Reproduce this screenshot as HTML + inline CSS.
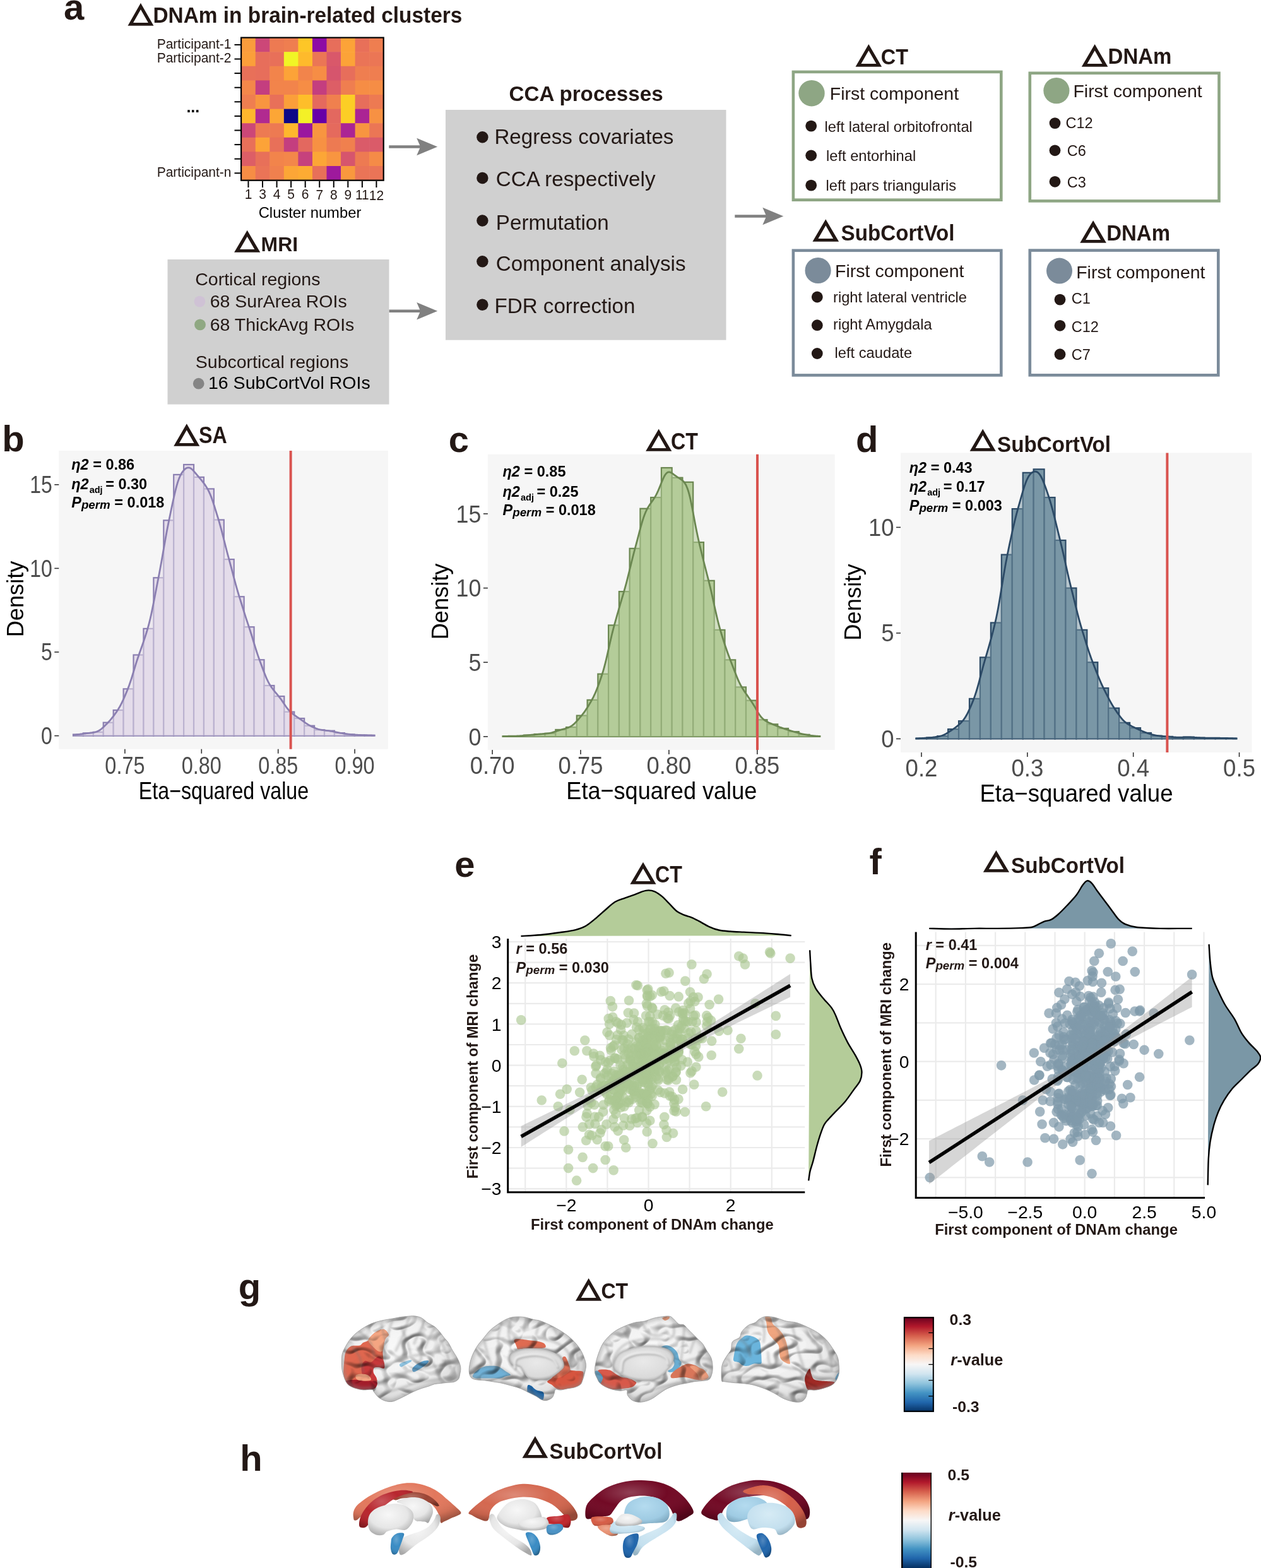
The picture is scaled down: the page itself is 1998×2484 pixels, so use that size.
<!DOCTYPE html>
<html><head><meta charset="utf-8"><title>Figure</title>
<style>html,body{margin:0;padding:0;background:#fff;}svg{display:block;}</style>
</head><body>
<svg width="1998" height="2484" viewBox="0 0 1998 2484" font-family="'Liberation Sans', Arial, Helvetica, sans-serif">
<rect width="1998" height="2484" fill="#fff"/>
<text x="101.1" y="30.9" font-size="58" font-weight="bold" fill="#231815">a</text>
<text transform="translate(199.53 39.63) scale(1.0993 1)" font-family="&apos;IPAGothic&apos;, &apos;DejaVu Sans&apos;, sans-serif" font-size="42.71" fill="#231815" stroke="#231815" stroke-width="1.84" stroke-linejoin="miter">&#9651;</text>
<text transform="translate(242.5 36.4) scale(1 1.050)" font-size="33.4" font-weight="bold" fill="#231815">DNAm in brain-related clusters</text>
<rect x="382.2" y="59.6" width="23.15" height="23.2" fill="#fa9c3c"/>
<rect x="404.75" y="59.6" width="23.15" height="23.2" fill="#cc4778"/>
<rect x="427.3" y="59.6" width="23.15" height="23.2" fill="#ed7a52"/>
<rect x="449.85" y="59.6" width="23.15" height="23.2" fill="#ef7e50"/>
<rect x="472.4" y="59.6" width="23.15" height="23.2" fill="#fdc627"/>
<rect x="494.95" y="59.6" width="23.15" height="23.2" fill="#8d0ba5"/>
<rect x="517.5" y="59.6" width="23.15" height="23.2" fill="#e76e5b"/>
<rect x="540.05" y="59.6" width="23.15" height="23.2" fill="#fca338"/>
<rect x="562.6" y="59.6" width="23.15" height="23.2" fill="#e87059"/>
<rect x="585.15" y="59.6" width="23.15" height="23.2" fill="#ef7e50"/>
<rect x="382.2" y="82.2" width="23.15" height="23.2" fill="#fb9f3a"/>
<rect x="404.75" y="82.2" width="23.15" height="23.2" fill="#e76e5b"/>
<rect x="427.3" y="82.2" width="23.15" height="23.2" fill="#e87059"/>
<rect x="449.85" y="82.2" width="23.15" height="23.2" fill="#f1f525"/>
<rect x="472.4" y="82.2" width="23.15" height="23.2" fill="#feba2c"/>
<rect x="494.95" y="82.2" width="23.15" height="23.2" fill="#eb7655"/>
<rect x="517.5" y="82.2" width="23.15" height="23.2" fill="#d9586a"/>
<rect x="540.05" y="82.2" width="23.15" height="23.2" fill="#fca338"/>
<rect x="562.6" y="82.2" width="23.15" height="23.2" fill="#ea7457"/>
<rect x="585.15" y="82.2" width="23.15" height="23.2" fill="#eb7655"/>
<rect x="382.2" y="104.8" width="23.15" height="23.2" fill="#e87059"/>
<rect x="404.75" y="104.8" width="23.15" height="23.2" fill="#e76e5b"/>
<rect x="427.3" y="104.8" width="23.15" height="23.2" fill="#f2844b"/>
<rect x="449.85" y="104.8" width="23.15" height="23.2" fill="#fca338"/>
<rect x="472.4" y="104.8" width="23.15" height="23.2" fill="#f2844b"/>
<rect x="494.95" y="104.8" width="23.15" height="23.2" fill="#f68d45"/>
<rect x="517.5" y="104.8" width="23.15" height="23.2" fill="#d6556d"/>
<rect x="540.05" y="104.8" width="23.15" height="23.2" fill="#e76e5b"/>
<rect x="562.6" y="104.8" width="23.15" height="23.2" fill="#ef7e50"/>
<rect x="585.15" y="104.8" width="23.15" height="23.2" fill="#ef7e50"/>
<rect x="382.2" y="127.4" width="23.15" height="23.2" fill="#f3874a"/>
<rect x="404.75" y="127.4" width="23.15" height="23.2" fill="#c43e7f"/>
<rect x="427.3" y="127.4" width="23.15" height="23.2" fill="#f2844b"/>
<rect x="449.85" y="127.4" width="23.15" height="23.2" fill="#f2844b"/>
<rect x="472.4" y="127.4" width="23.15" height="23.2" fill="#f68d45"/>
<rect x="494.95" y="127.4" width="23.15" height="23.2" fill="#c43e7f"/>
<rect x="517.5" y="127.4" width="23.15" height="23.2" fill="#dd5e66"/>
<rect x="540.05" y="127.4" width="23.15" height="23.2" fill="#ef7e50"/>
<rect x="562.6" y="127.4" width="23.15" height="23.2" fill="#f68d45"/>
<rect x="585.15" y="127.4" width="23.15" height="23.2" fill="#f68d45"/>
<rect x="382.2" y="150" width="23.15" height="23.2" fill="#ef7e50"/>
<rect x="404.75" y="150" width="23.15" height="23.2" fill="#f89540"/>
<rect x="427.3" y="150" width="23.15" height="23.2" fill="#e87059"/>
<rect x="449.85" y="150" width="23.15" height="23.2" fill="#fb9f3a"/>
<rect x="472.4" y="150" width="23.15" height="23.2" fill="#febe2a"/>
<rect x="494.95" y="150" width="23.15" height="23.2" fill="#e56a5d"/>
<rect x="517.5" y="150" width="23.15" height="23.2" fill="#f0804e"/>
<rect x="540.05" y="150" width="23.15" height="23.2" fill="#fcce25"/>
<rect x="562.6" y="150" width="23.15" height="23.2" fill="#e76e5b"/>
<rect x="585.15" y="150" width="23.15" height="23.2" fill="#ed7a52"/>
<rect x="382.2" y="172.6" width="23.15" height="23.2" fill="#feb72d"/>
<rect x="404.75" y="172.6" width="23.15" height="23.2" fill="#b12a90"/>
<rect x="427.3" y="172.6" width="23.15" height="23.2" fill="#fca636"/>
<rect x="449.85" y="172.6" width="23.15" height="23.2" fill="#0d0887"/>
<rect x="472.4" y="172.6" width="23.15" height="23.2" fill="#f3f027"/>
<rect x="494.95" y="172.6" width="23.15" height="23.2" fill="#6600a7"/>
<rect x="517.5" y="172.6" width="23.15" height="23.2" fill="#e3685f"/>
<rect x="540.05" y="172.6" width="23.15" height="23.2" fill="#fcce25"/>
<rect x="562.6" y="172.6" width="23.15" height="23.2" fill="#ab2494"/>
<rect x="585.15" y="172.6" width="23.15" height="23.2" fill="#f79143"/>
<rect x="382.2" y="195.2" width="23.15" height="23.2" fill="#cc4778"/>
<rect x="404.75" y="195.2" width="23.15" height="23.2" fill="#ed7a52"/>
<rect x="427.3" y="195.2" width="23.15" height="23.2" fill="#ed7a52"/>
<rect x="449.85" y="195.2" width="23.15" height="23.2" fill="#feb72d"/>
<rect x="472.4" y="195.2" width="23.15" height="23.2" fill="#9a169f"/>
<rect x="494.95" y="195.2" width="23.15" height="23.2" fill="#f89540"/>
<rect x="517.5" y="195.2" width="23.15" height="23.2" fill="#e56a5d"/>
<rect x="540.05" y="195.2" width="23.15" height="23.2" fill="#ab2494"/>
<rect x="562.6" y="195.2" width="23.15" height="23.2" fill="#f89540"/>
<rect x="585.15" y="195.2" width="23.15" height="23.2" fill="#eb7655"/>
<rect x="382.2" y="217.8" width="23.15" height="23.2" fill="#e87059"/>
<rect x="404.75" y="217.8" width="23.15" height="23.2" fill="#fca338"/>
<rect x="427.3" y="217.8" width="23.15" height="23.2" fill="#e87059"/>
<rect x="449.85" y="217.8" width="23.15" height="23.2" fill="#c43e7f"/>
<rect x="472.4" y="217.8" width="23.15" height="23.2" fill="#e3685f"/>
<rect x="494.95" y="217.8" width="23.15" height="23.2" fill="#f79143"/>
<rect x="517.5" y="217.8" width="23.15" height="23.2" fill="#ed7a52"/>
<rect x="540.05" y="217.8" width="23.15" height="23.2" fill="#f0804e"/>
<rect x="562.6" y="217.8" width="23.15" height="23.2" fill="#da5b69"/>
<rect x="585.15" y="217.8" width="23.15" height="23.2" fill="#da5b69"/>
<rect x="382.2" y="240.4" width="23.15" height="23.2" fill="#dd5e66"/>
<rect x="404.75" y="240.4" width="23.15" height="23.2" fill="#e87059"/>
<rect x="427.3" y="240.4" width="23.15" height="23.2" fill="#f2844b"/>
<rect x="449.85" y="240.4" width="23.15" height="23.2" fill="#f3874a"/>
<rect x="472.4" y="240.4" width="23.15" height="23.2" fill="#c6417d"/>
<rect x="494.95" y="240.4" width="23.15" height="23.2" fill="#fca636"/>
<rect x="517.5" y="240.4" width="23.15" height="23.2" fill="#f89540"/>
<rect x="540.05" y="240.4" width="23.15" height="23.2" fill="#d6556d"/>
<rect x="562.6" y="240.4" width="23.15" height="23.2" fill="#ed7a52"/>
<rect x="585.15" y="240.4" width="23.15" height="23.2" fill="#f58b47"/>
<rect x="382.2" y="263" width="23.15" height="23.2" fill="#f68d45"/>
<rect x="404.75" y="263" width="23.15" height="23.2" fill="#ea7457"/>
<rect x="427.3" y="263" width="23.15" height="23.2" fill="#f0804e"/>
<rect x="449.85" y="263" width="23.15" height="23.2" fill="#fca636"/>
<rect x="472.4" y="263" width="23.15" height="23.2" fill="#fdab33"/>
<rect x="494.95" y="263" width="23.15" height="23.2" fill="#e87059"/>
<rect x="517.5" y="263" width="23.15" height="23.2" fill="#9e199d"/>
<rect x="540.05" y="263" width="23.15" height="23.2" fill="#f9983e"/>
<rect x="562.6" y="263" width="23.15" height="23.2" fill="#ea7457"/>
<rect x="585.15" y="263" width="23.15" height="23.2" fill="#ea7457"/>
<rect x="382.1" y="59.6" width="225.6" height="226.1" fill="none" stroke="#000" stroke-width="2.2"/>
<line x1="371.5" y1="70.9" x2="381" y2="70.9" stroke="#000" stroke-width="2"/>
<line x1="371.5" y1="93.5" x2="381" y2="93.5" stroke="#000" stroke-width="2"/>
<line x1="371.5" y1="116.1" x2="381" y2="116.1" stroke="#000" stroke-width="2"/>
<line x1="371.5" y1="138.7" x2="381" y2="138.7" stroke="#000" stroke-width="2"/>
<line x1="371.5" y1="161.3" x2="381" y2="161.3" stroke="#000" stroke-width="2"/>
<line x1="371.5" y1="183.9" x2="381" y2="183.9" stroke="#000" stroke-width="2"/>
<line x1="371.5" y1="206.5" x2="381" y2="206.5" stroke="#000" stroke-width="2"/>
<line x1="371.5" y1="229.1" x2="381" y2="229.1" stroke="#000" stroke-width="2"/>
<line x1="371.5" y1="251.7" x2="381" y2="251.7" stroke="#000" stroke-width="2"/>
<line x1="371.5" y1="274.3" x2="381" y2="274.3" stroke="#000" stroke-width="2"/>
<text transform="translate(366.5 76.8) scale(1 1.050)" font-size="21" text-anchor="end" fill="#231815">Participant-1</text>
<text transform="translate(366.5 99.4) scale(1 1.050)" font-size="21" text-anchor="end" fill="#231815">Participant-2</text>
<text transform="translate(366.5 280.2) scale(1 1.050)" font-size="21" text-anchor="end" fill="#231815">Participant-n</text>
<text x="305.8" y="177.5" font-size="25" font-weight="bold" text-anchor="middle" fill="#000">...</text>
<line x1="393.47" y1="287" x2="393.47" y2="297" stroke="#000" stroke-width="2"/>
<text transform="translate(393.47 314.6) scale(1 1.050)" font-size="21" text-anchor="middle" fill="#231815">1</text>
<line x1="416.02" y1="287" x2="416.02" y2="297" stroke="#000" stroke-width="2"/>
<text transform="translate(416.02 314.82) scale(1 1.050)" font-size="21" text-anchor="middle" fill="#231815">3</text>
<line x1="438.57" y1="287" x2="438.57" y2="297" stroke="#000" stroke-width="2"/>
<text transform="translate(438.57 315.04) scale(1 1.050)" font-size="21" text-anchor="middle" fill="#231815">4</text>
<line x1="461.12" y1="287" x2="461.12" y2="297" stroke="#000" stroke-width="2"/>
<text transform="translate(461.12 315.26) scale(1 1.050)" font-size="21" text-anchor="middle" fill="#231815">5</text>
<line x1="483.68" y1="287" x2="483.68" y2="297" stroke="#000" stroke-width="2"/>
<text transform="translate(483.68 315.48) scale(1 1.050)" font-size="21" text-anchor="middle" fill="#231815">6</text>
<line x1="506.23" y1="287" x2="506.23" y2="297" stroke="#000" stroke-width="2"/>
<text transform="translate(506.23 315.7) scale(1 1.050)" font-size="21" text-anchor="middle" fill="#231815">7</text>
<line x1="528.77" y1="287" x2="528.77" y2="297" stroke="#000" stroke-width="2"/>
<text transform="translate(528.77 315.92) scale(1 1.050)" font-size="21" text-anchor="middle" fill="#231815">8</text>
<line x1="551.33" y1="287" x2="551.33" y2="297" stroke="#000" stroke-width="2"/>
<text transform="translate(551.33 316.14) scale(1 1.050)" font-size="21" text-anchor="middle" fill="#231815">9</text>
<line x1="573.88" y1="287" x2="573.88" y2="297" stroke="#000" stroke-width="2"/>
<text transform="translate(573.88 316.36) scale(1 1.050)" font-size="21" text-anchor="middle" fill="#231815">11</text>
<line x1="596.42" y1="287" x2="596.42" y2="297" stroke="#000" stroke-width="2"/>
<text transform="translate(596.42 316.58) scale(1 1.050)" font-size="21" text-anchor="middle" fill="#231815">12</text>
<text x="491" y="344.5" font-size="23.8" text-anchor="middle" fill="#000">Cluster number</text>
<line x1="616.3" y1="232.5" x2="672.7" y2="232.5" stroke="#808080" stroke-width="4.4"/>
<polygon points="693.2,232.5 660.2,218.8 666.2,232.5 660.2,246.2" fill="#808080"/>
<line x1="616.3" y1="492.7" x2="672.7" y2="492.7" stroke="#808080" stroke-width="4.4"/>
<polygon points="693.2,492.7 660.2,479 666.2,492.7 660.2,506.4" fill="#808080"/>
<line x1="1164.3" y1="342.5" x2="1220.8" y2="342.5" stroke="#808080" stroke-width="4.4"/>
<polygon points="1241.3,342.5 1208.3,328.8 1214.3,342.5 1208.3,356.2" fill="#808080"/>
<rect x="706" y="174" width="444.5" height="364.7" fill="#d0d0d0"/>
<text x="928.6" y="160" font-size="33.2" font-weight="bold" text-anchor="middle" fill="#231815">CCA processes</text>
<circle cx="764.4" cy="217.3" r="9.2" fill="#231815"/>
<text x="783.4" y="228.4" font-size="33.2" fill="#231815">Regress covariates</text>
<circle cx="764.4" cy="282" r="9.2" fill="#231815"/>
<text x="785.8" y="294.8" font-size="33.2" fill="#231815">CCA respectively</text>
<circle cx="764.4" cy="349.5" r="9.2" fill="#231815"/>
<text x="785.8" y="364" font-size="33.2" fill="#231815">Permutation</text>
<circle cx="764.4" cy="414.2" r="9.2" fill="#231815"/>
<text x="785.8" y="428.7" font-size="33.2" fill="#231815">Component analysis</text>
<circle cx="764.4" cy="482.7" r="9.2" fill="#231815"/>
<text x="783.4" y="495.5" font-size="33.2" fill="#231815">FDR correction</text>
<text transform="translate(368.28 399.35) scale(1.1415 1)" font-family="&apos;IPAGothic&apos;, &apos;DejaVu Sans&apos;, sans-serif" font-size="41.13" fill="#231815" stroke="#231815" stroke-width="1.94" stroke-linejoin="miter">&#9651;</text>
<text x="413.6" y="398.1" font-size="31.9" font-weight="bold" fill="#231815">MRI</text>
<rect x="265.5" y="411" width="351" height="229.6" fill="#d0d0d0"/>
<text x="309.2" y="452.1" font-size="28.55" fill="#231815">Cortical regions</text>
<circle cx="316.4" cy="477.6" r="8.9" fill="#cfc2d5"/>
<text x="332.7" y="486.7" font-size="28.5" fill="#231815">68 SurArea ROIs</text>
<circle cx="317" cy="514.4" r="8.9" fill="#8fa882"/>
<text x="332.7" y="524" font-size="28.5" fill="#231815">68 ThickAvg ROIs</text>
<text x="309.8" y="582.8" font-size="28.5" fill="#231815">Subcortical regions</text>
<circle cx="314.7" cy="607.7" r="8.9" fill="#858585"/>
<text x="330" y="616.3" font-size="28.5" fill="#000">16 SubCortVol ROIs</text>
<rect x="1256.9" y="113.9" width="329.4" height="202.8" fill="none" stroke="#8ea684" stroke-width="4.6"/>
<rect x="1631.8" y="115.8" width="299.7" height="202.6" fill="none" stroke="#8ea684" stroke-width="4.6"/>
<rect x="1256.9" y="396.8" width="329.4" height="197.6" fill="none" stroke="#7b8b9a" stroke-width="4.6"/>
<rect x="1631.8" y="396.6" width="298.5" height="197.7" fill="none" stroke="#7b8b9a" stroke-width="4.6"/>
<text transform="translate(1352.46 104.53) scale(1.1203 1)" font-family="&apos;IPAGothic&apos;, &apos;DejaVu Sans&apos;, sans-serif" font-size="42.57" fill="#231815" stroke="#231815" stroke-width="1.85" stroke-linejoin="miter">&#9651;</text>
<text transform="translate(1395.8 101.5) scale(1 1.090)" font-size="32.4" font-weight="bold" fill="#231815">CT</text>
<text transform="translate(1710.76 104.62) scale(1.1238 1)" font-family="&apos;IPAGothic&apos;, &apos;DejaVu Sans&apos;, sans-serif" font-size="42.42" fill="#231815" stroke="#231815" stroke-width="1.86" stroke-linejoin="miter">&#9651;</text>
<text transform="translate(1755.6 101.3) scale(1 1.090)" font-size="33" font-weight="bold" fill="#231815">DNAm</text>
<text transform="translate(1284.48 382.2) scale(1.1346 1)" font-family="&apos;IPAGothic&apos;, &apos;DejaVu Sans&apos;, sans-serif" font-size="41.99" fill="#231815" stroke="#231815" stroke-width="1.89" stroke-linejoin="miter">&#9651;</text>
<text transform="translate(1332.5 381.3) scale(1 1.070)" font-size="33.2" font-weight="bold" fill="#231815">SubCortVol</text>
<text transform="translate(1708.17 383.6) scale(1.1310 1)" font-family="&apos;IPAGothic&apos;, &apos;DejaVu Sans&apos;, sans-serif" font-size="42.13" fill="#231815" stroke="#231815" stroke-width="1.88" stroke-linejoin="miter">&#9651;</text>
<text transform="translate(1753.2 380.6) scale(1 1.090)" font-size="33" font-weight="bold" fill="#231815">DNAm</text>
<circle cx="1286" cy="147.7" r="20.7" fill="#8ea684"/>
<text x="1314.8" y="158" font-size="28.5" fill="#231815">First component</text>
<circle cx="1285.2" cy="199.6" r="8.9" fill="#231815"/>
<text x="1306.5" y="208.5" font-size="23.7" fill="#231815">left lateral orbitofrontal</text>
<circle cx="1285.2" cy="246.3" r="8.9" fill="#231815"/>
<text x="1309" y="254.8" font-size="23.7" fill="#231815">left entorhinal</text>
<circle cx="1285.2" cy="293.6" r="8.9" fill="#231815"/>
<text x="1308.5" y="302.2" font-size="23.7" fill="#231815">left pars triangularis</text>
<circle cx="1673.9" cy="143.6" r="20.6" fill="#8ea684"/>
<text x="1700.4" y="153.5" font-size="28.5" fill="#231815">First component</text>
<circle cx="1671.5" cy="195.1" r="8.9" fill="#231815"/>
<text x="1688.5" y="203.2" font-size="23.5" fill="#231815">C12</text>
<circle cx="1671.5" cy="238.3" r="8.9" fill="#231815"/>
<text x="1690.8" y="246.9" font-size="23.5" fill="#231815">C6</text>
<circle cx="1671.5" cy="287.8" r="8.9" fill="#231815"/>
<text x="1690.8" y="296.7" font-size="23.5" fill="#231815">C3</text>
<circle cx="1296.1" cy="428.5" r="20.6" fill="#7b8b9a"/>
<text x="1323.1" y="438.9" font-size="28.5" fill="#231815">First component</text>
<circle cx="1294.8" cy="470.5" r="8.9" fill="#231815"/>
<text x="1320" y="478.8" font-size="23.7" fill="#231815">right lateral ventricle</text>
<circle cx="1294.8" cy="515.2" r="8.9" fill="#231815"/>
<text x="1320" y="522.4" font-size="23.7" fill="#231815">right Amygdala</text>
<circle cx="1294.8" cy="560" r="8.9" fill="#231815"/>
<text x="1322.6" y="567" font-size="23.7" fill="#231815">left caudate</text>
<circle cx="1678.5" cy="429.1" r="20.5" fill="#7b8b9a"/>
<text x="1705.2" y="441.2" font-size="28.5" fill="#231815">First component</text>
<circle cx="1679.5" cy="474.6" r="8.9" fill="#231815"/>
<text x="1697.7" y="481.2" font-size="23.5" fill="#231815">C1</text>
<circle cx="1679.5" cy="515.8" r="8.9" fill="#231815"/>
<text x="1697.7" y="525.9" font-size="23.5" fill="#231815">C12</text>
<circle cx="1679.5" cy="561.2" r="8.9" fill="#231815"/>
<text x="1697.7" y="570" font-size="23.5" fill="#231815">C7</text>
<rect x="93.3" y="714" width="521.5" height="472.7" fill="#f6f6f6"/>
<g>
<rect x="116" y="1163.48" width="15.92" height="2.12" fill="#e4dcea" stroke="#8b7fb1" stroke-width="2.2"/>
<rect x="131.92" y="1161.36" width="15.92" height="4.24" fill="#e4dcea" stroke="#8b7fb1" stroke-width="2.2"/>
<rect x="147.84" y="1159.77" width="15.92" height="5.83" fill="#e4dcea" stroke="#8b7fb1" stroke-width="2.2"/>
<rect x="163.76" y="1144.65" width="15.92" height="20.95" fill="#e4dcea" stroke="#8b7fb1" stroke-width="2.2"/>
<rect x="179.68" y="1125.02" width="15.92" height="40.58" fill="#e4dcea" stroke="#8b7fb1" stroke-width="2.2"/>
<rect x="195.6" y="1091.34" width="15.92" height="74.26" fill="#e4dcea" stroke="#8b7fb1" stroke-width="2.2"/>
<rect x="211.52" y="1037.51" width="15.92" height="128.09" fill="#e4dcea" stroke="#8b7fb1" stroke-width="2.2"/>
<rect x="227.44" y="995.87" width="15.92" height="169.73" fill="#e4dcea" stroke="#8b7fb1" stroke-width="2.2"/>
<rect x="243.36" y="915.25" width="15.92" height="250.35" fill="#e4dcea" stroke="#8b7fb1" stroke-width="2.2"/>
<rect x="259.28" y="824.29" width="15.92" height="341.31" fill="#e4dcea" stroke="#8b7fb1" stroke-width="2.2"/>
<rect x="275.2" y="751.89" width="15.92" height="413.71" fill="#e4dcea" stroke="#8b7fb1" stroke-width="2.2"/>
<rect x="291.12" y="735.98" width="15.92" height="429.62" fill="#e4dcea" stroke="#8b7fb1" stroke-width="2.2"/>
<rect x="307.04" y="755.87" width="15.92" height="409.73" fill="#e4dcea" stroke="#8b7fb1" stroke-width="2.2"/>
<rect x="322.96" y="774.43" width="15.92" height="391.17" fill="#e4dcea" stroke="#8b7fb1" stroke-width="2.2"/>
<rect x="338.88" y="823.49" width="15.92" height="342.11" fill="#e4dcea" stroke="#8b7fb1" stroke-width="2.2"/>
<rect x="354.8" y="886.08" width="15.92" height="279.52" fill="#e4dcea" stroke="#8b7fb1" stroke-width="2.2"/>
<rect x="370.72" y="945.22" width="15.92" height="220.38" fill="#e4dcea" stroke="#8b7fb1" stroke-width="2.2"/>
<rect x="386.64" y="993.22" width="15.92" height="172.38" fill="#e4dcea" stroke="#8b7fb1" stroke-width="2.2"/>
<rect x="402.56" y="1045.2" width="15.92" height="120.4" fill="#e4dcea" stroke="#8b7fb1" stroke-width="2.2"/>
<rect x="418.48" y="1086.04" width="15.92" height="79.56" fill="#e4dcea" stroke="#8b7fb1" stroke-width="2.2"/>
<rect x="434.4" y="1103.01" width="15.92" height="62.59" fill="#e4dcea" stroke="#8b7fb1" stroke-width="2.2"/>
<rect x="450.32" y="1127.68" width="15.92" height="37.92" fill="#e4dcea" stroke="#8b7fb1" stroke-width="2.2"/>
<rect x="466.24" y="1138.02" width="15.92" height="27.58" fill="#e4dcea" stroke="#8b7fb1" stroke-width="2.2"/>
<rect x="482.16" y="1149.69" width="15.92" height="15.91" fill="#e4dcea" stroke="#8b7fb1" stroke-width="2.2"/>
<rect x="498.08" y="1156.32" width="15.92" height="9.28" fill="#e4dcea" stroke="#8b7fb1" stroke-width="2.2"/>
<rect x="514" y="1157.64" width="15.92" height="7.96" fill="#e4dcea" stroke="#8b7fb1" stroke-width="2.2"/>
<rect x="529.92" y="1161.09" width="15.92" height="4.51" fill="#e4dcea" stroke="#8b7fb1" stroke-width="2.2"/>
<rect x="545.84" y="1163.48" width="15.92" height="2.12" fill="#e4dcea" stroke="#8b7fb1" stroke-width="2.2"/>
<rect x="561.76" y="1164.54" width="15.92" height="1.06" fill="#e4dcea" stroke="#8b7fb1" stroke-width="2.2"/>
<rect x="577.68" y="1164.8" width="15.92" height="0.8" fill="#e4dcea" stroke="#8b7fb1" stroke-width="2.2"/>
</g>
<polygon points="116,1165.6 116,1164.51 117.2,1164.36 118.39,1164.2 119.59,1164.04 120.79,1163.89 121.98,1163.73 123.18,1163.58 124.38,1163.42 125.58,1163.27 126.77,1163.12 127.97,1162.96 129.17,1162.8 130.36,1162.64 131.56,1162.47 132.76,1162.31 133.95,1162.15 135.15,1161.99 136.35,1161.84 137.55,1161.7 138.74,1161.55 139.94,1161.42 141.14,1161.28 142.33,1161.14 143.53,1161 144.73,1160.85 145.92,1160.69 147.12,1160.51 148.32,1160.31 149.52,1160.08 150.71,1159.8 151.91,1159.48 153.11,1159.1 154.3,1158.64 155.5,1158.1 156.7,1157.47 157.89,1156.75 159.09,1155.93 160.29,1155.02 161.49,1154.03 162.68,1152.97 163.88,1151.86 165.08,1150.71 166.27,1149.54 167.47,1148.35 168.67,1147.16 169.86,1145.95 171.06,1144.72 172.26,1143.46 173.46,1142.17 174.65,1140.82 175.85,1139.42 177.05,1137.97 178.24,1136.46 179.44,1134.91 180.64,1133.31 181.83,1131.68 183.03,1130.02 184.23,1128.32 185.43,1126.56 186.62,1124.74 187.82,1122.84 189.02,1120.84 190.21,1118.72 191.41,1116.48 192.61,1114.11 193.8,1111.63 195,1109.06 196.2,1106.4 197.4,1103.67 198.59,1100.9 199.79,1098.07 200.99,1095.17 202.18,1092.2 203.38,1089.12 204.58,1085.91 205.77,1082.54 206.97,1079.01 208.17,1075.31 209.37,1071.47 210.56,1067.52 211.76,1063.52 212.96,1059.51 214.15,1055.54 215.35,1051.66 216.55,1047.88 217.74,1044.23 218.94,1040.68 220.14,1037.22 221.34,1033.82 222.53,1030.44 223.73,1027.06 224.93,1023.65 226.12,1020.19 227.32,1016.69 228.52,1013.13 229.71,1009.51 230.91,1005.81 232.11,1002 233.31,998.05 234.5,993.91 235.7,989.54 236.9,984.9 238.09,979.96 239.29,974.7 240.49,969.15 241.68,963.35 242.88,957.35 244.08,951.22 245.28,945.03 246.47,938.82 247.67,932.64 248.87,926.48 250.06,920.34 251.26,914.17 252.46,907.93 253.65,901.58 254.85,895.07 256.05,888.42 257.25,881.62 258.44,874.73 259.64,867.8 260.84,860.91 262.03,854.14 263.23,847.52 264.43,841.11 265.62,834.89 266.82,828.86 268.02,822.98 269.22,817.2 270.41,811.49 271.61,805.81 272.81,800.16 274,794.57 275.2,789.07 276.4,783.74 277.59,778.62 278.79,773.81 279.99,769.35 281.18,765.28 282.38,761.62 283.58,758.37 284.78,755.5 285.97,752.97 287.17,750.75 288.37,748.8 289.56,747.08 290.76,745.56 291.96,744.24 293.15,743.12 294.35,742.2 295.55,741.49 296.75,741.01 297.94,740.78 299.14,740.79 300.34,741.06 301.53,741.57 302.73,742.31 303.93,743.24 305.12,744.35 306.32,745.58 307.52,746.92 308.72,748.31 309.91,749.73 311.11,751.15 312.31,752.57 313.5,753.98 314.7,755.37 315.9,756.76 317.09,758.16 318.29,759.59 319.49,761.04 320.69,762.54 321.88,764.09 323.08,765.69 324.28,767.36 325.47,769.1 326.67,770.93 327.87,772.87 329.06,774.95 330.26,777.19 331.46,779.64 332.66,782.3 333.85,785.19 335.05,788.31 336.25,791.63 337.44,795.14 338.64,798.8 339.84,802.55 341.03,806.36 342.23,810.21 343.43,814.08 344.63,817.98 345.82,821.91 347.02,825.92 348.22,830.02 349.41,834.26 350.61,838.63 351.81,843.15 353,847.8 354.2,852.53 355.4,857.31 356.6,862.09 357.79,866.82 358.99,871.48 360.19,876.05 361.38,880.53 362.58,884.96 363.78,889.36 364.97,893.76 366.17,898.2 367.37,902.69 368.57,907.23 369.76,911.8 370.96,916.37 372.16,920.9 373.35,925.36 374.55,929.7 375.75,933.92 376.94,938.01 378.14,941.97 379.34,945.85 380.54,949.68 381.73,953.47 382.93,957.27 384.13,961.08 385.32,964.91 386.52,968.74 387.72,972.56 388.91,976.35 390.11,980.09 391.31,983.77 392.51,987.42 393.7,991.03 394.9,994.65 396.1,998.3 397.29,1002 398.49,1005.78 399.69,1009.64 400.88,1013.57 402.08,1017.53 403.28,1021.49 404.48,1025.41 405.67,1029.26 406.87,1033 408.07,1036.63 409.26,1040.13 410.46,1043.53 411.66,1046.86 412.85,1050.13 414.05,1053.36 415.25,1056.58 416.45,1059.79 417.64,1062.97 418.84,1066.09 420.04,1069.13 421.23,1072.05 422.43,1074.83 423.63,1077.43 424.82,1079.86 426.02,1082.1 427.22,1084.18 428.42,1086.1 429.61,1087.9 430.81,1089.61 432.01,1091.23 433.2,1092.79 434.4,1094.31 435.6,1095.8 436.79,1097.26 437.99,1098.7 439.19,1100.14 440.38,1101.59 441.58,1103.05 442.78,1104.56 443.98,1106.11 445.17,1107.73 446.37,1109.4 447.57,1111.14 448.76,1112.92 449.96,1114.72 451.16,1116.51 452.35,1118.27 453.55,1119.97 454.75,1121.59 455.95,1123.1 457.14,1124.52 458.34,1125.83 459.54,1127.04 460.73,1128.18 461.93,1129.24 463.13,1130.25 464.32,1131.21 465.52,1132.14 466.72,1133.03 467.92,1133.9 469.11,1134.75 470.31,1135.58 471.51,1136.39 472.7,1137.19 473.9,1137.99 475.1,1138.79 476.29,1139.6 477.49,1140.43 478.69,1141.28 479.89,1142.14 481.08,1143.02 482.28,1143.89 483.48,1144.76 484.67,1145.61 485.87,1146.42 487.07,1147.2 488.26,1147.94 489.46,1148.64 490.66,1149.31 491.86,1149.94 493.05,1150.54 494.25,1151.12 495.45,1151.69 496.64,1152.23 497.84,1152.76 499.04,1153.27 500.23,1153.76 501.43,1154.21 502.63,1154.63 503.83,1155.01 505.02,1155.35 506.22,1155.65 507.42,1155.92 508.61,1156.15 509.81,1156.36 511.01,1156.54 512.2,1156.71 513.4,1156.87 514.6,1157.01 515.8,1157.15 516.99,1157.29 518.19,1157.43 519.39,1157.58 520.58,1157.73 521.78,1157.9 522.98,1158.08 524.17,1158.27 525.37,1158.48 526.57,1158.7 527.77,1158.94 528.96,1159.18 530.16,1159.43 531.36,1159.68 532.55,1159.93 533.75,1160.17 534.95,1160.41 536.14,1160.64 537.34,1160.85 538.54,1161.06 539.74,1161.27 540.93,1161.47 542.13,1161.66 543.33,1161.86 544.52,1162.05 545.72,1162.24 546.92,1162.42 548.11,1162.59 549.31,1162.76 550.51,1162.92 551.71,1163.07 552.9,1163.2 554.1,1163.33 555.3,1163.45 556.49,1163.56 557.69,1163.66 558.89,1163.76 560.08,1163.86 561.28,1163.95 562.48,1164.03 563.68,1164.11 564.87,1164.19 566.07,1164.26 567.27,1164.32 568.46,1164.38 569.66,1164.43 570.86,1164.48 572.05,1164.52 573.25,1164.55 574.45,1164.59 575.65,1164.62 576.84,1164.65 578.04,1164.68 579.24,1164.7 580.43,1164.73 581.63,1164.76 582.83,1164.79 584.02,1164.83 585.22,1164.86 586.42,1164.9 587.62,1164.94 588.81,1164.99 590.01,1165.04 591.21,1165.09 592.4,1165.14 593.6,1165.2 593.6,1165.6" fill="#e4dcea" fill-opacity="0.55"/>
<polyline points="116,1164.51 117.2,1164.36 118.39,1164.2 119.59,1164.04 120.79,1163.89 121.98,1163.73 123.18,1163.58 124.38,1163.42 125.58,1163.27 126.77,1163.12 127.97,1162.96 129.17,1162.8 130.36,1162.64 131.56,1162.47 132.76,1162.31 133.95,1162.15 135.15,1161.99 136.35,1161.84 137.55,1161.7 138.74,1161.55 139.94,1161.42 141.14,1161.28 142.33,1161.14 143.53,1161 144.73,1160.85 145.92,1160.69 147.12,1160.51 148.32,1160.31 149.52,1160.08 150.71,1159.8 151.91,1159.48 153.11,1159.1 154.3,1158.64 155.5,1158.1 156.7,1157.47 157.89,1156.75 159.09,1155.93 160.29,1155.02 161.49,1154.03 162.68,1152.97 163.88,1151.86 165.08,1150.71 166.27,1149.54 167.47,1148.35 168.67,1147.16 169.86,1145.95 171.06,1144.72 172.26,1143.46 173.46,1142.17 174.65,1140.82 175.85,1139.42 177.05,1137.97 178.24,1136.46 179.44,1134.91 180.64,1133.31 181.83,1131.68 183.03,1130.02 184.23,1128.32 185.43,1126.56 186.62,1124.74 187.82,1122.84 189.02,1120.84 190.21,1118.72 191.41,1116.48 192.61,1114.11 193.8,1111.63 195,1109.06 196.2,1106.4 197.4,1103.67 198.59,1100.9 199.79,1098.07 200.99,1095.17 202.18,1092.2 203.38,1089.12 204.58,1085.91 205.77,1082.54 206.97,1079.01 208.17,1075.31 209.37,1071.47 210.56,1067.52 211.76,1063.52 212.96,1059.51 214.15,1055.54 215.35,1051.66 216.55,1047.88 217.74,1044.23 218.94,1040.68 220.14,1037.22 221.34,1033.82 222.53,1030.44 223.73,1027.06 224.93,1023.65 226.12,1020.19 227.32,1016.69 228.52,1013.13 229.71,1009.51 230.91,1005.81 232.11,1002 233.31,998.05 234.5,993.91 235.7,989.54 236.9,984.9 238.09,979.96 239.29,974.7 240.49,969.15 241.68,963.35 242.88,957.35 244.08,951.22 245.28,945.03 246.47,938.82 247.67,932.64 248.87,926.48 250.06,920.34 251.26,914.17 252.46,907.93 253.65,901.58 254.85,895.07 256.05,888.42 257.25,881.62 258.44,874.73 259.64,867.8 260.84,860.91 262.03,854.14 263.23,847.52 264.43,841.11 265.62,834.89 266.82,828.86 268.02,822.98 269.22,817.2 270.41,811.49 271.61,805.81 272.81,800.16 274,794.57 275.2,789.07 276.4,783.74 277.59,778.62 278.79,773.81 279.99,769.35 281.18,765.28 282.38,761.62 283.58,758.37 284.78,755.5 285.97,752.97 287.17,750.75 288.37,748.8 289.56,747.08 290.76,745.56 291.96,744.24 293.15,743.12 294.35,742.2 295.55,741.49 296.75,741.01 297.94,740.78 299.14,740.79 300.34,741.06 301.53,741.57 302.73,742.31 303.93,743.24 305.12,744.35 306.32,745.58 307.52,746.92 308.72,748.31 309.91,749.73 311.11,751.15 312.31,752.57 313.5,753.98 314.7,755.37 315.9,756.76 317.09,758.16 318.29,759.59 319.49,761.04 320.69,762.54 321.88,764.09 323.08,765.69 324.28,767.36 325.47,769.1 326.67,770.93 327.87,772.87 329.06,774.95 330.26,777.19 331.46,779.64 332.66,782.3 333.85,785.19 335.05,788.31 336.25,791.63 337.44,795.14 338.64,798.8 339.84,802.55 341.03,806.36 342.23,810.21 343.43,814.08 344.63,817.98 345.82,821.91 347.02,825.92 348.22,830.02 349.41,834.26 350.61,838.63 351.81,843.15 353,847.8 354.2,852.53 355.4,857.31 356.6,862.09 357.79,866.82 358.99,871.48 360.19,876.05 361.38,880.53 362.58,884.96 363.78,889.36 364.97,893.76 366.17,898.2 367.37,902.69 368.57,907.23 369.76,911.8 370.96,916.37 372.16,920.9 373.35,925.36 374.55,929.7 375.75,933.92 376.94,938.01 378.14,941.97 379.34,945.85 380.54,949.68 381.73,953.47 382.93,957.27 384.13,961.08 385.32,964.91 386.52,968.74 387.72,972.56 388.91,976.35 390.11,980.09 391.31,983.77 392.51,987.42 393.7,991.03 394.9,994.65 396.1,998.3 397.29,1002 398.49,1005.78 399.69,1009.64 400.88,1013.57 402.08,1017.53 403.28,1021.49 404.48,1025.41 405.67,1029.26 406.87,1033 408.07,1036.63 409.26,1040.13 410.46,1043.53 411.66,1046.86 412.85,1050.13 414.05,1053.36 415.25,1056.58 416.45,1059.79 417.64,1062.97 418.84,1066.09 420.04,1069.13 421.23,1072.05 422.43,1074.83 423.63,1077.43 424.82,1079.86 426.02,1082.1 427.22,1084.18 428.42,1086.1 429.61,1087.9 430.81,1089.61 432.01,1091.23 433.2,1092.79 434.4,1094.31 435.6,1095.8 436.79,1097.26 437.99,1098.7 439.19,1100.14 440.38,1101.59 441.58,1103.05 442.78,1104.56 443.98,1106.11 445.17,1107.73 446.37,1109.4 447.57,1111.14 448.76,1112.92 449.96,1114.72 451.16,1116.51 452.35,1118.27 453.55,1119.97 454.75,1121.59 455.95,1123.1 457.14,1124.52 458.34,1125.83 459.54,1127.04 460.73,1128.18 461.93,1129.24 463.13,1130.25 464.32,1131.21 465.52,1132.14 466.72,1133.03 467.92,1133.9 469.11,1134.75 470.31,1135.58 471.51,1136.39 472.7,1137.19 473.9,1137.99 475.1,1138.79 476.29,1139.6 477.49,1140.43 478.69,1141.28 479.89,1142.14 481.08,1143.02 482.28,1143.89 483.48,1144.76 484.67,1145.61 485.87,1146.42 487.07,1147.2 488.26,1147.94 489.46,1148.64 490.66,1149.31 491.86,1149.94 493.05,1150.54 494.25,1151.12 495.45,1151.69 496.64,1152.23 497.84,1152.76 499.04,1153.27 500.23,1153.76 501.43,1154.21 502.63,1154.63 503.83,1155.01 505.02,1155.35 506.22,1155.65 507.42,1155.92 508.61,1156.15 509.81,1156.36 511.01,1156.54 512.2,1156.71 513.4,1156.87 514.6,1157.01 515.8,1157.15 516.99,1157.29 518.19,1157.43 519.39,1157.58 520.58,1157.73 521.78,1157.9 522.98,1158.08 524.17,1158.27 525.37,1158.48 526.57,1158.7 527.77,1158.94 528.96,1159.18 530.16,1159.43 531.36,1159.68 532.55,1159.93 533.75,1160.17 534.95,1160.41 536.14,1160.64 537.34,1160.85 538.54,1161.06 539.74,1161.27 540.93,1161.47 542.13,1161.66 543.33,1161.86 544.52,1162.05 545.72,1162.24 546.92,1162.42 548.11,1162.59 549.31,1162.76 550.51,1162.92 551.71,1163.07 552.9,1163.2 554.1,1163.33 555.3,1163.45 556.49,1163.56 557.69,1163.66 558.89,1163.76 560.08,1163.86 561.28,1163.95 562.48,1164.03 563.68,1164.11 564.87,1164.19 566.07,1164.26 567.27,1164.32 568.46,1164.38 569.66,1164.43 570.86,1164.48 572.05,1164.52 573.25,1164.55 574.45,1164.59 575.65,1164.62 576.84,1164.65 578.04,1164.68 579.24,1164.7 580.43,1164.73 581.63,1164.76 582.83,1164.79 584.02,1164.83 585.22,1164.86 586.42,1164.9 587.62,1164.94 588.81,1164.99 590.01,1165.04 591.21,1165.09 592.4,1165.14 593.6,1165.2" fill="none" stroke="#8b7fb1" stroke-width="2.8" stroke-linejoin="round"/>
<line x1="460.6" y1="714" x2="460.6" y2="1186.7" stroke="#d9534f" stroke-width="4"/>
<line x1="86.3" y1="1165.6" x2="93.3" y2="1165.6" stroke="#333" stroke-width="1.6"/>
<text transform="translate(82.8 1179) scale(1 1.190)" font-size="32" text-anchor="end" fill="#4d4d4d">0</text>
<line x1="86.3" y1="1033" x2="93.3" y2="1033" stroke="#333" stroke-width="1.6"/>
<text transform="translate(82.8 1046.4) scale(1 1.190)" font-size="32" text-anchor="end" fill="#4d4d4d">5</text>
<line x1="86.3" y1="900.4" x2="93.3" y2="900.4" stroke="#333" stroke-width="1.6"/>
<text transform="translate(82.8 913.8) scale(1 1.190)" font-size="32" text-anchor="end" fill="#4d4d4d">10</text>
<line x1="86.3" y1="767.8" x2="93.3" y2="767.8" stroke="#333" stroke-width="1.6"/>
<text transform="translate(82.8 781.2) scale(1 1.190)" font-size="32" text-anchor="end" fill="#4d4d4d">15</text>
<line x1="197.9" y1="1186.7" x2="197.9" y2="1193.7" stroke="#333" stroke-width="1.6"/>
<text transform="translate(197.9 1226) scale(1 1.190)" font-size="32.4" text-anchor="middle" fill="#4d4d4d">0.75</text>
<line x1="319.3" y1="1186.7" x2="319.3" y2="1193.7" stroke="#333" stroke-width="1.6"/>
<text transform="translate(319.3 1226) scale(1 1.190)" font-size="32.4" text-anchor="middle" fill="#4d4d4d">0.80</text>
<line x1="440.7" y1="1186.7" x2="440.7" y2="1193.7" stroke="#333" stroke-width="1.6"/>
<text transform="translate(440.7 1226) scale(1 1.190)" font-size="32.4" text-anchor="middle" fill="#4d4d4d">0.85</text>
<line x1="562.1" y1="1186.7" x2="562.1" y2="1193.7" stroke="#333" stroke-width="1.6"/>
<text transform="translate(562.1 1226) scale(1 1.190)" font-size="32.4" text-anchor="middle" fill="#4d4d4d">0.90</text>
<text transform="translate(354.5 1265.8) scale(1 1.190)" font-size="32.2" text-anchor="middle" fill="#000">Eta−squared value</text>
<text transform="translate(36.5 949) rotate(-90)" font-size="36.2" text-anchor="middle" fill="#000">Density</text>
<text x="3.3" y="715" font-size="58" font-weight="bold" fill="#231815">b</text>
<text transform="translate(272.23 705.91) scale(1.1126 1)" font-family="&apos;IPAGothic&apos;, &apos;DejaVu Sans&apos;, sans-serif" font-size="42.28" fill="#231815" stroke="#231815" stroke-width="1.87" stroke-linejoin="miter">&#9651;</text>
<text transform="translate(315 702) scale(1 1.130)" font-size="32.2" font-weight="bold" fill="#231815">SA</text>
<text x="113.2" y="744.3" font-size="23.5" font-weight="bold" fill="#000"><tspan font-style="italic">η2</tspan> = 0.86</text>
<text x="113.2" y="775.4" font-size="23.5" font-weight="bold" fill="#000"><tspan font-style="italic">η2</tspan><tspan font-size="14.57" dx="1" dy="6">adj</tspan><tspan dx="-2" dy="-6"> = 0.30</tspan></text>
<text x="113.2" y="804.2" font-size="23.5" font-weight="bold" fill="#000"><tspan font-style="italic">P</tspan><tspan font-style="italic" font-size="18.8" dy="2">perm</tspan><tspan dy="-2"> = 0.018</tspan></text>
<rect x="772.9" y="719.8" width="549.8" height="468.2" fill="#f6f6f6"/>
<g>
<rect x="796.5" y="1166.19" width="16.76" height="0.71" fill="#b4cc99" stroke="#6b8751" stroke-width="2.2"/>
<rect x="813.26" y="1166.12" width="16.76" height="0.78" fill="#b4cc99" stroke="#6b8751" stroke-width="2.2"/>
<rect x="830.02" y="1164.55" width="16.76" height="2.35" fill="#b4cc99" stroke="#6b8751" stroke-width="2.2"/>
<rect x="846.78" y="1162.98" width="16.76" height="3.92" fill="#b4cc99" stroke="#6b8751" stroke-width="2.2"/>
<rect x="863.54" y="1161.8" width="16.76" height="5.1" fill="#b4cc99" stroke="#6b8751" stroke-width="2.2"/>
<rect x="880.3" y="1155.92" width="16.76" height="10.98" fill="#b4cc99" stroke="#6b8751" stroke-width="2.2"/>
<rect x="897.06" y="1152" width="16.76" height="14.9" fill="#b4cc99" stroke="#6b8751" stroke-width="2.2"/>
<rect x="913.82" y="1133.57" width="16.76" height="33.33" fill="#b4cc99" stroke="#6b8751" stroke-width="2.2"/>
<rect x="930.58" y="1108.86" width="16.76" height="58.04" fill="#b4cc99" stroke="#6b8751" stroke-width="2.2"/>
<rect x="947.34" y="1067.68" width="16.76" height="99.22" fill="#b4cc99" stroke="#6b8751" stroke-width="2.2"/>
<rect x="964.1" y="990.43" width="16.76" height="176.47" fill="#b4cc99" stroke="#6b8751" stroke-width="2.2"/>
<rect x="980.86" y="937.1" width="16.76" height="229.8" fill="#b4cc99" stroke="#6b8751" stroke-width="2.2"/>
<rect x="997.62" y="868.86" width="16.76" height="298.04" fill="#b4cc99" stroke="#6b8751" stroke-width="2.2"/>
<rect x="1014.38" y="805.72" width="16.76" height="361.18" fill="#b4cc99" stroke="#6b8751" stroke-width="2.2"/>
<rect x="1031.14" y="788.08" width="16.76" height="378.82" fill="#b4cc99" stroke="#6b8751" stroke-width="2.2"/>
<rect x="1047.9" y="741.02" width="16.76" height="425.88" fill="#b4cc99" stroke="#6b8751" stroke-width="2.2"/>
<rect x="1064.66" y="756.7" width="16.76" height="410.2" fill="#b4cc99" stroke="#6b8751" stroke-width="2.2"/>
<rect x="1081.42" y="763.76" width="16.76" height="403.14" fill="#b4cc99" stroke="#6b8751" stroke-width="2.2"/>
<rect x="1098.18" y="859.06" width="16.76" height="307.84" fill="#b4cc99" stroke="#6b8751" stroke-width="2.2"/>
<rect x="1114.94" y="919.84" width="16.76" height="247.06" fill="#b4cc99" stroke="#6b8751" stroke-width="2.2"/>
<rect x="1131.7" y="997.88" width="16.76" height="169.02" fill="#b4cc99" stroke="#6b8751" stroke-width="2.2"/>
<rect x="1148.46" y="1045.33" width="16.76" height="121.57" fill="#b4cc99" stroke="#6b8751" stroke-width="2.2"/>
<rect x="1165.22" y="1088.47" width="16.76" height="78.43" fill="#b4cc99" stroke="#6b8751" stroke-width="2.2"/>
<rect x="1181.98" y="1109.65" width="16.76" height="57.25" fill="#b4cc99" stroke="#6b8751" stroke-width="2.2"/>
<rect x="1198.74" y="1140.23" width="16.76" height="26.67" fill="#b4cc99" stroke="#6b8751" stroke-width="2.2"/>
<rect x="1215.5" y="1147.29" width="16.76" height="19.61" fill="#b4cc99" stroke="#6b8751" stroke-width="2.2"/>
<rect x="1232.26" y="1153.96" width="16.76" height="12.94" fill="#b4cc99" stroke="#6b8751" stroke-width="2.2"/>
<rect x="1249.02" y="1159.06" width="16.76" height="7.84" fill="#b4cc99" stroke="#6b8751" stroke-width="2.2"/>
<rect x="1265.78" y="1163.76" width="16.76" height="3.14" fill="#b4cc99" stroke="#6b8751" stroke-width="2.2"/>
<rect x="1282.54" y="1166.12" width="16.76" height="0.78" fill="#b4cc99" stroke="#6b8751" stroke-width="2.2"/>
</g>
<polygon points="796.5,1166.9 796.5,1166.55 797.76,1166.5 799.02,1166.45 800.28,1166.41 801.54,1166.37 802.8,1166.33 804.06,1166.3 805.32,1166.27 806.58,1166.24 807.84,1166.22 809.1,1166.2 810.36,1166.18 811.62,1166.17 812.88,1166.15 814.14,1166.13 815.4,1166.11 816.66,1166.08 817.92,1166.05 819.18,1166.02 820.44,1165.97 821.7,1165.91 822.96,1165.85 824.22,1165.77 825.48,1165.69 826.74,1165.59 828,1165.49 829.26,1165.38 830.52,1165.27 831.78,1165.15 833.04,1165.03 834.3,1164.92 835.56,1164.8 836.82,1164.69 838.08,1164.57 839.35,1164.46 840.61,1164.35 841.87,1164.23 843.13,1164.12 844.39,1164 845.65,1163.88 846.91,1163.76 848.17,1163.64 849.43,1163.52 850.69,1163.41 851.95,1163.29 853.21,1163.19 854.47,1163.08 855.73,1162.98 856.99,1162.88 858.25,1162.79 859.51,1162.68 860.77,1162.58 862.03,1162.47 863.29,1162.36 864.55,1162.23 865.81,1162.1 867.07,1161.95 868.33,1161.78 869.59,1161.59 870.85,1161.38 872.11,1161.14 873.37,1160.86 874.63,1160.55 875.89,1160.21 877.15,1159.84 878.41,1159.45 879.67,1159.03 880.93,1158.61 882.19,1158.19 883.45,1157.77 884.71,1157.37 885.97,1156.97 887.23,1156.59 888.49,1156.23 889.75,1155.87 891.01,1155.53 892.27,1155.18 893.53,1154.83 894.79,1154.48 896.05,1154.11 897.31,1153.71 898.57,1153.29 899.83,1152.84 901.09,1152.33 902.35,1151.77 903.61,1151.13 904.87,1150.41 906.13,1149.59 907.39,1148.68 908.65,1147.65 909.91,1146.52 911.17,1145.31 912.43,1144.01 913.69,1142.65 914.95,1141.24 916.21,1139.81 917.47,1138.35 918.73,1136.88 919.99,1135.39 921.25,1133.87 922.52,1132.32 923.78,1130.72 925.04,1129.06 926.3,1127.32 927.56,1125.52 928.82,1123.64 930.08,1121.7 931.34,1119.72 932.6,1117.68 933.86,1115.61 935.12,1113.5 936.38,1111.33 937.64,1109.09 938.9,1106.76 940.16,1104.31 941.42,1101.72 942.68,1098.99 943.94,1096.1 945.2,1093.06 946.46,1089.88 947.72,1086.58 948.98,1083.18 950.24,1079.67 951.5,1076.06 952.76,1072.32 954.02,1068.43 955.28,1064.35 956.54,1060.03 957.8,1055.45 959.06,1050.59 960.32,1045.47 961.58,1040.1 962.84,1034.55 964.1,1028.9 965.36,1023.21 966.62,1017.59 967.88,1012.09 969.14,1006.76 970.4,1001.64 971.66,996.71 972.92,991.96 974.18,987.35 975.44,982.85 976.7,978.4 977.96,973.98 979.22,969.58 980.48,965.19 981.74,960.82 983,956.48 984.26,952.16 985.52,947.86 986.78,943.57 988.04,939.26 989.3,934.9 990.56,930.43 991.82,925.83 993.08,921.07 994.34,916.16 995.6,911.12 996.86,905.97 998.12,900.77 999.38,895.57 1000.64,890.42 1001.9,885.35 1003.16,880.39 1004.42,875.52 1005.68,870.74 1006.95,866.01 1008.21,861.29 1009.47,856.55 1010.73,851.78 1011.99,847 1013.25,842.22 1014.51,837.49 1015.77,832.87 1017.03,828.43 1018.29,824.23 1019.55,820.32 1020.81,816.72 1022.07,813.46 1023.33,810.5 1024.59,807.85 1025.85,805.44 1027.11,803.25 1028.37,801.22 1029.63,799.3 1030.89,797.47 1032.15,795.68 1033.41,793.9 1034.67,792.08 1035.93,790.2 1037.19,788.23 1038.45,786.11 1039.71,783.84 1040.97,781.38 1042.23,778.72 1043.49,775.87 1044.75,772.86 1046.01,769.74 1047.27,766.57 1048.53,763.42 1049.79,760.39 1051.05,757.56 1052.31,755 1053.57,752.79 1054.83,750.97 1056.09,749.56 1057.35,748.58 1058.61,748 1059.87,747.8 1061.13,747.93 1062.39,748.33 1063.65,748.96 1064.91,749.74 1066.17,750.62 1067.43,751.56 1068.69,752.52 1069.95,753.46 1071.21,754.37 1072.47,755.24 1073.73,756.07 1074.99,756.86 1076.25,757.65 1077.51,758.44 1078.77,759.27 1080.03,760.16 1081.29,761.17 1082.55,762.34 1083.81,763.73 1085.07,765.42 1086.33,767.46 1087.59,769.94 1088.85,772.93 1090.12,776.48 1091.38,780.64 1092.64,785.4 1093.9,790.73 1095.16,796.59 1096.42,802.86 1097.68,809.43 1098.94,816.17 1100.2,822.95 1101.46,829.64 1102.72,836.15 1103.98,842.43 1105.24,848.44 1106.5,854.21 1107.76,859.75 1109.02,865.11 1110.28,870.36 1111.54,875.52 1112.8,880.62 1114.06,885.69 1115.32,890.73 1116.58,895.73 1117.84,900.69 1119.1,905.61 1120.36,910.51 1121.62,915.41 1122.88,920.37 1124.14,925.41 1125.4,930.59 1126.66,935.93 1127.92,941.44 1129.18,947.1 1130.44,952.87 1131.7,958.69 1132.96,964.47 1134.22,970.15 1135.48,975.66 1136.74,980.96 1138,986 1139.26,990.8 1140.52,995.37 1141.78,999.75 1143.04,1003.98 1144.3,1008.09 1145.56,1012.12 1146.82,1016.09 1148.08,1019.99 1149.34,1023.82 1150.6,1027.57 1151.86,1031.22 1153.12,1034.77 1154.38,1038.23 1155.64,1041.59 1156.9,1044.9 1158.16,1048.16 1159.42,1051.42 1160.68,1054.69 1161.94,1057.98 1163.2,1061.29 1164.46,1064.59 1165.72,1067.86 1166.98,1071.05 1168.24,1074.14 1169.5,1077.09 1170.76,1079.88 1172.02,1082.5 1173.28,1084.95 1174.55,1087.24 1175.81,1089.41 1177.07,1091.47 1178.33,1093.45 1179.59,1095.36 1180.85,1097.24 1182.11,1099.07 1183.37,1100.89 1184.63,1102.68 1185.89,1104.46 1187.15,1106.24 1188.41,1108.04 1189.67,1109.86 1190.93,1111.73 1192.19,1113.67 1193.45,1115.68 1194.71,1117.76 1195.97,1119.91 1197.23,1122.11 1198.49,1124.31 1199.75,1126.5 1201.01,1128.62 1202.27,1130.65 1203.53,1132.55 1204.79,1134.29 1206.05,1135.88 1207.31,1137.29 1208.57,1138.55 1209.83,1139.67 1211.09,1140.67 1212.35,1141.56 1213.61,1142.36 1214.87,1143.1 1216.13,1143.78 1217.39,1144.42 1218.65,1145.02 1219.91,1145.58 1221.17,1146.12 1222.43,1146.65 1223.69,1147.15 1224.95,1147.65 1226.21,1148.15 1227.47,1148.66 1228.73,1149.16 1229.99,1149.67 1231.25,1150.19 1232.51,1150.7 1233.77,1151.21 1235.03,1151.71 1236.29,1152.2 1237.55,1152.66 1238.81,1153.12 1240.07,1153.56 1241.33,1153.98 1242.59,1154.4 1243.85,1154.81 1245.11,1155.22 1246.37,1155.63 1247.63,1156.04 1248.89,1156.44 1250.15,1156.84 1251.41,1157.24 1252.67,1157.63 1253.93,1158.01 1255.19,1158.37 1256.45,1158.74 1257.72,1159.09 1258.98,1159.44 1260.24,1159.8 1261.5,1160.15 1262.76,1160.51 1264.02,1160.87 1265.28,1161.23 1266.54,1161.59 1267.8,1161.93 1269.06,1162.27 1270.32,1162.59 1271.58,1162.89 1272.84,1163.17 1274.1,1163.43 1275.36,1163.68 1276.62,1163.92 1277.88,1164.14 1279.14,1164.35 1280.4,1164.56 1281.66,1164.75 1282.92,1164.94 1284.18,1165.12 1285.44,1165.3 1286.7,1165.46 1287.96,1165.6 1289.22,1165.74 1290.48,1165.86 1291.74,1165.98 1293,1166.08 1294.26,1166.17 1295.52,1166.26 1296.78,1166.34 1298.04,1166.41 1299.3,1166.48 1299.3,1166.9" fill="#b4cc99" fill-opacity="0.55"/>
<polyline points="796.5,1166.55 797.76,1166.5 799.02,1166.45 800.28,1166.41 801.54,1166.37 802.8,1166.33 804.06,1166.3 805.32,1166.27 806.58,1166.24 807.84,1166.22 809.1,1166.2 810.36,1166.18 811.62,1166.17 812.88,1166.15 814.14,1166.13 815.4,1166.11 816.66,1166.08 817.92,1166.05 819.18,1166.02 820.44,1165.97 821.7,1165.91 822.96,1165.85 824.22,1165.77 825.48,1165.69 826.74,1165.59 828,1165.49 829.26,1165.38 830.52,1165.27 831.78,1165.15 833.04,1165.03 834.3,1164.92 835.56,1164.8 836.82,1164.69 838.08,1164.57 839.35,1164.46 840.61,1164.35 841.87,1164.23 843.13,1164.12 844.39,1164 845.65,1163.88 846.91,1163.76 848.17,1163.64 849.43,1163.52 850.69,1163.41 851.95,1163.29 853.21,1163.19 854.47,1163.08 855.73,1162.98 856.99,1162.88 858.25,1162.79 859.51,1162.68 860.77,1162.58 862.03,1162.47 863.29,1162.36 864.55,1162.23 865.81,1162.1 867.07,1161.95 868.33,1161.78 869.59,1161.59 870.85,1161.38 872.11,1161.14 873.37,1160.86 874.63,1160.55 875.89,1160.21 877.15,1159.84 878.41,1159.45 879.67,1159.03 880.93,1158.61 882.19,1158.19 883.45,1157.77 884.71,1157.37 885.97,1156.97 887.23,1156.59 888.49,1156.23 889.75,1155.87 891.01,1155.53 892.27,1155.18 893.53,1154.83 894.79,1154.48 896.05,1154.11 897.31,1153.71 898.57,1153.29 899.83,1152.84 901.09,1152.33 902.35,1151.77 903.61,1151.13 904.87,1150.41 906.13,1149.59 907.39,1148.68 908.65,1147.65 909.91,1146.52 911.17,1145.31 912.43,1144.01 913.69,1142.65 914.95,1141.24 916.21,1139.81 917.47,1138.35 918.73,1136.88 919.99,1135.39 921.25,1133.87 922.52,1132.32 923.78,1130.72 925.04,1129.06 926.3,1127.32 927.56,1125.52 928.82,1123.64 930.08,1121.7 931.34,1119.72 932.6,1117.68 933.86,1115.61 935.12,1113.5 936.38,1111.33 937.64,1109.09 938.9,1106.76 940.16,1104.31 941.42,1101.72 942.68,1098.99 943.94,1096.1 945.2,1093.06 946.46,1089.88 947.72,1086.58 948.98,1083.18 950.24,1079.67 951.5,1076.06 952.76,1072.32 954.02,1068.43 955.28,1064.35 956.54,1060.03 957.8,1055.45 959.06,1050.59 960.32,1045.47 961.58,1040.1 962.84,1034.55 964.1,1028.9 965.36,1023.21 966.62,1017.59 967.88,1012.09 969.14,1006.76 970.4,1001.64 971.66,996.71 972.92,991.96 974.18,987.35 975.44,982.85 976.7,978.4 977.96,973.98 979.22,969.58 980.48,965.19 981.74,960.82 983,956.48 984.26,952.16 985.52,947.86 986.78,943.57 988.04,939.26 989.3,934.9 990.56,930.43 991.82,925.83 993.08,921.07 994.34,916.16 995.6,911.12 996.86,905.97 998.12,900.77 999.38,895.57 1000.64,890.42 1001.9,885.35 1003.16,880.39 1004.42,875.52 1005.68,870.74 1006.95,866.01 1008.21,861.29 1009.47,856.55 1010.73,851.78 1011.99,847 1013.25,842.22 1014.51,837.49 1015.77,832.87 1017.03,828.43 1018.29,824.23 1019.55,820.32 1020.81,816.72 1022.07,813.46 1023.33,810.5 1024.59,807.85 1025.85,805.44 1027.11,803.25 1028.37,801.22 1029.63,799.3 1030.89,797.47 1032.15,795.68 1033.41,793.9 1034.67,792.08 1035.93,790.2 1037.19,788.23 1038.45,786.11 1039.71,783.84 1040.97,781.38 1042.23,778.72 1043.49,775.87 1044.75,772.86 1046.01,769.74 1047.27,766.57 1048.53,763.42 1049.79,760.39 1051.05,757.56 1052.31,755 1053.57,752.79 1054.83,750.97 1056.09,749.56 1057.35,748.58 1058.61,748 1059.87,747.8 1061.13,747.93 1062.39,748.33 1063.65,748.96 1064.91,749.74 1066.17,750.62 1067.43,751.56 1068.69,752.52 1069.95,753.46 1071.21,754.37 1072.47,755.24 1073.73,756.07 1074.99,756.86 1076.25,757.65 1077.51,758.44 1078.77,759.27 1080.03,760.16 1081.29,761.17 1082.55,762.34 1083.81,763.73 1085.07,765.42 1086.33,767.46 1087.59,769.94 1088.85,772.93 1090.12,776.48 1091.38,780.64 1092.64,785.4 1093.9,790.73 1095.16,796.59 1096.42,802.86 1097.68,809.43 1098.94,816.17 1100.2,822.95 1101.46,829.64 1102.72,836.15 1103.98,842.43 1105.24,848.44 1106.5,854.21 1107.76,859.75 1109.02,865.11 1110.28,870.36 1111.54,875.52 1112.8,880.62 1114.06,885.69 1115.32,890.73 1116.58,895.73 1117.84,900.69 1119.1,905.61 1120.36,910.51 1121.62,915.41 1122.88,920.37 1124.14,925.41 1125.4,930.59 1126.66,935.93 1127.92,941.44 1129.18,947.1 1130.44,952.87 1131.7,958.69 1132.96,964.47 1134.22,970.15 1135.48,975.66 1136.74,980.96 1138,986 1139.26,990.8 1140.52,995.37 1141.78,999.75 1143.04,1003.98 1144.3,1008.09 1145.56,1012.12 1146.82,1016.09 1148.08,1019.99 1149.34,1023.82 1150.6,1027.57 1151.86,1031.22 1153.12,1034.77 1154.38,1038.23 1155.64,1041.59 1156.9,1044.9 1158.16,1048.16 1159.42,1051.42 1160.68,1054.69 1161.94,1057.98 1163.2,1061.29 1164.46,1064.59 1165.72,1067.86 1166.98,1071.05 1168.24,1074.14 1169.5,1077.09 1170.76,1079.88 1172.02,1082.5 1173.28,1084.95 1174.55,1087.24 1175.81,1089.41 1177.07,1091.47 1178.33,1093.45 1179.59,1095.36 1180.85,1097.24 1182.11,1099.07 1183.37,1100.89 1184.63,1102.68 1185.89,1104.46 1187.15,1106.24 1188.41,1108.04 1189.67,1109.86 1190.93,1111.73 1192.19,1113.67 1193.45,1115.68 1194.71,1117.76 1195.97,1119.91 1197.23,1122.11 1198.49,1124.31 1199.75,1126.5 1201.01,1128.62 1202.27,1130.65 1203.53,1132.55 1204.79,1134.29 1206.05,1135.88 1207.31,1137.29 1208.57,1138.55 1209.83,1139.67 1211.09,1140.67 1212.35,1141.56 1213.61,1142.36 1214.87,1143.1 1216.13,1143.78 1217.39,1144.42 1218.65,1145.02 1219.91,1145.58 1221.17,1146.12 1222.43,1146.65 1223.69,1147.15 1224.95,1147.65 1226.21,1148.15 1227.47,1148.66 1228.73,1149.16 1229.99,1149.67 1231.25,1150.19 1232.51,1150.7 1233.77,1151.21 1235.03,1151.71 1236.29,1152.2 1237.55,1152.66 1238.81,1153.12 1240.07,1153.56 1241.33,1153.98 1242.59,1154.4 1243.85,1154.81 1245.11,1155.22 1246.37,1155.63 1247.63,1156.04 1248.89,1156.44 1250.15,1156.84 1251.41,1157.24 1252.67,1157.63 1253.93,1158.01 1255.19,1158.37 1256.45,1158.74 1257.72,1159.09 1258.98,1159.44 1260.24,1159.8 1261.5,1160.15 1262.76,1160.51 1264.02,1160.87 1265.28,1161.23 1266.54,1161.59 1267.8,1161.93 1269.06,1162.27 1270.32,1162.59 1271.58,1162.89 1272.84,1163.17 1274.1,1163.43 1275.36,1163.68 1276.62,1163.92 1277.88,1164.14 1279.14,1164.35 1280.4,1164.56 1281.66,1164.75 1282.92,1164.94 1284.18,1165.12 1285.44,1165.3 1286.7,1165.46 1287.96,1165.6 1289.22,1165.74 1290.48,1165.86 1291.74,1165.98 1293,1166.08 1294.26,1166.17 1295.52,1166.26 1296.78,1166.34 1298.04,1166.41 1299.3,1166.48" fill="none" stroke="#6b8751" stroke-width="2.8" stroke-linejoin="round"/>
<line x1="1200" y1="719.8" x2="1200" y2="1188" stroke="#d9534f" stroke-width="4"/>
<line x1="765.9" y1="1166.9" x2="772.9" y2="1166.9" stroke="#333" stroke-width="1.6"/>
<text transform="translate(762.4 1180.64) scale(1 1.090)" font-size="35.8" text-anchor="end" fill="#4d4d4d">0</text>
<line x1="765.9" y1="1049.25" x2="772.9" y2="1049.25" stroke="#333" stroke-width="1.6"/>
<text transform="translate(762.4 1062.99) scale(1 1.090)" font-size="35.8" text-anchor="end" fill="#4d4d4d">5</text>
<line x1="765.9" y1="931.6" x2="772.9" y2="931.6" stroke="#333" stroke-width="1.6"/>
<text transform="translate(762.4 945.34) scale(1 1.090)" font-size="35.8" text-anchor="end" fill="#4d4d4d">10</text>
<line x1="765.9" y1="813.95" x2="772.9" y2="813.95" stroke="#333" stroke-width="1.6"/>
<text transform="translate(762.4 827.69) scale(1 1.090)" font-size="35.8" text-anchor="end" fill="#4d4d4d">15</text>
<line x1="780.1" y1="1188" x2="780.1" y2="1195" stroke="#333" stroke-width="1.6"/>
<text transform="translate(780.1 1226.3) scale(1 1.090)" font-size="36.4" text-anchor="middle" fill="#4d4d4d">0.70</text>
<line x1="920" y1="1188" x2="920" y2="1195" stroke="#333" stroke-width="1.6"/>
<text transform="translate(920 1226.3) scale(1 1.090)" font-size="36.4" text-anchor="middle" fill="#4d4d4d">0.75</text>
<line x1="1059.9" y1="1188" x2="1059.9" y2="1195" stroke="#333" stroke-width="1.6"/>
<text transform="translate(1059.9 1226.3) scale(1 1.090)" font-size="36.4" text-anchor="middle" fill="#4d4d4d">0.80</text>
<line x1="1199.8" y1="1188" x2="1199.8" y2="1195" stroke="#333" stroke-width="1.6"/>
<text transform="translate(1199.8 1226.3) scale(1 1.090)" font-size="36.4" text-anchor="middle" fill="#4d4d4d">0.85</text>
<text transform="translate(1048.3 1265.7) scale(1 1.090)" font-size="36.1" text-anchor="middle" fill="#000">Eta−squared value</text>
<text transform="translate(710 953) rotate(-90)" font-size="36.2" text-anchor="middle" fill="#000">Density</text>
<text x="710.7" y="715.5" font-size="58" font-weight="bold" fill="#231815">c</text>
<text transform="translate(1020.16 713.87) scale(1.1305 1)" font-family="&apos;IPAGothic&apos;, &apos;DejaVu Sans&apos;, sans-serif" font-size="41.56" fill="#231815" stroke="#231815" stroke-width="1.91" stroke-linejoin="miter">&#9651;</text>
<text transform="translate(1063 711.8) scale(1 1.150)" font-size="32.2" font-weight="bold" fill="#231815">CT</text>
<text x="796.5" y="755.1" font-size="23.5" font-weight="bold" fill="#000"><tspan font-style="italic">η2</tspan> = 0.85</text>
<text x="796.5" y="786.5" font-size="23.5" font-weight="bold" fill="#000"><tspan font-style="italic">η2</tspan><tspan font-size="14.57" dx="1" dy="6">adj</tspan><tspan dx="-2" dy="-6"> = 0.25</tspan></text>
<text x="796.5" y="815.5" font-size="23.5" font-weight="bold" fill="#000"><tspan font-style="italic">P</tspan><tspan font-style="italic" font-size="18.8" dy="2">perm</tspan><tspan dy="-2"> = 0.018</tspan></text>
<rect x="1427" y="717.5" width="556.5" height="474.5" fill="#f6f6f6"/>
<g>
<rect x="1451.3" y="1169.62" width="16.94" height="0.78" fill="#7a97a6" stroke="#2c4a66" stroke-width="2.2"/>
<rect x="1468.24" y="1168.44" width="16.94" height="1.96" fill="#7a97a6" stroke="#2c4a66" stroke-width="2.2"/>
<rect x="1485.18" y="1166.09" width="16.94" height="4.31" fill="#7a97a6" stroke="#2c4a66" stroke-width="2.2"/>
<rect x="1502.12" y="1155.11" width="16.94" height="15.29" fill="#7a97a6" stroke="#2c4a66" stroke-width="2.2"/>
<rect x="1519.06" y="1142.16" width="16.94" height="28.24" fill="#7a97a6" stroke="#2c4a66" stroke-width="2.2"/>
<rect x="1536" y="1106.87" width="16.94" height="63.53" fill="#7a97a6" stroke="#2c4a66" stroke-width="2.2"/>
<rect x="1552.94" y="1041.38" width="16.94" height="129.02" fill="#7a97a6" stroke="#2c4a66" stroke-width="2.2"/>
<rect x="1569.88" y="986.48" width="16.94" height="183.92" fill="#7a97a6" stroke="#2c4a66" stroke-width="2.2"/>
<rect x="1586.82" y="878.64" width="16.94" height="291.76" fill="#7a97a6" stroke="#2c4a66" stroke-width="2.2"/>
<rect x="1603.76" y="806.09" width="16.94" height="364.31" fill="#7a97a6" stroke="#2c4a66" stroke-width="2.2"/>
<rect x="1620.7" y="748.83" width="16.94" height="421.57" fill="#7a97a6" stroke="#2c4a66" stroke-width="2.2"/>
<rect x="1637.64" y="743.34" width="16.94" height="427.06" fill="#7a97a6" stroke="#2c4a66" stroke-width="2.2"/>
<rect x="1654.58" y="788.05" width="16.94" height="382.35" fill="#7a97a6" stroke="#2c4a66" stroke-width="2.2"/>
<rect x="1671.52" y="855.89" width="16.94" height="314.51" fill="#7a97a6" stroke="#2c4a66" stroke-width="2.2"/>
<rect x="1688.46" y="931.58" width="16.94" height="238.82" fill="#7a97a6" stroke="#2c4a66" stroke-width="2.2"/>
<rect x="1705.4" y="997.85" width="16.94" height="172.55" fill="#7a97a6" stroke="#2c4a66" stroke-width="2.2"/>
<rect x="1722.34" y="1049.22" width="16.94" height="121.18" fill="#7a97a6" stroke="#2c4a66" stroke-width="2.2"/>
<rect x="1739.28" y="1090.01" width="16.94" height="80.39" fill="#7a97a6" stroke="#2c4a66" stroke-width="2.2"/>
<rect x="1756.22" y="1121.77" width="16.94" height="48.63" fill="#7a97a6" stroke="#2c4a66" stroke-width="2.2"/>
<rect x="1773.16" y="1144.91" width="16.94" height="25.49" fill="#7a97a6" stroke="#2c4a66" stroke-width="2.2"/>
<rect x="1790.1" y="1153.15" width="16.94" height="17.25" fill="#7a97a6" stroke="#2c4a66" stroke-width="2.2"/>
<rect x="1807.04" y="1160.99" width="16.94" height="9.41" fill="#7a97a6" stroke="#2c4a66" stroke-width="2.2"/>
<rect x="1823.98" y="1165.69" width="16.94" height="4.71" fill="#7a97a6" stroke="#2c4a66" stroke-width="2.2"/>
<rect x="1840.92" y="1166.87" width="16.94" height="3.53" fill="#7a97a6" stroke="#2c4a66" stroke-width="2.2"/>
<rect x="1857.86" y="1168.44" width="16.94" height="1.96" fill="#7a97a6" stroke="#2c4a66" stroke-width="2.2"/>
<rect x="1874.8" y="1167.65" width="16.94" height="2.75" fill="#7a97a6" stroke="#2c4a66" stroke-width="2.2"/>
<rect x="1891.74" y="1168.83" width="16.94" height="1.57" fill="#7a97a6" stroke="#2c4a66" stroke-width="2.2"/>
<rect x="1908.68" y="1169.22" width="16.94" height="1.18" fill="#7a97a6" stroke="#2c4a66" stroke-width="2.2"/>
<rect x="1925.62" y="1169.22" width="16.94" height="1.18" fill="#7a97a6" stroke="#2c4a66" stroke-width="2.2"/>
<rect x="1942.56" y="1169.62" width="16.94" height="0.78" fill="#7a97a6" stroke="#2c4a66" stroke-width="2.2"/>
</g>
<polygon points="1451.3,1170.4 1451.3,1169.99 1452.57,1169.93 1453.85,1169.87 1455.12,1169.81 1456.39,1169.74 1457.67,1169.68 1458.94,1169.61 1460.22,1169.54 1461.49,1169.46 1462.76,1169.39 1464.04,1169.3 1465.31,1169.22 1466.58,1169.13 1467.86,1169.04 1469.13,1168.94 1470.41,1168.84 1471.68,1168.74 1472.95,1168.63 1474.23,1168.52 1475.5,1168.4 1476.77,1168.27 1478.05,1168.14 1479.32,1167.99 1480.59,1167.83 1481.87,1167.66 1483.14,1167.47 1484.42,1167.27 1485.69,1167.04 1486.96,1166.8 1488.24,1166.52 1489.51,1166.22 1490.78,1165.88 1492.06,1165.49 1493.33,1165.05 1494.61,1164.55 1495.88,1163.99 1497.15,1163.37 1498.43,1162.69 1499.7,1161.96 1500.97,1161.18 1502.25,1160.37 1503.52,1159.55 1504.79,1158.7 1506.07,1157.86 1507.34,1157.01 1508.62,1156.16 1509.89,1155.31 1511.16,1154.44 1512.44,1153.55 1513.71,1152.63 1514.98,1151.67 1516.26,1150.67 1517.53,1149.63 1518.81,1148.54 1520.08,1147.4 1521.35,1146.2 1522.63,1144.94 1523.9,1143.6 1525.17,1142.16 1526.45,1140.6 1527.72,1138.9 1528.99,1137.04 1530.27,1135.01 1531.54,1132.8 1532.82,1130.42 1534.09,1127.89 1535.36,1125.21 1536.64,1122.42 1537.91,1119.52 1539.18,1116.53 1540.46,1113.43 1541.73,1110.23 1543.01,1106.89 1544.28,1103.37 1545.55,1099.66 1546.83,1095.71 1548.1,1091.53 1549.37,1087.12 1550.65,1082.51 1551.92,1077.75 1553.19,1072.89 1554.47,1068.01 1555.74,1063.15 1557.02,1058.38 1558.29,1053.72 1559.56,1049.17 1560.84,1044.73 1562.11,1040.37 1563.38,1036.04 1564.66,1031.71 1565.93,1027.35 1567.21,1022.92 1568.48,1018.42 1569.75,1013.84 1571.03,1009.16 1572.3,1004.39 1573.57,999.5 1574.85,994.46 1576.12,989.23 1577.39,983.74 1578.67,977.94 1579.94,971.77 1581.22,965.21 1582.49,958.25 1583.76,950.93 1585.04,943.31 1586.31,935.48 1587.58,927.58 1588.86,919.71 1590.13,911.98 1591.41,904.47 1592.68,897.25 1593.95,890.32 1595.23,883.66 1596.5,877.25 1597.77,871.01 1599.05,864.91 1600.32,858.9 1601.59,852.96 1602.87,847.09 1604.14,841.3 1605.42,835.63 1606.69,830.11 1607.96,824.76 1609.24,819.6 1610.51,814.63 1611.78,809.82 1613.06,805.14 1614.33,800.55 1615.61,796.02 1616.88,791.53 1618.15,787.07 1619.43,782.66 1620.7,778.34 1621.97,774.16 1623.25,770.19 1624.52,766.47 1625.79,763.07 1627.07,760.02 1628.34,757.33 1629.62,755.01 1630.89,753.05 1632.16,751.41 1633.44,750.08 1634.71,749.01 1635.98,748.18 1637.26,747.57 1638.53,747.17 1639.81,747 1641.08,747.06 1642.35,747.38 1643.63,747.98 1644.9,748.9 1646.17,750.16 1647.45,751.76 1648.72,753.73 1649.99,756.03 1651.27,758.66 1652.54,761.56 1653.82,764.69 1655.09,768 1656.36,771.45 1657.64,775.01 1658.91,778.65 1660.18,782.38 1661.46,786.2 1662.73,790.15 1664.01,794.26 1665.28,798.56 1666.55,803.06 1667.83,807.77 1669.1,812.67 1670.37,817.73 1671.65,822.9 1672.92,828.13 1674.19,833.37 1675.47,838.59 1676.74,843.78 1678.02,848.94 1679.29,854.1 1680.56,859.29 1681.84,864.55 1683.11,869.92 1684.38,875.41 1685.66,881.04 1686.93,886.76 1688.21,892.55 1689.48,898.35 1690.75,904.1 1692.03,909.75 1693.3,915.28 1694.57,920.66 1695.85,925.92 1697.12,931.08 1698.39,936.19 1699.67,941.27 1700.94,946.37 1702.22,951.5 1703.49,956.66 1704.76,961.82 1706.04,966.95 1707.31,972.01 1708.58,976.96 1709.86,981.76 1711.13,986.4 1712.41,990.87 1713.68,995.21 1714.95,999.44 1716.23,1003.59 1717.5,1007.7 1718.77,1011.8 1720.05,1015.89 1721.32,1019.96 1722.59,1024.01 1723.87,1027.99 1725.14,1031.88 1726.42,1035.67 1727.69,1039.33 1728.96,1042.86 1730.24,1046.29 1731.51,1049.62 1732.78,1052.9 1734.06,1056.14 1735.33,1059.38 1736.61,1062.61 1737.88,1065.83 1739.15,1069.04 1740.43,1072.21 1741.7,1075.31 1742.97,1078.33 1744.25,1081.26 1745.52,1084.08 1746.79,1086.8 1748.07,1089.45 1749.34,1092.04 1750.62,1094.59 1751.89,1097.12 1753.16,1099.64 1754.44,1102.16 1755.71,1104.66 1756.98,1107.14 1758.26,1109.56 1759.53,1111.92 1760.81,1114.2 1762.08,1116.38 1763.35,1118.49 1764.63,1120.51 1765.9,1122.47 1767.17,1124.39 1768.45,1126.27 1769.72,1128.13 1770.99,1129.97 1772.27,1131.78 1773.54,1133.56 1774.82,1135.28 1776.09,1136.93 1777.36,1138.49 1778.64,1139.94 1779.91,1141.28 1781.18,1142.51 1782.46,1143.63 1783.73,1144.66 1785.01,1145.61 1786.28,1146.48 1787.55,1147.31 1788.83,1148.09 1790.1,1148.83 1791.37,1149.53 1792.65,1150.21 1793.92,1150.87 1795.19,1151.5 1796.47,1152.11 1797.74,1152.7 1799.02,1153.29 1800.29,1153.87 1801.56,1154.46 1802.84,1155.05 1804.11,1155.64 1805.38,1156.24 1806.66,1156.84 1807.93,1157.44 1809.21,1158.02 1810.48,1158.58 1811.75,1159.12 1813.03,1159.64 1814.3,1160.13 1815.57,1160.59 1816.85,1161.03 1818.12,1161.46 1819.39,1161.87 1820.67,1162.27 1821.94,1162.65 1823.22,1163.03 1824.49,1163.4 1825.76,1163.75 1827.04,1164.08 1828.31,1164.39 1829.58,1164.68 1830.86,1164.93 1832.13,1165.17 1833.41,1165.37 1834.68,1165.56 1835.95,1165.73 1837.23,1165.87 1838.5,1166.01 1839.77,1166.14 1841.05,1166.25 1842.32,1166.36 1843.59,1166.47 1844.87,1166.57 1846.14,1166.67 1847.42,1166.77 1848.69,1166.87 1849.96,1166.97 1851.24,1167.07 1852.51,1167.17 1853.78,1167.28 1855.06,1167.39 1856.33,1167.5 1857.61,1167.61 1858.88,1167.71 1860.15,1167.81 1861.43,1167.9 1862.7,1167.98 1863.97,1168.05 1865.25,1168.1 1866.52,1168.13 1867.79,1168.15 1869.07,1168.15 1870.34,1168.14 1871.62,1168.12 1872.89,1168.09 1874.16,1168.06 1875.44,1168.02 1876.71,1167.99 1877.98,1167.96 1879.26,1167.93 1880.53,1167.91 1881.81,1167.91 1883.08,1167.91 1884.35,1167.93 1885.63,1167.96 1886.9,1168.01 1888.17,1168.06 1889.45,1168.13 1890.72,1168.2 1891.99,1168.27 1893.27,1168.35 1894.54,1168.43 1895.82,1168.5 1897.09,1168.57 1898.36,1168.64 1899.64,1168.7 1900.91,1168.76 1902.18,1168.81 1903.46,1168.86 1904.73,1168.9 1906.01,1168.94 1907.28,1168.97 1908.55,1169.01 1909.83,1169.04 1911.1,1169.07 1912.37,1169.1 1913.65,1169.12 1914.92,1169.14 1916.19,1169.16 1917.47,1169.17 1918.74,1169.19 1920.02,1169.2 1921.29,1169.21 1922.56,1169.21 1923.84,1169.22 1925.11,1169.22 1926.38,1169.23 1927.66,1169.23 1928.93,1169.24 1930.21,1169.24 1931.48,1169.25 1932.75,1169.26 1934.03,1169.28 1935.3,1169.29 1936.57,1169.31 1937.85,1169.33 1939.12,1169.35 1940.39,1169.38 1941.67,1169.41 1942.94,1169.44 1944.22,1169.47 1945.49,1169.5 1946.76,1169.54 1948.04,1169.58 1949.31,1169.61 1950.58,1169.65 1951.86,1169.7 1953.13,1169.74 1954.41,1169.79 1955.68,1169.84 1956.95,1169.89 1958.23,1169.95 1959.5,1170 1959.5,1170.4" fill="#7a97a6" fill-opacity="0.5"/>
<polyline points="1451.3,1169.99 1452.57,1169.93 1453.85,1169.87 1455.12,1169.81 1456.39,1169.74 1457.67,1169.68 1458.94,1169.61 1460.22,1169.54 1461.49,1169.46 1462.76,1169.39 1464.04,1169.3 1465.31,1169.22 1466.58,1169.13 1467.86,1169.04 1469.13,1168.94 1470.41,1168.84 1471.68,1168.74 1472.95,1168.63 1474.23,1168.52 1475.5,1168.4 1476.77,1168.27 1478.05,1168.14 1479.32,1167.99 1480.59,1167.83 1481.87,1167.66 1483.14,1167.47 1484.42,1167.27 1485.69,1167.04 1486.96,1166.8 1488.24,1166.52 1489.51,1166.22 1490.78,1165.88 1492.06,1165.49 1493.33,1165.05 1494.61,1164.55 1495.88,1163.99 1497.15,1163.37 1498.43,1162.69 1499.7,1161.96 1500.97,1161.18 1502.25,1160.37 1503.52,1159.55 1504.79,1158.7 1506.07,1157.86 1507.34,1157.01 1508.62,1156.16 1509.89,1155.31 1511.16,1154.44 1512.44,1153.55 1513.71,1152.63 1514.98,1151.67 1516.26,1150.67 1517.53,1149.63 1518.81,1148.54 1520.08,1147.4 1521.35,1146.2 1522.63,1144.94 1523.9,1143.6 1525.17,1142.16 1526.45,1140.6 1527.72,1138.9 1528.99,1137.04 1530.27,1135.01 1531.54,1132.8 1532.82,1130.42 1534.09,1127.89 1535.36,1125.21 1536.64,1122.42 1537.91,1119.52 1539.18,1116.53 1540.46,1113.43 1541.73,1110.23 1543.01,1106.89 1544.28,1103.37 1545.55,1099.66 1546.83,1095.71 1548.1,1091.53 1549.37,1087.12 1550.65,1082.51 1551.92,1077.75 1553.19,1072.89 1554.47,1068.01 1555.74,1063.15 1557.02,1058.38 1558.29,1053.72 1559.56,1049.17 1560.84,1044.73 1562.11,1040.37 1563.38,1036.04 1564.66,1031.71 1565.93,1027.35 1567.21,1022.92 1568.48,1018.42 1569.75,1013.84 1571.03,1009.16 1572.3,1004.39 1573.57,999.5 1574.85,994.46 1576.12,989.23 1577.39,983.74 1578.67,977.94 1579.94,971.77 1581.22,965.21 1582.49,958.25 1583.76,950.93 1585.04,943.31 1586.31,935.48 1587.58,927.58 1588.86,919.71 1590.13,911.98 1591.41,904.47 1592.68,897.25 1593.95,890.32 1595.23,883.66 1596.5,877.25 1597.77,871.01 1599.05,864.91 1600.32,858.9 1601.59,852.96 1602.87,847.09 1604.14,841.3 1605.42,835.63 1606.69,830.11 1607.96,824.76 1609.24,819.6 1610.51,814.63 1611.78,809.82 1613.06,805.14 1614.33,800.55 1615.61,796.02 1616.88,791.53 1618.15,787.07 1619.43,782.66 1620.7,778.34 1621.97,774.16 1623.25,770.19 1624.52,766.47 1625.79,763.07 1627.07,760.02 1628.34,757.33 1629.62,755.01 1630.89,753.05 1632.16,751.41 1633.44,750.08 1634.71,749.01 1635.98,748.18 1637.26,747.57 1638.53,747.17 1639.81,747 1641.08,747.06 1642.35,747.38 1643.63,747.98 1644.9,748.9 1646.17,750.16 1647.45,751.76 1648.72,753.73 1649.99,756.03 1651.27,758.66 1652.54,761.56 1653.82,764.69 1655.09,768 1656.36,771.45 1657.64,775.01 1658.91,778.65 1660.18,782.38 1661.46,786.2 1662.73,790.15 1664.01,794.26 1665.28,798.56 1666.55,803.06 1667.83,807.77 1669.1,812.67 1670.37,817.73 1671.65,822.9 1672.92,828.13 1674.19,833.37 1675.47,838.59 1676.74,843.78 1678.02,848.94 1679.29,854.1 1680.56,859.29 1681.84,864.55 1683.11,869.92 1684.38,875.41 1685.66,881.04 1686.93,886.76 1688.21,892.55 1689.48,898.35 1690.75,904.1 1692.03,909.75 1693.3,915.28 1694.57,920.66 1695.85,925.92 1697.12,931.08 1698.39,936.19 1699.67,941.27 1700.94,946.37 1702.22,951.5 1703.49,956.66 1704.76,961.82 1706.04,966.95 1707.31,972.01 1708.58,976.96 1709.86,981.76 1711.13,986.4 1712.41,990.87 1713.68,995.21 1714.95,999.44 1716.23,1003.59 1717.5,1007.7 1718.77,1011.8 1720.05,1015.89 1721.32,1019.96 1722.59,1024.01 1723.87,1027.99 1725.14,1031.88 1726.42,1035.67 1727.69,1039.33 1728.96,1042.86 1730.24,1046.29 1731.51,1049.62 1732.78,1052.9 1734.06,1056.14 1735.33,1059.38 1736.61,1062.61 1737.88,1065.83 1739.15,1069.04 1740.43,1072.21 1741.7,1075.31 1742.97,1078.33 1744.25,1081.26 1745.52,1084.08 1746.79,1086.8 1748.07,1089.45 1749.34,1092.04 1750.62,1094.59 1751.89,1097.12 1753.16,1099.64 1754.44,1102.16 1755.71,1104.66 1756.98,1107.14 1758.26,1109.56 1759.53,1111.92 1760.81,1114.2 1762.08,1116.38 1763.35,1118.49 1764.63,1120.51 1765.9,1122.47 1767.17,1124.39 1768.45,1126.27 1769.72,1128.13 1770.99,1129.97 1772.27,1131.78 1773.54,1133.56 1774.82,1135.28 1776.09,1136.93 1777.36,1138.49 1778.64,1139.94 1779.91,1141.28 1781.18,1142.51 1782.46,1143.63 1783.73,1144.66 1785.01,1145.61 1786.28,1146.48 1787.55,1147.31 1788.83,1148.09 1790.1,1148.83 1791.37,1149.53 1792.65,1150.21 1793.92,1150.87 1795.19,1151.5 1796.47,1152.11 1797.74,1152.7 1799.02,1153.29 1800.29,1153.87 1801.56,1154.46 1802.84,1155.05 1804.11,1155.64 1805.38,1156.24 1806.66,1156.84 1807.93,1157.44 1809.21,1158.02 1810.48,1158.58 1811.75,1159.12 1813.03,1159.64 1814.3,1160.13 1815.57,1160.59 1816.85,1161.03 1818.12,1161.46 1819.39,1161.87 1820.67,1162.27 1821.94,1162.65 1823.22,1163.03 1824.49,1163.4 1825.76,1163.75 1827.04,1164.08 1828.31,1164.39 1829.58,1164.68 1830.86,1164.93 1832.13,1165.17 1833.41,1165.37 1834.68,1165.56 1835.95,1165.73 1837.23,1165.87 1838.5,1166.01 1839.77,1166.14 1841.05,1166.25 1842.32,1166.36 1843.59,1166.47 1844.87,1166.57 1846.14,1166.67 1847.42,1166.77 1848.69,1166.87 1849.96,1166.97 1851.24,1167.07 1852.51,1167.17 1853.78,1167.28 1855.06,1167.39 1856.33,1167.5 1857.61,1167.61 1858.88,1167.71 1860.15,1167.81 1861.43,1167.9 1862.7,1167.98 1863.97,1168.05 1865.25,1168.1 1866.52,1168.13 1867.79,1168.15 1869.07,1168.15 1870.34,1168.14 1871.62,1168.12 1872.89,1168.09 1874.16,1168.06 1875.44,1168.02 1876.71,1167.99 1877.98,1167.96 1879.26,1167.93 1880.53,1167.91 1881.81,1167.91 1883.08,1167.91 1884.35,1167.93 1885.63,1167.96 1886.9,1168.01 1888.17,1168.06 1889.45,1168.13 1890.72,1168.2 1891.99,1168.27 1893.27,1168.35 1894.54,1168.43 1895.82,1168.5 1897.09,1168.57 1898.36,1168.64 1899.64,1168.7 1900.91,1168.76 1902.18,1168.81 1903.46,1168.86 1904.73,1168.9 1906.01,1168.94 1907.28,1168.97 1908.55,1169.01 1909.83,1169.04 1911.1,1169.07 1912.37,1169.1 1913.65,1169.12 1914.92,1169.14 1916.19,1169.16 1917.47,1169.17 1918.74,1169.19 1920.02,1169.2 1921.29,1169.21 1922.56,1169.21 1923.84,1169.22 1925.11,1169.22 1926.38,1169.23 1927.66,1169.23 1928.93,1169.24 1930.21,1169.24 1931.48,1169.25 1932.75,1169.26 1934.03,1169.28 1935.3,1169.29 1936.57,1169.31 1937.85,1169.33 1939.12,1169.35 1940.39,1169.38 1941.67,1169.41 1942.94,1169.44 1944.22,1169.47 1945.49,1169.5 1946.76,1169.54 1948.04,1169.58 1949.31,1169.61 1950.58,1169.65 1951.86,1169.7 1953.13,1169.74 1954.41,1169.79 1955.68,1169.84 1956.95,1169.89 1958.23,1169.95 1959.5,1170" fill="none" stroke="#2c4a66" stroke-width="2.8" stroke-linejoin="round"/>
<line x1="1849.4" y1="717.5" x2="1849.4" y2="1192" stroke="#d9534f" stroke-width="4"/>
<line x1="1420" y1="1170.4" x2="1427" y2="1170.4" stroke="#333" stroke-width="1.6"/>
<text transform="translate(1416.5 1183.89) scale(1 1.050)" font-size="36.5" text-anchor="end" fill="#4d4d4d">0</text>
<line x1="1420" y1="1002.9" x2="1427" y2="1002.9" stroke="#333" stroke-width="1.6"/>
<text transform="translate(1416.5 1016.39) scale(1 1.050)" font-size="36.5" text-anchor="end" fill="#4d4d4d">5</text>
<line x1="1420" y1="835.4" x2="1427" y2="835.4" stroke="#333" stroke-width="1.6"/>
<text transform="translate(1416.5 848.89) scale(1 1.050)" font-size="36.5" text-anchor="end" fill="#4d4d4d">10</text>
<line x1="1460" y1="1192" x2="1460" y2="1199" stroke="#333" stroke-width="1.6"/>
<text transform="translate(1460 1230.2) scale(1 1.050)" font-size="36.6" text-anchor="middle" fill="#4d4d4d">0.2</text>
<line x1="1627.85" y1="1192" x2="1627.85" y2="1199" stroke="#333" stroke-width="1.6"/>
<text transform="translate(1627.85 1230.2) scale(1 1.050)" font-size="36.6" text-anchor="middle" fill="#4d4d4d">0.3</text>
<line x1="1795.7" y1="1192" x2="1795.7" y2="1199" stroke="#333" stroke-width="1.6"/>
<text transform="translate(1795.7 1230.2) scale(1 1.050)" font-size="36.6" text-anchor="middle" fill="#4d4d4d">0.4</text>
<line x1="1963.55" y1="1192" x2="1963.55" y2="1199" stroke="#333" stroke-width="1.6"/>
<text transform="translate(1963.55 1230.2) scale(1 1.050)" font-size="36.6" text-anchor="middle" fill="#4d4d4d">0.5</text>
<text transform="translate(1705.5 1269.6) scale(1 1.050)" font-size="36.6" text-anchor="middle" fill="#000">Eta−squared value</text>
<text transform="translate(1364 954) rotate(-90)" font-size="36.4" text-anchor="middle" fill="#000">Density</text>
<text x="1355.9" y="715.6" font-size="58" font-weight="bold" fill="#231815">d</text>
<text transform="translate(1533.86 713.87) scale(1.1305 1)" font-family="&apos;IPAGothic&apos;, &apos;DejaVu Sans&apos;, sans-serif" font-size="41.56" fill="#231815" stroke="#231815" stroke-width="1.91" stroke-linejoin="miter">&#9651;</text>
<text transform="translate(1580 715.8) scale(1 1.070)" font-size="33.2" font-weight="bold" fill="#231815">SubCortVol</text>
<text x="1440.7" y="748.8" font-size="23.5" font-weight="bold" fill="#000"><tspan font-style="italic">η2</tspan> = 0.43</text>
<text x="1440.7" y="779.4" font-size="23.5" font-weight="bold" fill="#000"><tspan font-style="italic">η2</tspan><tspan font-size="14.57" dx="1" dy="6">adj</tspan><tspan dx="-2" dy="-6"> = 0.17</tspan></text>
<text x="1440.7" y="808.8" font-size="23.5" font-weight="bold" fill="#000"><tspan font-style="italic">P</tspan><tspan font-style="italic" font-size="18.8" dy="2">perm</tspan><tspan dy="-2"> = 0.003</tspan></text>
<line x1="832.2" y1="1486.9" x2="832.2" y2="1888.8" stroke="#ebebeb" stroke-width="2.2"/>
<line x1="897.3" y1="1486.9" x2="897.3" y2="1888.8" stroke="#ebebeb" stroke-width="2.2"/>
<line x1="962.4" y1="1486.9" x2="962.4" y2="1888.8" stroke="#ebebeb" stroke-width="2.2"/>
<line x1="1027.5" y1="1486.9" x2="1027.5" y2="1888.8" stroke="#ebebeb" stroke-width="2.2"/>
<line x1="1092.6" y1="1486.9" x2="1092.6" y2="1888.8" stroke="#ebebeb" stroke-width="2.2"/>
<line x1="1157.7" y1="1486.9" x2="1157.7" y2="1888.8" stroke="#ebebeb" stroke-width="2.2"/>
<line x1="1222.8" y1="1486.9" x2="1222.8" y2="1888.8" stroke="#ebebeb" stroke-width="2.2"/>
<line x1="804.7" y1="1883.2" x2="1275.3" y2="1883.2" stroke="#ebebeb" stroke-width="2.2"/>
<line x1="804.7" y1="1850.6" x2="1275.3" y2="1850.6" stroke="#ebebeb" stroke-width="2.2"/>
<line x1="804.7" y1="1818" x2="1275.3" y2="1818" stroke="#ebebeb" stroke-width="2.2"/>
<line x1="804.7" y1="1785.4" x2="1275.3" y2="1785.4" stroke="#ebebeb" stroke-width="2.2"/>
<line x1="804.7" y1="1752.8" x2="1275.3" y2="1752.8" stroke="#ebebeb" stroke-width="2.2"/>
<line x1="804.7" y1="1720.2" x2="1275.3" y2="1720.2" stroke="#ebebeb" stroke-width="2.2"/>
<line x1="804.7" y1="1687.6" x2="1275.3" y2="1687.6" stroke="#ebebeb" stroke-width="2.2"/>
<line x1="804.7" y1="1655" x2="1275.3" y2="1655" stroke="#ebebeb" stroke-width="2.2"/>
<line x1="804.7" y1="1622.4" x2="1275.3" y2="1622.4" stroke="#ebebeb" stroke-width="2.2"/>
<line x1="804.7" y1="1589.8" x2="1275.3" y2="1589.8" stroke="#ebebeb" stroke-width="2.2"/>
<line x1="804.7" y1="1557.2" x2="1275.3" y2="1557.2" stroke="#ebebeb" stroke-width="2.2"/>
<line x1="804.7" y1="1524.6" x2="1275.3" y2="1524.6" stroke="#ebebeb" stroke-width="2.2"/>
<line x1="804.7" y1="1492" x2="1275.3" y2="1492" stroke="#ebebeb" stroke-width="2.2"/>
<g fill="#aac792" fill-opacity="0.64">
<circle cx="1027.56" cy="1709.85" r="7.8"/>
<circle cx="1042.28" cy="1708.87" r="7.8"/>
<circle cx="1013.94" cy="1689.75" r="7.8"/>
<circle cx="983.44" cy="1754.42" r="7.8"/>
<circle cx="1005" cy="1661.46" r="7.8"/>
<circle cx="978.44" cy="1710.48" r="7.8"/>
<circle cx="1030.48" cy="1665.84" r="7.8"/>
<circle cx="1093.81" cy="1654.31" r="7.8"/>
<circle cx="1003.15" cy="1728.5" r="7.8"/>
<circle cx="996.8" cy="1742.74" r="7.8"/>
<circle cx="1051.74" cy="1678.91" r="7.8"/>
<circle cx="1045.16" cy="1697.77" r="7.8"/>
<circle cx="1032.72" cy="1665.47" r="7.8"/>
<circle cx="981.46" cy="1703.97" r="7.8"/>
<circle cx="1026.05" cy="1748.03" r="7.8"/>
<circle cx="1061.9" cy="1658.53" r="7.8"/>
<circle cx="960.99" cy="1780.95" r="7.8"/>
<circle cx="1004.86" cy="1722.12" r="7.8"/>
<circle cx="933.44" cy="1743.35" r="7.8"/>
<circle cx="963.7" cy="1815.84" r="7.8"/>
<circle cx="936.38" cy="1722.7" r="7.8"/>
<circle cx="1015.87" cy="1678.35" r="7.8"/>
<circle cx="964.79" cy="1720.26" r="7.8"/>
<circle cx="1040.92" cy="1693.81" r="7.8"/>
<circle cx="1035.26" cy="1694.25" r="7.8"/>
<circle cx="1018.25" cy="1732.98" r="7.8"/>
<circle cx="902.98" cy="1757.99" r="7.8"/>
<circle cx="1000.85" cy="1721.04" r="7.8"/>
<circle cx="1025.1" cy="1676.48" r="7.8"/>
<circle cx="1033.11" cy="1736.52" r="7.8"/>
<circle cx="951.8" cy="1707.53" r="7.8"/>
<circle cx="1003.86" cy="1684.99" r="7.8"/>
<circle cx="979.09" cy="1712" r="7.8"/>
<circle cx="987.48" cy="1722.38" r="7.8"/>
<circle cx="1079.99" cy="1625.07" r="7.8"/>
<circle cx="987.55" cy="1783.07" r="7.8"/>
<circle cx="1025.89" cy="1657.8" r="7.8"/>
<circle cx="1071.26" cy="1644.94" r="7.8"/>
<circle cx="998.63" cy="1680.77" r="7.8"/>
<circle cx="1021.97" cy="1663.66" r="7.8"/>
<circle cx="1032.97" cy="1709.32" r="7.8"/>
<circle cx="1030.66" cy="1690.99" r="7.8"/>
<circle cx="966.89" cy="1679.77" r="7.8"/>
<circle cx="1031.27" cy="1656.48" r="7.8"/>
<circle cx="1094.73" cy="1634.52" r="7.8"/>
<circle cx="950.95" cy="1794.68" r="7.8"/>
<circle cx="1070.02" cy="1630.98" r="7.8"/>
<circle cx="1033.41" cy="1618.75" r="7.8"/>
<circle cx="995.76" cy="1646.27" r="7.8"/>
<circle cx="1126.47" cy="1616.64" r="7.8"/>
<circle cx="1065.21" cy="1737.32" r="7.8"/>
<circle cx="968.16" cy="1663.97" r="7.8"/>
<circle cx="1031.19" cy="1685.15" r="7.8"/>
<circle cx="1056.03" cy="1790.41" r="7.8"/>
<circle cx="1018.16" cy="1665.95" r="7.8"/>
<circle cx="1061.29" cy="1736.12" r="7.8"/>
<circle cx="1024.21" cy="1745.73" r="7.8"/>
<circle cx="1060.51" cy="1694.05" r="7.8"/>
<circle cx="1098.67" cy="1579.65" r="7.8"/>
<circle cx="994.07" cy="1715.56" r="7.8"/>
<circle cx="1037.55" cy="1661.11" r="7.8"/>
<circle cx="1004.58" cy="1605.1" r="7.8"/>
<circle cx="1033.8" cy="1597.51" r="7.8"/>
<circle cx="968.76" cy="1715.49" r="7.8"/>
<circle cx="998.84" cy="1706.67" r="7.8"/>
<circle cx="1017.79" cy="1747.31" r="7.8"/>
<circle cx="1071.97" cy="1691.03" r="7.8"/>
<circle cx="1084.16" cy="1629.19" r="7.8"/>
<circle cx="962.02" cy="1694.27" r="7.8"/>
<circle cx="988.18" cy="1694.79" r="7.8"/>
<circle cx="1059.51" cy="1613.81" r="7.8"/>
<circle cx="928.92" cy="1769.39" r="7.8"/>
<circle cx="1004.58" cy="1694.49" r="7.8"/>
<circle cx="1022.69" cy="1646.05" r="7.8"/>
<circle cx="1089.69" cy="1618.44" r="7.8"/>
<circle cx="1061.61" cy="1608.94" r="7.8"/>
<circle cx="1011.31" cy="1668.53" r="7.8"/>
<circle cx="1009.26" cy="1704.6" r="7.8"/>
<circle cx="1015.12" cy="1668.28" r="7.8"/>
<circle cx="1102.88" cy="1690.2" r="7.8"/>
<circle cx="1006.32" cy="1772.04" r="7.8"/>
<circle cx="1012.48" cy="1658.83" r="7.8"/>
<circle cx="1044.94" cy="1673.42" r="7.8"/>
<circle cx="1021.52" cy="1667.61" r="7.8"/>
<circle cx="1017.74" cy="1768.98" r="7.8"/>
<circle cx="972.38" cy="1726.57" r="7.8"/>
<circle cx="1026.93" cy="1709.8" r="7.8"/>
<circle cx="1005.55" cy="1734.03" r="7.8"/>
<circle cx="1085.2" cy="1761.47" r="7.8"/>
<circle cx="1059.81" cy="1679.54" r="7.8"/>
<circle cx="1026.31" cy="1635.93" r="7.8"/>
<circle cx="1060.57" cy="1643.67" r="7.8"/>
<circle cx="1010.68" cy="1718.31" r="7.8"/>
<circle cx="1079.56" cy="1653.4" r="7.8"/>
<circle cx="1027.23" cy="1642.41" r="7.8"/>
<circle cx="1056.36" cy="1801.53" r="7.8"/>
<circle cx="963.63" cy="1719.21" r="7.8"/>
<circle cx="1044.65" cy="1643.93" r="7.8"/>
<circle cx="943.97" cy="1689.48" r="7.8"/>
<circle cx="926.8" cy="1647.95" r="7.8"/>
<circle cx="1012.44" cy="1631.38" r="7.8"/>
<circle cx="982.98" cy="1687.48" r="7.8"/>
<circle cx="1035.62" cy="1660.59" r="7.8"/>
<circle cx="1138.56" cy="1582.94" r="7.8"/>
<circle cx="986.35" cy="1727.93" r="7.8"/>
<circle cx="996.63" cy="1697.84" r="7.8"/>
<circle cx="1037.66" cy="1629.58" r="7.8"/>
<circle cx="1051.89" cy="1570.08" r="7.8"/>
<circle cx="1018.77" cy="1692.21" r="7.8"/>
<circle cx="1017.31" cy="1687.48" r="7.8"/>
<circle cx="1062.26" cy="1651.84" r="7.8"/>
<circle cx="1053.22" cy="1599.82" r="7.8"/>
<circle cx="976.36" cy="1707.91" r="7.8"/>
<circle cx="1023.58" cy="1609.01" r="7.8"/>
<circle cx="1029.25" cy="1726.77" r="7.8"/>
<circle cx="975.33" cy="1716.17" r="7.8"/>
<circle cx="1040.36" cy="1682.9" r="7.8"/>
<circle cx="985.05" cy="1662.91" r="7.8"/>
<circle cx="1075.59" cy="1602.93" r="7.8"/>
<circle cx="1037.04" cy="1749.61" r="7.8"/>
<circle cx="1031.92" cy="1722.82" r="7.8"/>
<circle cx="998.26" cy="1678.31" r="7.8"/>
<circle cx="1021.63" cy="1715.47" r="7.8"/>
<circle cx="928.66" cy="1806.69" r="7.8"/>
<circle cx="971.52" cy="1657.47" r="7.8"/>
<circle cx="1045.45" cy="1645.95" r="7.8"/>
<circle cx="922.19" cy="1710.18" r="7.8"/>
<circle cx="1069.39" cy="1681.52" r="7.8"/>
<circle cx="941.11" cy="1673.78" r="7.8"/>
<circle cx="1064.94" cy="1672.17" r="7.8"/>
<circle cx="985.67" cy="1647.23" r="7.8"/>
<circle cx="1066.04" cy="1704.88" r="7.8"/>
<circle cx="1033.98" cy="1718.73" r="7.8"/>
<circle cx="951.46" cy="1709.23" r="7.8"/>
<circle cx="1089.3" cy="1682.39" r="7.8"/>
<circle cx="1098.83" cy="1609.16" r="7.8"/>
<circle cx="1024.24" cy="1668.58" r="7.8"/>
<circle cx="1013.95" cy="1732.57" r="7.8"/>
<circle cx="1019.59" cy="1680.28" r="7.8"/>
<circle cx="979.25" cy="1722.31" r="7.8"/>
<circle cx="1081.85" cy="1606.09" r="7.8"/>
<circle cx="1000.64" cy="1725.11" r="7.8"/>
<circle cx="1024.97" cy="1702.86" r="7.8"/>
<circle cx="988.25" cy="1640.2" r="7.8"/>
<circle cx="996.52" cy="1584.98" r="7.8"/>
<circle cx="964.28" cy="1613.64" r="7.8"/>
<circle cx="1089.69" cy="1644.25" r="7.8"/>
<circle cx="1019.88" cy="1672.9" r="7.8"/>
<circle cx="1075.29" cy="1578.9" r="7.8"/>
<circle cx="1028.16" cy="1685.6" r="7.8"/>
<circle cx="993.14" cy="1746.05" r="7.8"/>
<circle cx="1011.34" cy="1682.4" r="7.8"/>
<circle cx="999.78" cy="1671.84" r="7.8"/>
<circle cx="1027.89" cy="1720.66" r="7.8"/>
<circle cx="1008.93" cy="1771.02" r="7.8"/>
<circle cx="1012.66" cy="1758.7" r="7.8"/>
<circle cx="959.29" cy="1682.32" r="7.8"/>
<circle cx="987.58" cy="1738.15" r="7.8"/>
<circle cx="1109.34" cy="1644.16" r="7.8"/>
<circle cx="994.29" cy="1686.54" r="7.8"/>
<circle cx="975.35" cy="1676.26" r="7.8"/>
<circle cx="1044.19" cy="1687.68" r="7.8"/>
<circle cx="1097.13" cy="1618.8" r="7.8"/>
<circle cx="955.56" cy="1761.35" r="7.8"/>
<circle cx="1017.18" cy="1703.07" r="7.8"/>
<circle cx="996.23" cy="1746.82" r="7.8"/>
<circle cx="940.37" cy="1669.07" r="7.8"/>
<circle cx="1063.86" cy="1662.18" r="7.8"/>
<circle cx="1026.34" cy="1717.01" r="7.8"/>
<circle cx="1031.03" cy="1695.4" r="7.8"/>
<circle cx="990.28" cy="1710.15" r="7.8"/>
<circle cx="1050" cy="1633.35" r="7.8"/>
<circle cx="1000.82" cy="1772.74" r="7.8"/>
<circle cx="1020.43" cy="1734.85" r="7.8"/>
<circle cx="972.67" cy="1727.07" r="7.8"/>
<circle cx="967.33" cy="1585.63" r="7.8"/>
<circle cx="1093.58" cy="1598.01" r="7.8"/>
<circle cx="1002.41" cy="1698.37" r="7.8"/>
<circle cx="1041.93" cy="1636.98" r="7.8"/>
<circle cx="1025.83" cy="1578.7" r="7.8"/>
<circle cx="1005.67" cy="1702.73" r="7.8"/>
<circle cx="1002.37" cy="1711.02" r="7.8"/>
<circle cx="1058.67" cy="1603.49" r="7.8"/>
<circle cx="1012.56" cy="1663.07" r="7.8"/>
<circle cx="1020.01" cy="1650.41" r="7.8"/>
<circle cx="1028.6" cy="1704.39" r="7.8"/>
<circle cx="1085.71" cy="1554.11" r="7.8"/>
<circle cx="1061.17" cy="1577.53" r="7.8"/>
<circle cx="1046.43" cy="1641.87" r="7.8"/>
<circle cx="999.62" cy="1660.39" r="7.8"/>
<circle cx="959.13" cy="1815.84" r="7.8"/>
<circle cx="1074.48" cy="1623.71" r="7.8"/>
<circle cx="1075.32" cy="1664.49" r="7.8"/>
<circle cx="1020.54" cy="1661.9" r="7.8"/>
<circle cx="1054.31" cy="1632" r="7.8"/>
<circle cx="1066.16" cy="1676.55" r="7.8"/>
<circle cx="1068.62" cy="1742.13" r="7.8"/>
<circle cx="1073.09" cy="1637.81" r="7.8"/>
<circle cx="1004.96" cy="1728.25" r="7.8"/>
<circle cx="1102.45" cy="1657.1" r="7.8"/>
<circle cx="965.82" cy="1741.85" r="7.8"/>
<circle cx="1070.13" cy="1674.5" r="7.8"/>
<circle cx="1051.94" cy="1781.49" r="7.8"/>
<circle cx="1070.72" cy="1596.96" r="7.8"/>
<circle cx="1120.47" cy="1618.81" r="7.8"/>
<circle cx="1100.94" cy="1586.45" r="7.8"/>
<circle cx="970.84" cy="1611.18" r="7.8"/>
<circle cx="943.95" cy="1722.17" r="7.8"/>
<circle cx="1067.92" cy="1748.04" r="7.8"/>
<circle cx="977.28" cy="1750.22" r="7.8"/>
<circle cx="1026.89" cy="1739.9" r="7.8"/>
<circle cx="1069.05" cy="1683.01" r="7.8"/>
<circle cx="946.17" cy="1718.19" r="7.8"/>
<circle cx="923.11" cy="1833.36" r="7.8"/>
<circle cx="1040.33" cy="1656.12" r="7.8"/>
<circle cx="1029.7" cy="1753.47" r="7.8"/>
<circle cx="1015.34" cy="1671.37" r="7.8"/>
<circle cx="1029.41" cy="1684.21" r="7.8"/>
<circle cx="984.93" cy="1717.49" r="7.8"/>
<circle cx="952.62" cy="1722.39" r="7.8"/>
<circle cx="1019.25" cy="1710.82" r="7.8"/>
<circle cx="979.42" cy="1735.16" r="7.8"/>
<circle cx="946.19" cy="1805.51" r="7.8"/>
<circle cx="1052.52" cy="1668.21" r="7.8"/>
<circle cx="1024.46" cy="1589.91" r="7.8"/>
<circle cx="1047.61" cy="1571.16" r="7.8"/>
<circle cx="978.55" cy="1639.77" r="7.8"/>
<circle cx="994.94" cy="1661.76" r="7.8"/>
<circle cx="978.07" cy="1739.04" r="7.8"/>
<circle cx="983.63" cy="1631.13" r="7.8"/>
<circle cx="1037.17" cy="1677.52" r="7.8"/>
<circle cx="988.76" cy="1703.36" r="7.8"/>
<circle cx="1045.12" cy="1685.03" r="7.8"/>
<circle cx="1044.31" cy="1666.46" r="7.8"/>
<circle cx="1127.7" cy="1649.16" r="7.8"/>
<circle cx="958.59" cy="1719.82" r="7.8"/>
<circle cx="1071.43" cy="1710.64" r="7.8"/>
<circle cx="1023.07" cy="1700.6" r="7.8"/>
<circle cx="1026.81" cy="1567.13" r="7.8"/>
<circle cx="955.77" cy="1720.58" r="7.8"/>
<circle cx="1004.73" cy="1703.46" r="7.8"/>
<circle cx="1064.27" cy="1634.25" r="7.8"/>
<circle cx="1023.42" cy="1646.81" r="7.8"/>
<circle cx="1031.51" cy="1732.88" r="7.8"/>
<circle cx="1013.12" cy="1697.53" r="7.8"/>
<circle cx="1084.62" cy="1604.52" r="7.8"/>
<circle cx="1026.44" cy="1666.96" r="7.8"/>
<circle cx="918.63" cy="1730.43" r="7.8"/>
<circle cx="993.26" cy="1620.6" r="7.8"/>
<circle cx="930.09" cy="1764.09" r="7.8"/>
<circle cx="1001.27" cy="1719.21" r="7.8"/>
<circle cx="1093.48" cy="1571.57" r="7.8"/>
<circle cx="1029.83" cy="1775.28" r="7.8"/>
<circle cx="969.49" cy="1743.2" r="7.8"/>
<circle cx="980.96" cy="1730.24" r="7.8"/>
<circle cx="1083.44" cy="1617.76" r="7.8"/>
<circle cx="1035.3" cy="1645.67" r="7.8"/>
<circle cx="1029.87" cy="1609.4" r="7.8"/>
<circle cx="1024.85" cy="1759.15" r="7.8"/>
<circle cx="1029.4" cy="1641.6" r="7.8"/>
<circle cx="1067.35" cy="1673.56" r="7.8"/>
<circle cx="1054.84" cy="1698.52" r="7.8"/>
<circle cx="1038.17" cy="1647.48" r="7.8"/>
<circle cx="975.9" cy="1752.24" r="7.8"/>
<circle cx="1052.79" cy="1769.52" r="7.8"/>
<circle cx="993.65" cy="1715.75" r="7.8"/>
<circle cx="1081.62" cy="1725.81" r="7.8"/>
<circle cx="964.61" cy="1744.68" r="7.8"/>
<circle cx="1020.69" cy="1664.91" r="7.8"/>
<circle cx="1027.14" cy="1664.51" r="7.8"/>
<circle cx="961.96" cy="1635.27" r="7.8"/>
<circle cx="1112.7" cy="1645.3" r="7.8"/>
<circle cx="1099.76" cy="1718.13" r="7.8"/>
<circle cx="1004.56" cy="1729.19" r="7.8"/>
<circle cx="1065.68" cy="1705.45" r="7.8"/>
<circle cx="1046.24" cy="1730.36" r="7.8"/>
<circle cx="898.19" cy="1725.55" r="7.8"/>
<circle cx="1039.89" cy="1705.3" r="7.8"/>
<circle cx="1024.46" cy="1779.34" r="7.8"/>
<circle cx="1031.62" cy="1643.1" r="7.8"/>
<circle cx="974.22" cy="1713.05" r="7.8"/>
<circle cx="1014.17" cy="1669.03" r="7.8"/>
<circle cx="1018.68" cy="1679.13" r="7.8"/>
<circle cx="1086.28" cy="1617.86" r="7.8"/>
<circle cx="1044.05" cy="1669.27" r="7.8"/>
<circle cx="1027.23" cy="1618.66" r="7.8"/>
<circle cx="1103.15" cy="1619.32" r="7.8"/>
<circle cx="1000.03" cy="1674.66" r="7.8"/>
<circle cx="1008.23" cy="1669.5" r="7.8"/>
<circle cx="937.61" cy="1798.77" r="7.8"/>
<circle cx="1105.13" cy="1647.5" r="7.8"/>
<circle cx="1075.21" cy="1667.78" r="7.8"/>
<circle cx="1072.86" cy="1645.87" r="7.8"/>
<circle cx="1060.59" cy="1729.87" r="7.8"/>
<circle cx="1032.95" cy="1595.96" r="7.8"/>
<circle cx="1038.16" cy="1669.05" r="7.8"/>
<circle cx="1015.03" cy="1746.29" r="7.8"/>
<circle cx="1017.43" cy="1769.7" r="7.8"/>
<circle cx="1030.19" cy="1692.32" r="7.8"/>
<circle cx="1102.3" cy="1645.26" r="7.8"/>
<circle cx="1054.99" cy="1701.05" r="7.8"/>
<circle cx="1024.61" cy="1676.72" r="7.8"/>
<circle cx="998.83" cy="1726.48" r="7.8"/>
<circle cx="996.08" cy="1668.8" r="7.8"/>
<circle cx="1106.8" cy="1674.38" r="7.8"/>
<circle cx="1052.57" cy="1668.63" r="7.8"/>
<circle cx="1030.84" cy="1629.53" r="7.8"/>
<circle cx="1010.37" cy="1561.26" r="7.8"/>
<circle cx="972.63" cy="1758.28" r="7.8"/>
<circle cx="1024.19" cy="1704.52" r="7.8"/>
<circle cx="1070.73" cy="1698.88" r="7.8"/>
<circle cx="1008.08" cy="1651.03" r="7.8"/>
<circle cx="1016.26" cy="1742.52" r="7.8"/>
<circle cx="1016.56" cy="1709.47" r="7.8"/>
<circle cx="1032.92" cy="1678.42" r="7.8"/>
<circle cx="948.68" cy="1769.32" r="7.8"/>
<circle cx="1015.85" cy="1733.28" r="7.8"/>
<circle cx="985.23" cy="1725.36" r="7.8"/>
<circle cx="1071.27" cy="1761.06" r="7.8"/>
<circle cx="989.37" cy="1771.26" r="7.8"/>
<circle cx="1056.05" cy="1685.37" r="7.8"/>
<circle cx="1102.92" cy="1633.15" r="7.8"/>
<circle cx="1011.98" cy="1697.06" r="7.8"/>
<circle cx="997.74" cy="1783.18" r="7.8"/>
<circle cx="1036.97" cy="1697.82" r="7.8"/>
<circle cx="1027.4" cy="1640.26" r="7.8"/>
<circle cx="978.34" cy="1677.83" r="7.8"/>
<circle cx="1050.3" cy="1671.8" r="7.8"/>
<circle cx="1127.22" cy="1671.81" r="7.8"/>
<circle cx="1014.73" cy="1655.15" r="7.8"/>
<circle cx="1017.46" cy="1713.69" r="7.8"/>
<circle cx="975.8" cy="1764.64" r="7.8"/>
<circle cx="1043.29" cy="1711.3" r="7.8"/>
<circle cx="965.8" cy="1640.14" r="7.8"/>
<circle cx="972.73" cy="1697.39" r="7.8"/>
<circle cx="1090.81" cy="1589.36" r="7.8"/>
<circle cx="982.7" cy="1726.86" r="7.8"/>
<circle cx="1081" cy="1605.43" r="7.8"/>
<circle cx="1102.92" cy="1670.3" r="7.8"/>
<circle cx="1040.33" cy="1680.89" r="7.8"/>
<circle cx="1054.88" cy="1542.31" r="7.8"/>
<circle cx="1124.09" cy="1591.46" r="7.8"/>
<circle cx="1017.77" cy="1709.68" r="7.8"/>
<circle cx="998.16" cy="1699.26" r="7.8"/>
<circle cx="960.55" cy="1698.48" r="7.8"/>
<circle cx="1029.56" cy="1618.72" r="7.8"/>
<circle cx="1100.68" cy="1665.9" r="7.8"/>
<circle cx="1074.98" cy="1741.34" r="7.8"/>
<circle cx="980.89" cy="1717.91" r="7.8"/>
<circle cx="985.18" cy="1701.05" r="7.8"/>
<circle cx="1002.56" cy="1687.34" r="7.8"/>
<circle cx="1041.96" cy="1607" r="7.8"/>
<circle cx="1017.34" cy="1669.37" r="7.8"/>
<circle cx="1038.11" cy="1633.97" r="7.8"/>
<circle cx="1042.18" cy="1726.69" r="7.8"/>
<circle cx="1012.72" cy="1644.47" r="7.8"/>
<circle cx="1025.51" cy="1576.94" r="7.8"/>
<circle cx="1037.72" cy="1636.15" r="7.8"/>
<circle cx="1023.35" cy="1669.38" r="7.8"/>
<circle cx="1052.41" cy="1659.17" r="7.8"/>
<circle cx="1120.06" cy="1543.01" r="7.8"/>
<circle cx="1056.79" cy="1710.47" r="7.8"/>
<circle cx="1030.26" cy="1683.84" r="7.8"/>
<circle cx="944.08" cy="1700.42" r="7.8"/>
<circle cx="1046.69" cy="1632.91" r="7.8"/>
<circle cx="931.19" cy="1751.61" r="7.8"/>
<circle cx="957.79" cy="1700.85" r="7.8"/>
<circle cx="1069.78" cy="1671.53" r="7.8"/>
<circle cx="1062.44" cy="1655.61" r="7.8"/>
<circle cx="1020.08" cy="1690.18" r="7.8"/>
<circle cx="942.9" cy="1780.41" r="7.8"/>
<circle cx="1009.13" cy="1690.39" r="7.8"/>
<circle cx="993.92" cy="1653.8" r="7.8"/>
<circle cx="1059.01" cy="1711.28" r="7.8"/>
<circle cx="1139.2" cy="1633.55" r="7.8"/>
<circle cx="1038.23" cy="1641.25" r="7.8"/>
<circle cx="988.94" cy="1752.87" r="7.8"/>
<circle cx="969.59" cy="1700.89" r="7.8"/>
<circle cx="1024.72" cy="1733.75" r="7.8"/>
<circle cx="1018.75" cy="1628.11" r="7.8"/>
<circle cx="970.53" cy="1594.84" r="7.8"/>
<circle cx="1033.26" cy="1576.57" r="7.8"/>
<circle cx="970.56" cy="1720.29" r="7.8"/>
<circle cx="1082.52" cy="1614.44" r="7.8"/>
<circle cx="1080.08" cy="1646.4" r="7.8"/>
<circle cx="1081.17" cy="1646.77" r="7.8"/>
<circle cx="1004.05" cy="1615.3" r="7.8"/>
<circle cx="1052.96" cy="1731.89" r="7.8"/>
<circle cx="1020.97" cy="1630.89" r="7.8"/>
<circle cx="1008.26" cy="1692.22" r="7.8"/>
<circle cx="1010.72" cy="1618.72" r="7.8"/>
<circle cx="963.2" cy="1703.99" r="7.8"/>
<circle cx="956.06" cy="1750.31" r="7.8"/>
<circle cx="1066.8" cy="1645.58" r="7.8"/>
<circle cx="1018.04" cy="1648.23" r="7.8"/>
<circle cx="1038.21" cy="1672.43" r="7.8"/>
<circle cx="1077.06" cy="1629.78" r="7.8"/>
<circle cx="941.75" cy="1750.28" r="7.8"/>
<circle cx="988.7" cy="1805.72" r="7.8"/>
<circle cx="1036.17" cy="1630.66" r="7.8"/>
<circle cx="1046.9" cy="1635.03" r="7.8"/>
<circle cx="1008.84" cy="1682.15" r="7.8"/>
<circle cx="1078.42" cy="1649.87" r="7.8"/>
<circle cx="1037.91" cy="1623" r="7.8"/>
<circle cx="967.47" cy="1733.69" r="7.8"/>
<circle cx="981.45" cy="1738.77" r="7.8"/>
<circle cx="1067.35" cy="1668.36" r="7.8"/>
<circle cx="1050.45" cy="1608.9" r="7.8"/>
<circle cx="933.54" cy="1797.44" r="7.8"/>
<circle cx="1094.18" cy="1585.99" r="7.8"/>
<circle cx="1057.09" cy="1696.04" r="7.8"/>
<circle cx="1093.96" cy="1699.71" r="7.8"/>
<circle cx="1008.52" cy="1627.22" r="7.8"/>
<circle cx="1012.87" cy="1692.2" r="7.8"/>
<circle cx="971.77" cy="1773.23" r="7.8"/>
<circle cx="1153.02" cy="1632.18" r="7.8"/>
<circle cx="1018.82" cy="1638.16" r="7.8"/>
<circle cx="1106.04" cy="1579.8" r="7.8"/>
<circle cx="995.47" cy="1717.62" r="7.8"/>
<circle cx="1035.61" cy="1655.42" r="7.8"/>
<circle cx="944.81" cy="1687.46" r="7.8"/>
<circle cx="1008.56" cy="1721.58" r="7.8"/>
<circle cx="1076.17" cy="1636.83" r="7.8"/>
<circle cx="965.57" cy="1713.61" r="7.8"/>
<circle cx="1080.55" cy="1678.71" r="7.8"/>
<circle cx="1044.19" cy="1695.47" r="7.8"/>
<circle cx="975.85" cy="1703.35" r="7.8"/>
<circle cx="1002.68" cy="1691.22" r="7.8"/>
<circle cx="1004.79" cy="1719.63" r="7.8"/>
<circle cx="1025.05" cy="1702.16" r="7.8"/>
<circle cx="1000.97" cy="1638.42" r="7.8"/>
<circle cx="986.57" cy="1690.5" r="7.8"/>
<circle cx="1012.43" cy="1643.77" r="7.8"/>
<circle cx="976.69" cy="1646.68" r="7.8"/>
<circle cx="963.7" cy="1683.82" r="7.8"/>
<circle cx="1025.12" cy="1568.49" r="7.8"/>
<circle cx="1071.18" cy="1697.92" r="7.8"/>
<circle cx="951.83" cy="1679.13" r="7.8"/>
<circle cx="1027.67" cy="1695.45" r="7.8"/>
<circle cx="995.34" cy="1604.57" r="7.8"/>
<circle cx="979.15" cy="1620.69" r="7.8"/>
<circle cx="1069.72" cy="1754.62" r="7.8"/>
<circle cx="1001.86" cy="1741.14" r="7.8"/>
<circle cx="1101.63" cy="1608.25" r="7.8"/>
<circle cx="988.92" cy="1660.73" r="7.8"/>
<circle cx="1046.62" cy="1633.32" r="7.8"/>
<circle cx="1016.25" cy="1689.14" r="7.8"/>
<circle cx="990.19" cy="1676.65" r="7.8"/>
<circle cx="1056.58" cy="1632.27" r="7.8"/>
<circle cx="1019.83" cy="1687.63" r="7.8"/>
<circle cx="1057.34" cy="1613.33" r="7.8"/>
<circle cx="1025.16" cy="1792.96" r="7.8"/>
<circle cx="973.78" cy="1676.35" r="7.8"/>
<circle cx="1022.45" cy="1733.65" r="7.8"/>
<circle cx="1030.07" cy="1630.93" r="7.8"/>
<circle cx="1074.92" cy="1666.41" r="7.8"/>
<circle cx="982.66" cy="1747.17" r="7.8"/>
<circle cx="1025.55" cy="1662.26" r="7.8"/>
<circle cx="942.31" cy="1769.3" r="7.8"/>
<circle cx="1059.73" cy="1708.22" r="7.8"/>
<circle cx="973.99" cy="1785.31" r="7.8"/>
<circle cx="938.13" cy="1727.64" r="7.8"/>
<circle cx="1024.57" cy="1656.68" r="7.8"/>
<circle cx="1082.2" cy="1600.59" r="7.8"/>
<circle cx="952.08" cy="1726.08" r="7.8"/>
<circle cx="973.67" cy="1655.89" r="7.8"/>
<circle cx="990.73" cy="1698.04" r="7.8"/>
<circle cx="971.62" cy="1713.5" r="7.8"/>
<circle cx="1046.27" cy="1641.58" r="7.8"/>
<circle cx="987.55" cy="1648.13" r="7.8"/>
<circle cx="991.8" cy="1715.29" r="7.8"/>
<circle cx="1056.36" cy="1676.82" r="7.8"/>
<circle cx="990.12" cy="1707.21" r="7.8"/>
<circle cx="1048.91" cy="1664.52" r="7.8"/>
<circle cx="979.44" cy="1749.42" r="7.8"/>
<circle cx="967.53" cy="1660.07" r="7.8"/>
<circle cx="936.69" cy="1746.91" r="7.8"/>
<circle cx="1119.58" cy="1608.9" r="7.8"/>
<circle cx="1011.65" cy="1728.93" r="7.8"/>
<circle cx="1039.57" cy="1655.71" r="7.8"/>
<circle cx="1025.96" cy="1661.17" r="7.8"/>
<circle cx="1035.41" cy="1696.5" r="7.8"/>
<circle cx="1029.96" cy="1578.36" r="7.8"/>
<circle cx="1121.91" cy="1612.22" r="7.8"/>
<circle cx="976.1" cy="1618.5" r="7.8"/>
<circle cx="950.44" cy="1672.38" r="7.8"/>
<circle cx="977.43" cy="1738.67" r="7.8"/>
<circle cx="961.46" cy="1733.11" r="7.8"/>
<circle cx="1064.46" cy="1638.92" r="7.8"/>
<circle cx="1068.09" cy="1655.61" r="7.8"/>
<circle cx="979.94" cy="1702.1" r="7.8"/>
<circle cx="958.71" cy="1729.79" r="7.8"/>
<circle cx="1009.95" cy="1778.53" r="7.8"/>
<circle cx="1096.33" cy="1655.1" r="7.8"/>
<circle cx="1053.56" cy="1647.78" r="7.8"/>
<circle cx="974.28" cy="1743.47" r="7.8"/>
<circle cx="1078.97" cy="1688.42" r="7.8"/>
<circle cx="974.17" cy="1718.42" r="7.8"/>
<circle cx="1013.38" cy="1673.62" r="7.8"/>
<circle cx="952.98" cy="1789.55" r="7.8"/>
<circle cx="979.15" cy="1791.6" r="7.8"/>
<circle cx="1096.07" cy="1696.89" r="7.8"/>
<circle cx="1068.1" cy="1759.8" r="7.8"/>
<circle cx="1007.63" cy="1738.04" r="7.8"/>
<circle cx="984.45" cy="1623.37" r="7.8"/>
<circle cx="933.8" cy="1780.93" r="7.8"/>
<circle cx="1008.02" cy="1657.64" r="7.8"/>
<circle cx="1025.97" cy="1748.54" r="7.8"/>
<circle cx="1023.34" cy="1667.12" r="7.8"/>
<circle cx="1022.86" cy="1698.04" r="7.8"/>
<circle cx="972" cy="1711.65" r="7.8"/>
<circle cx="1024.22" cy="1653.3" r="7.8"/>
<circle cx="1025.59" cy="1593.75" r="7.8"/>
<circle cx="1091.35" cy="1636.87" r="7.8"/>
<circle cx="1119.86" cy="1625.51" r="7.8"/>
<circle cx="1020.72" cy="1731.54" r="7.8"/>
<circle cx="989.59" cy="1670.62" r="7.8"/>
<circle cx="1024.28" cy="1693.64" r="7.8"/>
<circle cx="825.69" cy="1615.88" r="7.8"/>
<circle cx="1252.1" cy="1518.08" r="7.8"/>
<circle cx="1219.55" cy="1508.3" r="7.8"/>
<circle cx="1220.85" cy="1510.26" r="7.8"/>
<circle cx="1177.23" cy="1518.08" r="7.8"/>
<circle cx="1180.48" cy="1527.86" r="7.8"/>
<circle cx="1170.72" cy="1514.82" r="7.8"/>
<circle cx="1095.86" cy="1527.86" r="7.8"/>
<circle cx="1060.05" cy="1540.9" r="7.8"/>
<circle cx="1115.38" cy="1550.68" r="7.8"/>
<circle cx="1007.97" cy="1560.46" r="7.8"/>
<circle cx="1229.31" cy="1638.7" r="7.8"/>
<circle cx="1229.31" cy="1609.36" r="7.8"/>
<circle cx="1196.76" cy="1589.8" r="7.8"/>
<circle cx="1173.97" cy="1645.22" r="7.8"/>
<circle cx="1170.72" cy="1661.52" r="7.8"/>
<circle cx="1200.01" cy="1703.9" r="7.8"/>
<circle cx="1144.68" cy="1729.98" r="7.8"/>
<circle cx="1118.64" cy="1752.8" r="7.8"/>
<circle cx="913.58" cy="1870.16" r="7.8"/>
<circle cx="900.56" cy="1850.6" r="7.8"/>
<circle cx="939.62" cy="1850.6" r="7.8"/>
<circle cx="972.16" cy="1853.86" r="7.8"/>
<circle cx="858.24" cy="1743.02" r="7.8"/>
<circle cx="887.54" cy="1733.24" r="7.8"/>
<circle cx="894.05" cy="1791.92" r="7.8"/>
<circle cx="900.56" cy="1821.26" r="7.8"/>
<circle cx="884.28" cy="1752.8" r="7.8"/>
<circle cx="890.79" cy="1684.34" r="7.8"/>
<circle cx="910.32" cy="1664.78" r="7.8"/>
<circle cx="929.85" cy="1664.78" r="7.8"/>
<circle cx="965.65" cy="1622.4" r="7.8"/>
<circle cx="991.7" cy="1818" r="7.8"/>
<circle cx="959.14" cy="1837.56" r="7.8"/>
<circle cx="1034.01" cy="1811.48" r="7.8"/>
<circle cx="1066.56" cy="1795.18" r="7.8"/>
<circle cx="923.34" cy="1785.4" r="7.8"/>
</g>
<polygon points="825.69,1783.88 832.92,1780.36 840.14,1776.85 847.37,1773.33 854.6,1769.81 861.83,1766.29 869.05,1762.76 876.28,1759.23 883.51,1755.69 890.73,1752.16 897.96,1748.61 905.19,1745.07 912.42,1741.51 919.64,1737.95 926.87,1734.38 934.1,1730.8 941.33,1727.21 948.55,1723.6 955.78,1719.98 963.01,1716.34 970.23,1712.67 977.46,1708.99 984.69,1705.26 991.92,1701.51 999.14,1697.71 1006.37,1693.86 1013.6,1689.95 1020.82,1685.99 1028.05,1681.96 1035.28,1677.87 1042.51,1673.72 1049.73,1669.51 1056.96,1665.24 1064.19,1660.93 1071.41,1656.57 1078.64,1652.18 1085.87,1647.76 1093.1,1643.31 1100.32,1638.84 1107.55,1634.36 1114.78,1629.85 1122.01,1625.34 1129.23,1620.81 1136.46,1616.27 1143.69,1611.72 1150.91,1607.17 1158.14,1602.61 1165.37,1598.05 1172.6,1593.48 1179.82,1588.9 1187.05,1584.33 1194.28,1579.75 1201.5,1575.16 1208.73,1570.58 1215.96,1565.99 1223.19,1561.4 1230.41,1556.8 1237.64,1552.21 1244.87,1547.61 1252.1,1543.02 1252.1,1579.6 1244.87,1583.11 1237.64,1586.62 1230.41,1590.13 1223.19,1593.65 1215.96,1597.16 1208.73,1600.68 1201.5,1604.2 1194.28,1607.72 1187.05,1611.25 1179.82,1614.78 1172.6,1618.31 1165.37,1621.85 1158.14,1625.39 1150.91,1628.94 1143.69,1632.49 1136.46,1636.06 1129.23,1639.62 1122.01,1643.2 1114.78,1646.79 1107.55,1650.4 1100.32,1654.02 1093.1,1657.65 1085.87,1661.31 1078.64,1665 1071.41,1668.71 1064.19,1672.46 1056.96,1676.26 1049.73,1680.1 1042.51,1683.99 1035.28,1687.95 1028.05,1691.96 1020.82,1696.05 1013.6,1700.19 1006.37,1704.39 999.14,1708.65 991.92,1712.96 984.69,1717.31 977.46,1721.69 970.23,1726.11 963.01,1730.55 955.78,1735.02 948.55,1739.51 941.33,1744.01 934.1,1748.52 926.87,1753.05 919.64,1757.58 912.42,1762.13 905.19,1766.68 897.96,1771.24 890.73,1775.8 883.51,1780.37 876.28,1784.95 869.05,1789.52 861.83,1794.1 854.6,1798.69 847.37,1803.27 840.14,1807.86 832.92,1812.45 825.69,1817.04" fill="#999" fill-opacity="0.4"/>
<line x1="825.69" y1="1800.46" x2="1252.1" y2="1561.31" stroke="#000" stroke-width="5.6"/>
<path d="M804.7 1486.9V1888.8H1275.3" fill="none" stroke="#000" stroke-width="3"/>
<path d="M825.49 1482.94C830.72 1482.61 846.41 1481.96 856.86 1480.98C867.32 1480 879.08 1478.37 888.24 1477.06C897.39 1475.75 905.23 1474.77 911.76 1473.14C918.3 1471.5 922.22 1470.2 927.45 1467.25C932.68 1464.31 937.91 1459.74 943.14 1455.49C948.37 1451.24 953.59 1446.21 958.82 1441.76C964.05 1437.32 969.28 1432.03 974.51 1428.82C979.74 1425.62 984.97 1424.51 990.2 1422.55C995.42 1420.59 1001.31 1418.76 1005.88 1417.06C1010.46 1415.36 1014.05 1413.46 1017.65 1412.35C1021.24 1411.24 1024.18 1410.39 1027.45 1410.39C1030.72 1410.39 1033.66 1410.72 1037.25 1412.35C1040.85 1413.99 1045.1 1416.93 1049.02 1420.2C1052.94 1423.46 1056.86 1428.04 1060.78 1431.96C1064.71 1435.88 1068.63 1440.78 1072.55 1443.73C1076.47 1446.67 1080.39 1447.97 1084.31 1449.61C1088.24 1451.24 1092.16 1451.9 1096.08 1453.53C1100 1455.16 1103.27 1456.99 1107.84 1459.41C1112.42 1461.83 1118.3 1465.69 1123.53 1468.04C1128.76 1470.39 1133.66 1472.29 1139.22 1473.53C1144.77 1474.77 1150.33 1474.97 1156.86 1475.49C1163.4 1476.01 1170.59 1476.27 1178.43 1476.67C1186.27 1477.06 1195.42 1477.32 1203.92 1477.84C1212.42 1478.37 1221.11 1479.08 1229.41 1479.8C1237.71 1480.52 1249.67 1481.76 1253.73 1482.16Z" fill="#b4cc99"/>
<path d="M825.49 1482.94C830.72 1482.61 846.41 1481.96 856.86 1480.98C867.32 1480 879.08 1478.37 888.24 1477.06C897.39 1475.75 905.23 1474.77 911.76 1473.14C918.3 1471.5 922.22 1470.2 927.45 1467.25C932.68 1464.31 937.91 1459.74 943.14 1455.49C948.37 1451.24 953.59 1446.21 958.82 1441.76C964.05 1437.32 969.28 1432.03 974.51 1428.82C979.74 1425.62 984.97 1424.51 990.2 1422.55C995.42 1420.59 1001.31 1418.76 1005.88 1417.06C1010.46 1415.36 1014.05 1413.46 1017.65 1412.35C1021.24 1411.24 1024.18 1410.39 1027.45 1410.39C1030.72 1410.39 1033.66 1410.72 1037.25 1412.35C1040.85 1413.99 1045.1 1416.93 1049.02 1420.2C1052.94 1423.46 1056.86 1428.04 1060.78 1431.96C1064.71 1435.88 1068.63 1440.78 1072.55 1443.73C1076.47 1446.67 1080.39 1447.97 1084.31 1449.61C1088.24 1451.24 1092.16 1451.9 1096.08 1453.53C1100 1455.16 1103.27 1456.99 1107.84 1459.41C1112.42 1461.83 1118.3 1465.69 1123.53 1468.04C1128.76 1470.39 1133.66 1472.29 1139.22 1473.53C1144.77 1474.77 1150.33 1474.97 1156.86 1475.49C1163.4 1476.01 1170.59 1476.27 1178.43 1476.67C1186.27 1477.06 1195.42 1477.32 1203.92 1477.84C1212.42 1478.37 1221.11 1479.08 1229.41 1479.8C1237.71 1480.52 1249.67 1481.76 1253.73 1482.16" fill="none" stroke="#000" stroke-width="2.4" stroke-linejoin="round"/>
<path d="M1283.14 1505.29C1283.33 1508.76 1283.79 1518.69 1284.31 1526.08C1284.84 1533.46 1284.97 1543.07 1286.27 1549.61C1287.58 1556.14 1289.22 1560.07 1292.16 1565.29C1295.1 1570.52 1299.67 1575.75 1303.92 1580.98C1308.17 1586.21 1314.25 1591.96 1317.65 1596.67C1321.05 1601.37 1321.9 1603.86 1324.31 1609.22C1326.73 1614.58 1329.02 1621.76 1332.16 1628.82C1335.29 1635.88 1339.35 1644.51 1343.14 1651.57C1346.93 1658.63 1351.63 1665.29 1354.9 1671.18C1358.17 1677.06 1360.98 1682.29 1362.75 1686.86C1364.51 1691.44 1365.49 1694.38 1365.49 1698.63C1365.49 1702.88 1364.84 1707.78 1362.75 1712.35C1360.65 1716.93 1356.86 1720.65 1352.94 1726.08C1349.02 1731.5 1344.12 1739.02 1339.22 1744.9C1334.31 1750.78 1327.97 1756.67 1323.53 1761.37C1319.08 1766.08 1315.49 1769.74 1312.55 1773.14C1309.61 1776.54 1307.97 1777.84 1305.88 1781.76C1303.79 1785.69 1301.96 1790.92 1300 1796.67C1298.04 1802.42 1296.08 1809.08 1294.12 1816.27C1292.16 1823.46 1290 1833.27 1288.24 1839.8C1286.47 1846.34 1284.71 1850.39 1283.53 1855.49C1282.35 1860.59 1281.57 1867.91 1281.18 1870.39Z" fill="#b4cc99"/>
<path d="M1283.14 1505.29C1283.33 1508.76 1283.79 1518.69 1284.31 1526.08C1284.84 1533.46 1284.97 1543.07 1286.27 1549.61C1287.58 1556.14 1289.22 1560.07 1292.16 1565.29C1295.1 1570.52 1299.67 1575.75 1303.92 1580.98C1308.17 1586.21 1314.25 1591.96 1317.65 1596.67C1321.05 1601.37 1321.9 1603.86 1324.31 1609.22C1326.73 1614.58 1329.02 1621.76 1332.16 1628.82C1335.29 1635.88 1339.35 1644.51 1343.14 1651.57C1346.93 1658.63 1351.63 1665.29 1354.9 1671.18C1358.17 1677.06 1360.98 1682.29 1362.75 1686.86C1364.51 1691.44 1365.49 1694.38 1365.49 1698.63C1365.49 1702.88 1364.84 1707.78 1362.75 1712.35C1360.65 1716.93 1356.86 1720.65 1352.94 1726.08C1349.02 1731.5 1344.12 1739.02 1339.22 1744.9C1334.31 1750.78 1327.97 1756.67 1323.53 1761.37C1319.08 1766.08 1315.49 1769.74 1312.55 1773.14C1309.61 1776.54 1307.97 1777.84 1305.88 1781.76C1303.79 1785.69 1301.96 1790.92 1300 1796.67C1298.04 1802.42 1296.08 1809.08 1294.12 1816.27C1292.16 1823.46 1290 1833.27 1288.24 1839.8C1286.47 1846.34 1284.71 1850.39 1283.53 1855.49C1282.35 1860.59 1281.57 1867.91 1281.18 1870.39" fill="none" stroke="#000" stroke-width="2.4" stroke-linejoin="round"/>
<text x="794.5" y="1502.1" font-size="28.3" text-anchor="end" fill="#000">3</text>
<text x="794.5" y="1567.3" font-size="28.3" text-anchor="end" fill="#000">2</text>
<text x="794.5" y="1632.5" font-size="28.3" text-anchor="end" fill="#000">1</text>
<text x="794.5" y="1697.7" font-size="28.3" text-anchor="end" fill="#000">0</text>
<text x="794.5" y="1762.9" font-size="28.3" text-anchor="end" fill="#000">−1</text>
<text x="794.5" y="1828.1" font-size="28.3" text-anchor="end" fill="#000">−2</text>
<text x="794.5" y="1893.3" font-size="28.3" text-anchor="end" fill="#000">−3</text>
<text x="897.3" y="1919" font-size="28.3" text-anchor="middle" fill="#000">−2</text>
<text x="1027.5" y="1919" font-size="28.3" text-anchor="middle" fill="#000">0</text>
<text x="1157.7" y="1919" font-size="28.3" text-anchor="middle" fill="#000">2</text>
<text x="1033.3" y="1947.6" font-size="23.8" font-weight="bold" text-anchor="middle" fill="#231815">First component of DNAm change</text>
<text transform="translate(756.5 1689.5) rotate(-90)" font-size="23.8" font-weight="bold" text-anchor="middle" fill="#231815">First component of MRI change</text>
<text x="720.2" y="1389.3" font-size="58" font-weight="bold" fill="#231815">e</text>
<text transform="translate(995.47 1400.46) scale(1.1378 1)" font-family="&apos;IPAGothic&apos;, &apos;DejaVu Sans&apos;, sans-serif" font-size="41.27" fill="#231815" stroke="#231815" stroke-width="1.93" stroke-linejoin="miter">&#9651;</text>
<text transform="translate(1038 1397.5) scale(1 1.150)" font-size="32.2" font-weight="bold" fill="#231815">CT</text>
<text x="817.6" y="1511.2" font-size="23.5" font-weight="bold" fill="#231815"><tspan font-style="italic">r</tspan> = 0.56</text>
<text x="817.6" y="1540.6" font-size="23.5" font-weight="bold" fill="#231815"><tspan font-style="italic">P</tspan><tspan font-style="italic" font-size="18.8" dy="2">perm</tspan><tspan dy="-2"> = 0.030</tspan></text>
<line x1="1482.7" y1="1476.4" x2="1482.7" y2="1897.6" stroke="#ebebeb" stroke-width="2.2"/>
<line x1="1529.9" y1="1476.4" x2="1529.9" y2="1897.6" stroke="#ebebeb" stroke-width="2.2"/>
<line x1="1577.1" y1="1476.4" x2="1577.1" y2="1897.6" stroke="#ebebeb" stroke-width="2.2"/>
<line x1="1624.3" y1="1476.4" x2="1624.3" y2="1897.6" stroke="#ebebeb" stroke-width="2.2"/>
<line x1="1671.5" y1="1476.4" x2="1671.5" y2="1897.6" stroke="#ebebeb" stroke-width="2.2"/>
<line x1="1718.7" y1="1476.4" x2="1718.7" y2="1897.6" stroke="#ebebeb" stroke-width="2.2"/>
<line x1="1765.9" y1="1476.4" x2="1765.9" y2="1897.6" stroke="#ebebeb" stroke-width="2.2"/>
<line x1="1813.1" y1="1476.4" x2="1813.1" y2="1897.6" stroke="#ebebeb" stroke-width="2.2"/>
<line x1="1860.3" y1="1476.4" x2="1860.3" y2="1897.6" stroke="#ebebeb" stroke-width="2.2"/>
<line x1="1907.5" y1="1476.4" x2="1907.5" y2="1897.6" stroke="#ebebeb" stroke-width="2.2"/>
<line x1="1451.2" y1="1865.45" x2="1909" y2="1865.45" stroke="#ebebeb" stroke-width="2.2"/>
<line x1="1451.2" y1="1804.2" x2="1909" y2="1804.2" stroke="#ebebeb" stroke-width="2.2"/>
<line x1="1451.2" y1="1742.95" x2="1909" y2="1742.95" stroke="#ebebeb" stroke-width="2.2"/>
<line x1="1451.2" y1="1681.7" x2="1909" y2="1681.7" stroke="#ebebeb" stroke-width="2.2"/>
<line x1="1451.2" y1="1620.45" x2="1909" y2="1620.45" stroke="#ebebeb" stroke-width="2.2"/>
<line x1="1451.2" y1="1559.2" x2="1909" y2="1559.2" stroke="#ebebeb" stroke-width="2.2"/>
<line x1="1451.2" y1="1497.95" x2="1909" y2="1497.95" stroke="#ebebeb" stroke-width="2.2"/>
<g fill="#7f9aab" fill-opacity="0.72">
<circle cx="1721.6" cy="1755.85" r="7.8"/>
<circle cx="1760.64" cy="1622.76" r="7.8"/>
<circle cx="1756.66" cy="1588.08" r="7.8"/>
<circle cx="1705.56" cy="1630.76" r="7.8"/>
<circle cx="1711.81" cy="1640.01" r="7.8"/>
<circle cx="1705.06" cy="1775.95" r="7.8"/>
<circle cx="1737.37" cy="1713.31" r="7.8"/>
<circle cx="1718.94" cy="1707.05" r="7.8"/>
<circle cx="1742.59" cy="1718.5" r="7.8"/>
<circle cx="1666.18" cy="1652.18" r="7.8"/>
<circle cx="1766.73" cy="1641.93" r="7.8"/>
<circle cx="1717.75" cy="1683.64" r="7.8"/>
<circle cx="1740.63" cy="1641.31" r="7.8"/>
<circle cx="1716.57" cy="1735.47" r="7.8"/>
<circle cx="1709.42" cy="1737.49" r="7.8"/>
<circle cx="1734.23" cy="1720.72" r="7.8"/>
<circle cx="1744.87" cy="1638.14" r="7.8"/>
<circle cx="1714.62" cy="1665.38" r="7.8"/>
<circle cx="1716.09" cy="1651.44" r="7.8"/>
<circle cx="1740.78" cy="1608.64" r="7.8"/>
<circle cx="1694.95" cy="1771.16" r="7.8"/>
<circle cx="1675.99" cy="1738.93" r="7.8"/>
<circle cx="1732.22" cy="1665.23" r="7.8"/>
<circle cx="1700.84" cy="1767.06" r="7.8"/>
<circle cx="1664.03" cy="1744.74" r="7.8"/>
<circle cx="1696.61" cy="1639.42" r="7.8"/>
<circle cx="1706.82" cy="1628.24" r="7.8"/>
<circle cx="1685.44" cy="1642.84" r="7.8"/>
<circle cx="1676.63" cy="1705.26" r="7.8"/>
<circle cx="1721.67" cy="1691.56" r="7.8"/>
<circle cx="1747.01" cy="1604.74" r="7.8"/>
<circle cx="1713.72" cy="1705.31" r="7.8"/>
<circle cx="1698.69" cy="1675.39" r="7.8"/>
<circle cx="1731.93" cy="1600.49" r="7.8"/>
<circle cx="1741.71" cy="1687.78" r="7.8"/>
<circle cx="1711.75" cy="1719.64" r="7.8"/>
<circle cx="1736.63" cy="1671.16" r="7.8"/>
<circle cx="1751.3" cy="1628.62" r="7.8"/>
<circle cx="1714.49" cy="1657.7" r="7.8"/>
<circle cx="1696.63" cy="1686.71" r="7.8"/>
<circle cx="1730.83" cy="1643.55" r="7.8"/>
<circle cx="1727.88" cy="1764.22" r="7.8"/>
<circle cx="1752.95" cy="1707.95" r="7.8"/>
<circle cx="1682.75" cy="1694.86" r="7.8"/>
<circle cx="1701.1" cy="1743.74" r="7.8"/>
<circle cx="1695.9" cy="1769.71" r="7.8"/>
<circle cx="1669.52" cy="1778.6" r="7.8"/>
<circle cx="1724.31" cy="1728.85" r="7.8"/>
<circle cx="1736.13" cy="1680.79" r="7.8"/>
<circle cx="1698.83" cy="1750.32" r="7.8"/>
<circle cx="1761.4" cy="1642.43" r="7.8"/>
<circle cx="1744.8" cy="1572.11" r="7.8"/>
<circle cx="1739.07" cy="1677.28" r="7.8"/>
<circle cx="1732.42" cy="1602.98" r="7.8"/>
<circle cx="1748.74" cy="1647.29" r="7.8"/>
<circle cx="1681.36" cy="1766.45" r="7.8"/>
<circle cx="1738.67" cy="1683.53" r="7.8"/>
<circle cx="1738.34" cy="1723.72" r="7.8"/>
<circle cx="1668.52" cy="1670.3" r="7.8"/>
<circle cx="1730.81" cy="1737.8" r="7.8"/>
<circle cx="1713.21" cy="1612.18" r="7.8"/>
<circle cx="1743.61" cy="1634.48" r="7.8"/>
<circle cx="1707.66" cy="1799.99" r="7.8"/>
<circle cx="1720.05" cy="1637.63" r="7.8"/>
<circle cx="1730.69" cy="1588.7" r="7.8"/>
<circle cx="1694.78" cy="1740.02" r="7.8"/>
<circle cx="1738.22" cy="1615.36" r="7.8"/>
<circle cx="1717.5" cy="1781.58" r="7.8"/>
<circle cx="1735.09" cy="1657.7" r="7.8"/>
<circle cx="1705.22" cy="1781.59" r="7.8"/>
<circle cx="1752.58" cy="1634.23" r="7.8"/>
<circle cx="1738.41" cy="1768.11" r="7.8"/>
<circle cx="1739.2" cy="1647.23" r="7.8"/>
<circle cx="1773.34" cy="1680.85" r="7.8"/>
<circle cx="1674.24" cy="1663.34" r="7.8"/>
<circle cx="1746.6" cy="1658.4" r="7.8"/>
<circle cx="1734.29" cy="1689.93" r="7.8"/>
<circle cx="1717.82" cy="1648.32" r="7.8"/>
<circle cx="1690.94" cy="1608.27" r="7.8"/>
<circle cx="1757.62" cy="1725.8" r="7.8"/>
<circle cx="1683.43" cy="1672.36" r="7.8"/>
<circle cx="1737.29" cy="1651.22" r="7.8"/>
<circle cx="1758.93" cy="1735.42" r="7.8"/>
<circle cx="1673.47" cy="1620.57" r="7.8"/>
<circle cx="1711.68" cy="1578.57" r="7.8"/>
<circle cx="1682.03" cy="1756.83" r="7.8"/>
<circle cx="1727.78" cy="1580.3" r="7.8"/>
<circle cx="1765.19" cy="1649.95" r="7.8"/>
<circle cx="1780.19" cy="1652.8" r="7.8"/>
<circle cx="1668.22" cy="1629.94" r="7.8"/>
<circle cx="1703.65" cy="1678.44" r="7.8"/>
<circle cx="1741.31" cy="1649.95" r="7.8"/>
<circle cx="1767.1" cy="1568.2" r="7.8"/>
<circle cx="1732.99" cy="1601.88" r="7.8"/>
<circle cx="1698.61" cy="1644.85" r="7.8"/>
<circle cx="1729.34" cy="1752.35" r="7.8"/>
<circle cx="1720.1" cy="1767.52" r="7.8"/>
<circle cx="1714.59" cy="1622.16" r="7.8"/>
<circle cx="1698.96" cy="1744.96" r="7.8"/>
<circle cx="1731.99" cy="1665.32" r="7.8"/>
<circle cx="1729.66" cy="1734.16" r="7.8"/>
<circle cx="1717.85" cy="1692.35" r="7.8"/>
<circle cx="1714.06" cy="1755.05" r="7.8"/>
<circle cx="1682.74" cy="1614" r="7.8"/>
<circle cx="1706.27" cy="1745.53" r="7.8"/>
<circle cx="1756.12" cy="1665.36" r="7.8"/>
<circle cx="1714.98" cy="1694.37" r="7.8"/>
<circle cx="1678.18" cy="1640.19" r="7.8"/>
<circle cx="1759.89" cy="1734.58" r="7.8"/>
<circle cx="1736.21" cy="1672.75" r="7.8"/>
<circle cx="1782.68" cy="1653.8" r="7.8"/>
<circle cx="1722.43" cy="1650.19" r="7.8"/>
<circle cx="1707" cy="1662.89" r="7.8"/>
<circle cx="1677.95" cy="1732.38" r="7.8"/>
<circle cx="1759.58" cy="1643.3" r="7.8"/>
<circle cx="1796.27" cy="1654.54" r="7.8"/>
<circle cx="1696.41" cy="1669.64" r="7.8"/>
<circle cx="1701.53" cy="1697.94" r="7.8"/>
<circle cx="1738.15" cy="1705.85" r="7.8"/>
<circle cx="1696.13" cy="1697.13" r="7.8"/>
<circle cx="1712.62" cy="1665.39" r="7.8"/>
<circle cx="1710.28" cy="1561.98" r="7.8"/>
<circle cx="1726.24" cy="1704.13" r="7.8"/>
<circle cx="1752.83" cy="1643.76" r="7.8"/>
<circle cx="1721.24" cy="1599.49" r="7.8"/>
<circle cx="1747.65" cy="1778.41" r="7.8"/>
<circle cx="1708.22" cy="1784.24" r="7.8"/>
<circle cx="1730.24" cy="1740.11" r="7.8"/>
<circle cx="1657.61" cy="1725.65" r="7.8"/>
<circle cx="1677.88" cy="1572.36" r="7.8"/>
<circle cx="1744.03" cy="1644.51" r="7.8"/>
<circle cx="1703.21" cy="1624.65" r="7.8"/>
<circle cx="1737.67" cy="1682.25" r="7.8"/>
<circle cx="1736.56" cy="1806.5" r="7.8"/>
<circle cx="1759.53" cy="1784.07" r="7.8"/>
<circle cx="1744.5" cy="1609.65" r="7.8"/>
<circle cx="1750.54" cy="1651.88" r="7.8"/>
<circle cx="1717.3" cy="1754.14" r="7.8"/>
<circle cx="1700.02" cy="1631.62" r="7.8"/>
<circle cx="1699.04" cy="1778.65" r="7.8"/>
<circle cx="1706.21" cy="1626.87" r="7.8"/>
<circle cx="1687.31" cy="1621.04" r="7.8"/>
<circle cx="1704.46" cy="1732.64" r="7.8"/>
<circle cx="1717.86" cy="1743.3" r="7.8"/>
<circle cx="1728" cy="1629.42" r="7.8"/>
<circle cx="1710.61" cy="1747.07" r="7.8"/>
<circle cx="1663.93" cy="1667.95" r="7.8"/>
<circle cx="1718.46" cy="1747.74" r="7.8"/>
<circle cx="1727.23" cy="1631.93" r="7.8"/>
<circle cx="1752.53" cy="1655.67" r="7.8"/>
<circle cx="1737.61" cy="1693.9" r="7.8"/>
<circle cx="1701.63" cy="1741.59" r="7.8"/>
<circle cx="1699.27" cy="1680.58" r="7.8"/>
<circle cx="1779.81" cy="1748.37" r="7.8"/>
<circle cx="1742.87" cy="1682.01" r="7.8"/>
<circle cx="1774.53" cy="1669.13" r="7.8"/>
<circle cx="1783.31" cy="1604.48" r="7.8"/>
<circle cx="1696.49" cy="1764.5" r="7.8"/>
<circle cx="1731.94" cy="1579.09" r="7.8"/>
<circle cx="1734.08" cy="1689.39" r="7.8"/>
<circle cx="1737.07" cy="1733.12" r="7.8"/>
<circle cx="1736.55" cy="1594.29" r="7.8"/>
<circle cx="1726.54" cy="1585.2" r="7.8"/>
<circle cx="1725.72" cy="1687.73" r="7.8"/>
<circle cx="1676.34" cy="1756.93" r="7.8"/>
<circle cx="1715.72" cy="1682.65" r="7.8"/>
<circle cx="1698.57" cy="1732.17" r="7.8"/>
<circle cx="1724.3" cy="1695.45" r="7.8"/>
<circle cx="1706.82" cy="1603.12" r="7.8"/>
<circle cx="1738.81" cy="1647.7" r="7.8"/>
<circle cx="1744.71" cy="1657.65" r="7.8"/>
<circle cx="1729.68" cy="1655.86" r="7.8"/>
<circle cx="1729.9" cy="1678" r="7.8"/>
<circle cx="1723.33" cy="1632.46" r="7.8"/>
<circle cx="1707.4" cy="1640.19" r="7.8"/>
<circle cx="1715.74" cy="1703.9" r="7.8"/>
<circle cx="1705.99" cy="1683.74" r="7.8"/>
<circle cx="1732.02" cy="1540.44" r="7.8"/>
<circle cx="1721" cy="1657.04" r="7.8"/>
<circle cx="1737.71" cy="1680.23" r="7.8"/>
<circle cx="1681.46" cy="1591.67" r="7.8"/>
<circle cx="1746.74" cy="1663.9" r="7.8"/>
<circle cx="1698.12" cy="1754.87" r="7.8"/>
<circle cx="1698.96" cy="1656.68" r="7.8"/>
<circle cx="1714.77" cy="1733.72" r="7.8"/>
<circle cx="1703.99" cy="1718.17" r="7.8"/>
<circle cx="1729.16" cy="1657.26" r="7.8"/>
<circle cx="1703.68" cy="1697.95" r="7.8"/>
<circle cx="1689.09" cy="1742.04" r="7.8"/>
<circle cx="1695.68" cy="1726.26" r="7.8"/>
<circle cx="1759.23" cy="1689.43" r="7.8"/>
<circle cx="1721.89" cy="1615.45" r="7.8"/>
<circle cx="1686.2" cy="1741.48" r="7.8"/>
<circle cx="1720.83" cy="1711.93" r="7.8"/>
<circle cx="1674.76" cy="1596.42" r="7.8"/>
<circle cx="1773.3" cy="1678.57" r="7.8"/>
<circle cx="1675.69" cy="1626.11" r="7.8"/>
<circle cx="1734.69" cy="1599.31" r="7.8"/>
<circle cx="1736.6" cy="1679.09" r="7.8"/>
<circle cx="1677.88" cy="1785.1" r="7.8"/>
<circle cx="1729.43" cy="1650.11" r="7.8"/>
<circle cx="1749.96" cy="1625.35" r="7.8"/>
<circle cx="1734.36" cy="1618.7" r="7.8"/>
<circle cx="1728.28" cy="1671.83" r="7.8"/>
<circle cx="1748.54" cy="1596.9" r="7.8"/>
<circle cx="1725.33" cy="1600.97" r="7.8"/>
<circle cx="1730.5" cy="1732.55" r="7.8"/>
<circle cx="1716.86" cy="1604.04" r="7.8"/>
<circle cx="1739.2" cy="1659.44" r="7.8"/>
<circle cx="1692.86" cy="1728.81" r="7.8"/>
<circle cx="1743.91" cy="1683.73" r="7.8"/>
<circle cx="1705.71" cy="1586.21" r="7.8"/>
<circle cx="1688.47" cy="1646.09" r="7.8"/>
<circle cx="1731.35" cy="1772.53" r="7.8"/>
<circle cx="1770.45" cy="1645.2" r="7.8"/>
<circle cx="1748.91" cy="1670.79" r="7.8"/>
<circle cx="1705.4" cy="1699.58" r="7.8"/>
<circle cx="1741.15" cy="1696.15" r="7.8"/>
<circle cx="1707.21" cy="1769.06" r="7.8"/>
<circle cx="1716.94" cy="1635.29" r="7.8"/>
<circle cx="1723.22" cy="1730.71" r="7.8"/>
<circle cx="1652.34" cy="1743" r="7.8"/>
<circle cx="1726.23" cy="1710.26" r="7.8"/>
<circle cx="1690.26" cy="1739.35" r="7.8"/>
<circle cx="1700.05" cy="1652.23" r="7.8"/>
<circle cx="1677.16" cy="1686.15" r="7.8"/>
<circle cx="1675.92" cy="1745.23" r="7.8"/>
<circle cx="1692.81" cy="1749.74" r="7.8"/>
<circle cx="1744.9" cy="1691.42" r="7.8"/>
<circle cx="1769.66" cy="1596.98" r="7.8"/>
<circle cx="1719.85" cy="1674.05" r="7.8"/>
<circle cx="1752.74" cy="1647.87" r="7.8"/>
<circle cx="1712.81" cy="1703.42" r="7.8"/>
<circle cx="1664.28" cy="1729.46" r="7.8"/>
<circle cx="1725" cy="1665.88" r="7.8"/>
<circle cx="1733.71" cy="1774.06" r="7.8"/>
<circle cx="1707.96" cy="1599.45" r="7.8"/>
<circle cx="1729.49" cy="1718.47" r="7.8"/>
<circle cx="1737.45" cy="1701.47" r="7.8"/>
<circle cx="1695.16" cy="1622.43" r="7.8"/>
<circle cx="1677.09" cy="1695.09" r="7.8"/>
<circle cx="1714.07" cy="1682.23" r="7.8"/>
<circle cx="1714.37" cy="1716.52" r="7.8"/>
<circle cx="1710.2" cy="1773" r="7.8"/>
<circle cx="1749.67" cy="1652.42" r="7.8"/>
<circle cx="1771.41" cy="1583.32" r="7.8"/>
<circle cx="1708.32" cy="1737.69" r="7.8"/>
<circle cx="1741.17" cy="1592.73" r="7.8"/>
<circle cx="1748.3" cy="1725.59" r="7.8"/>
<circle cx="1741.59" cy="1708.05" r="7.8"/>
<circle cx="1751.44" cy="1633.63" r="7.8"/>
<circle cx="1709.12" cy="1687.6" r="7.8"/>
<circle cx="1742.38" cy="1629.02" r="7.8"/>
<circle cx="1780.21" cy="1684.67" r="7.8"/>
<circle cx="1744.26" cy="1722.82" r="7.8"/>
<circle cx="1702.33" cy="1794.71" r="7.8"/>
<circle cx="1738.49" cy="1735.86" r="7.8"/>
<circle cx="1757.77" cy="1716.94" r="7.8"/>
<circle cx="1731.46" cy="1752.5" r="7.8"/>
<circle cx="1703.99" cy="1673.76" r="7.8"/>
<circle cx="1766.04" cy="1689.12" r="7.8"/>
<circle cx="1683.78" cy="1812.83" r="7.8"/>
<circle cx="1720.11" cy="1726.85" r="7.8"/>
<circle cx="1685.43" cy="1771.42" r="7.8"/>
<circle cx="1756.5" cy="1590.05" r="7.8"/>
<circle cx="1730.83" cy="1609.98" r="7.8"/>
<circle cx="1686.22" cy="1765.19" r="7.8"/>
<circle cx="1738.31" cy="1750.87" r="7.8"/>
<circle cx="1707.88" cy="1743.5" r="7.8"/>
<circle cx="1664.55" cy="1652.82" r="7.8"/>
<circle cx="1700.3" cy="1710.2" r="7.8"/>
<circle cx="1728.35" cy="1720.33" r="7.8"/>
<circle cx="1739.31" cy="1670.56" r="7.8"/>
<circle cx="1725.46" cy="1611.15" r="7.8"/>
<circle cx="1721.92" cy="1756.32" r="7.8"/>
<circle cx="1734.43" cy="1693.16" r="7.8"/>
<circle cx="1714.37" cy="1760.63" r="7.8"/>
<circle cx="1755.25" cy="1539.43" r="7.8"/>
<circle cx="1724.97" cy="1577.6" r="7.8"/>
<circle cx="1729.24" cy="1622.77" r="7.8"/>
<circle cx="1736.52" cy="1678.07" r="7.8"/>
<circle cx="1689.45" cy="1663.39" r="7.8"/>
<circle cx="1699.7" cy="1809.29" r="7.8"/>
<circle cx="1765.61" cy="1637.55" r="7.8"/>
<circle cx="1730.46" cy="1748.1" r="7.8"/>
<circle cx="1712.26" cy="1758.7" r="7.8"/>
<circle cx="1730.65" cy="1713.18" r="7.8"/>
<circle cx="1706.4" cy="1708.59" r="7.8"/>
<circle cx="1728.79" cy="1643.83" r="7.8"/>
<circle cx="1700.98" cy="1654" r="7.8"/>
<circle cx="1728.72" cy="1661.05" r="7.8"/>
<circle cx="1674.12" cy="1761.24" r="7.8"/>
<circle cx="1759.79" cy="1619.11" r="7.8"/>
<circle cx="1705.48" cy="1696.52" r="7.8"/>
<circle cx="1674.02" cy="1644.18" r="7.8"/>
<circle cx="1714" cy="1735.16" r="7.8"/>
<circle cx="1725.08" cy="1704.05" r="7.8"/>
<circle cx="1686.86" cy="1582.74" r="7.8"/>
<circle cx="1732.29" cy="1647.47" r="7.8"/>
<circle cx="1682.93" cy="1655.04" r="7.8"/>
<circle cx="1730.53" cy="1646.67" r="7.8"/>
<circle cx="1711.44" cy="1660.75" r="7.8"/>
<circle cx="1726.26" cy="1705.35" r="7.8"/>
<circle cx="1667.23" cy="1709.23" r="7.8"/>
<circle cx="1686.69" cy="1690.34" r="7.8"/>
<circle cx="1734.13" cy="1707.62" r="7.8"/>
<circle cx="1719.46" cy="1742.9" r="7.8"/>
<circle cx="1768.75" cy="1643.19" r="7.8"/>
<circle cx="1699.83" cy="1639.95" r="7.8"/>
<circle cx="1725.73" cy="1641.69" r="7.8"/>
<circle cx="1806.39" cy="1600.42" r="7.8"/>
<circle cx="1698.04" cy="1666.63" r="7.8"/>
<circle cx="1693.97" cy="1554.5" r="7.8"/>
<circle cx="1719.55" cy="1666.85" r="7.8"/>
<circle cx="1719.28" cy="1623.9" r="7.8"/>
<circle cx="1745.45" cy="1557.33" r="7.8"/>
<circle cx="1724.4" cy="1675.26" r="7.8"/>
<circle cx="1698.3" cy="1679.69" r="7.8"/>
<circle cx="1726.81" cy="1619.14" r="7.8"/>
<circle cx="1798.3" cy="1539.6" r="7.8"/>
<circle cx="1758.05" cy="1640.19" r="7.8"/>
<circle cx="1638.65" cy="1711.03" r="7.8"/>
<circle cx="1716.41" cy="1678.11" r="7.8"/>
<circle cx="1694.81" cy="1762.88" r="7.8"/>
<circle cx="1738.92" cy="1607.63" r="7.8"/>
<circle cx="1715.48" cy="1697.6" r="7.8"/>
<circle cx="1777.51" cy="1740.2" r="7.8"/>
<circle cx="1748.02" cy="1671.58" r="7.8"/>
<circle cx="1746.81" cy="1759.57" r="7.8"/>
<circle cx="1726.08" cy="1732.53" r="7.8"/>
<circle cx="1719.4" cy="1680.11" r="7.8"/>
<circle cx="1730.61" cy="1724.91" r="7.8"/>
<circle cx="1758.74" cy="1597.74" r="7.8"/>
<circle cx="1736.33" cy="1751.55" r="7.8"/>
<circle cx="1710.25" cy="1672.07" r="7.8"/>
<circle cx="1758.14" cy="1626.28" r="7.8"/>
<circle cx="1726.25" cy="1596.15" r="7.8"/>
<circle cx="1718.3" cy="1630.68" r="7.8"/>
<circle cx="1697.28" cy="1681.61" r="7.8"/>
<circle cx="1703.92" cy="1685.92" r="7.8"/>
<circle cx="1701.85" cy="1694.84" r="7.8"/>
<circle cx="1638.35" cy="1667.98" r="7.8"/>
<circle cx="1750.54" cy="1697.79" r="7.8"/>
<circle cx="1737.27" cy="1641.02" r="7.8"/>
<circle cx="1714.28" cy="1689.06" r="7.8"/>
<circle cx="1751.4" cy="1647.74" r="7.8"/>
<circle cx="1733.49" cy="1686.5" r="7.8"/>
<circle cx="1731.53" cy="1555.53" r="7.8"/>
<circle cx="1647.7" cy="1761.12" r="7.8"/>
<circle cx="1713.73" cy="1670.22" r="7.8"/>
<circle cx="1736.26" cy="1655.06" r="7.8"/>
<circle cx="1768" cy="1617.18" r="7.8"/>
<circle cx="1774.79" cy="1621.67" r="7.8"/>
<circle cx="1762.58" cy="1630.61" r="7.8"/>
<circle cx="1686.38" cy="1646.86" r="7.8"/>
<circle cx="1655.86" cy="1802.75" r="7.8"/>
<circle cx="1737.39" cy="1668.98" r="7.8"/>
<circle cx="1721.4" cy="1747.38" r="7.8"/>
<circle cx="1748.94" cy="1649.58" r="7.8"/>
<circle cx="1716.88" cy="1747.35" r="7.8"/>
<circle cx="1727.06" cy="1728.8" r="7.8"/>
<circle cx="1676.41" cy="1710.43" r="7.8"/>
<circle cx="1733.78" cy="1594.74" r="7.8"/>
<circle cx="1707.48" cy="1656.09" r="7.8"/>
<circle cx="1730.9" cy="1657.13" r="7.8"/>
<circle cx="1734.12" cy="1594.13" r="7.8"/>
<circle cx="1717.14" cy="1734.06" r="7.8"/>
<circle cx="1729.92" cy="1789.39" r="7.8"/>
<circle cx="1720.19" cy="1703.42" r="7.8"/>
<circle cx="1742.95" cy="1681.36" r="7.8"/>
<circle cx="1735.37" cy="1602.63" r="7.8"/>
<circle cx="1704.47" cy="1571.81" r="7.8"/>
<circle cx="1703.27" cy="1763.77" r="7.8"/>
<circle cx="1717.6" cy="1595.39" r="7.8"/>
<circle cx="1749.8" cy="1615.55" r="7.8"/>
<circle cx="1732.17" cy="1652.35" r="7.8"/>
<circle cx="1703.97" cy="1556.28" r="7.8"/>
<circle cx="1698.53" cy="1688.93" r="7.8"/>
<circle cx="1724.13" cy="1703.7" r="7.8"/>
<circle cx="1728.15" cy="1667.44" r="7.8"/>
<circle cx="1738.68" cy="1744.1" r="7.8"/>
<circle cx="1683.27" cy="1676.75" r="7.8"/>
<circle cx="1703.07" cy="1696.61" r="7.8"/>
<circle cx="1717.79" cy="1663.26" r="7.8"/>
<circle cx="1767.73" cy="1630.85" r="7.8"/>
<circle cx="1651.07" cy="1780.98" r="7.8"/>
<circle cx="1733.52" cy="1599.23" r="7.8"/>
<circle cx="1704.68" cy="1745.5" r="7.8"/>
<circle cx="1733.29" cy="1622.96" r="7.8"/>
<circle cx="1706.1" cy="1776.51" r="7.8"/>
<circle cx="1731.33" cy="1652.65" r="7.8"/>
<circle cx="1766.67" cy="1696.54" r="7.8"/>
<circle cx="1731.02" cy="1670.95" r="7.8"/>
<circle cx="1733.35" cy="1707.77" r="7.8"/>
<circle cx="1731.57" cy="1793.3" r="7.8"/>
<circle cx="1698.49" cy="1754.78" r="7.8"/>
<circle cx="1736.58" cy="1666.06" r="7.8"/>
<circle cx="1714.45" cy="1649.09" r="7.8"/>
<circle cx="1696.68" cy="1775.42" r="7.8"/>
<circle cx="1719.45" cy="1797.54" r="7.8"/>
<circle cx="1713.89" cy="1731.9" r="7.8"/>
<circle cx="1742.78" cy="1677.66" r="7.8"/>
<circle cx="1719.33" cy="1715.37" r="7.8"/>
<circle cx="1704.99" cy="1733.93" r="7.8"/>
<circle cx="1763.47" cy="1606.36" r="7.8"/>
<circle cx="1749.7" cy="1608.5" r="7.8"/>
<circle cx="1757.99" cy="1615.74" r="7.8"/>
<circle cx="1738.49" cy="1720.36" r="7.8"/>
<circle cx="1717.36" cy="1677.47" r="7.8"/>
<circle cx="1708.24" cy="1697.97" r="7.8"/>
<circle cx="1712.36" cy="1763.45" r="7.8"/>
<circle cx="1748.5" cy="1613.83" r="7.8"/>
<circle cx="1723.88" cy="1672.81" r="7.8"/>
<circle cx="1676.91" cy="1733.34" r="7.8"/>
<circle cx="1719.44" cy="1602.26" r="7.8"/>
<circle cx="1678.88" cy="1663.29" r="7.8"/>
<circle cx="1725.47" cy="1629.49" r="7.8"/>
<circle cx="1685.13" cy="1635.39" r="7.8"/>
<circle cx="1683.36" cy="1663.07" r="7.8"/>
<circle cx="1724.08" cy="1747.29" r="7.8"/>
<circle cx="1718.28" cy="1702.55" r="7.8"/>
<circle cx="1671.64" cy="1654.57" r="7.8"/>
<circle cx="1742.63" cy="1708.51" r="7.8"/>
<circle cx="1784.3" cy="1638.41" r="7.8"/>
<circle cx="1676.96" cy="1684.69" r="7.8"/>
<circle cx="1774.19" cy="1567.23" r="7.8"/>
<circle cx="1700.33" cy="1620.63" r="7.8"/>
<circle cx="1706.04" cy="1639.19" r="7.8"/>
<circle cx="1715.32" cy="1693.27" r="7.8"/>
<circle cx="1678.02" cy="1655.56" r="7.8"/>
<circle cx="1758.85" cy="1627.07" r="7.8"/>
<circle cx="1735.1" cy="1679.75" r="7.8"/>
<circle cx="1698.46" cy="1618.58" r="7.8"/>
<circle cx="1712.43" cy="1657.56" r="7.8"/>
<circle cx="1675.93" cy="1749" r="7.8"/>
<circle cx="1710.35" cy="1616.32" r="7.8"/>
<circle cx="1748.16" cy="1676.89" r="7.8"/>
<circle cx="1670.07" cy="1678.25" r="7.8"/>
<circle cx="1707.74" cy="1771.79" r="7.8"/>
<circle cx="1724.91" cy="1678.26" r="7.8"/>
<circle cx="1751.46" cy="1713" r="7.8"/>
<circle cx="1760.33" cy="1709.02" r="7.8"/>
<circle cx="1707.12" cy="1793.53" r="7.8"/>
<circle cx="1698.78" cy="1575.21" r="7.8"/>
<circle cx="1733.85" cy="1680.03" r="7.8"/>
<circle cx="1709.89" cy="1673.41" r="7.8"/>
<circle cx="1711.46" cy="1624.51" r="7.8"/>
<circle cx="1752.4" cy="1667.07" r="7.8"/>
<circle cx="1770.36" cy="1620.99" r="7.8"/>
<circle cx="1728.42" cy="1750.08" r="7.8"/>
<circle cx="1714.93" cy="1672.66" r="7.8"/>
<circle cx="1737.41" cy="1692.45" r="7.8"/>
<circle cx="1665" cy="1686.69" r="7.8"/>
<circle cx="1720.05" cy="1670.38" r="7.8"/>
<circle cx="1689.35" cy="1775.67" r="7.8"/>
<circle cx="1790.96" cy="1738.74" r="7.8"/>
<circle cx="1741.8" cy="1722.92" r="7.8"/>
<circle cx="1724.75" cy="1636.85" r="7.8"/>
<circle cx="1714.86" cy="1660.16" r="7.8"/>
<circle cx="1646.52" cy="1703.51" r="7.8"/>
<circle cx="1741.58" cy="1778.46" r="7.8"/>
<circle cx="1768.58" cy="1798.78" r="7.8"/>
<circle cx="1699.12" cy="1727.74" r="7.8"/>
<circle cx="1740.72" cy="1686.08" r="7.8"/>
<circle cx="1741.87" cy="1700.31" r="7.8"/>
<circle cx="1674.99" cy="1688.74" r="7.8"/>
<circle cx="1748.15" cy="1672.65" r="7.8"/>
<circle cx="1760.49" cy="1721" r="7.8"/>
<circle cx="1727.32" cy="1724.6" r="7.8"/>
<circle cx="1718.73" cy="1673.52" r="7.8"/>
<circle cx="1743.8" cy="1661.96" r="7.8"/>
<circle cx="1675.21" cy="1712.36" r="7.8"/>
<circle cx="1723.34" cy="1553.62" r="7.8"/>
<circle cx="1751.64" cy="1675.66" r="7.8"/>
<circle cx="1683.99" cy="1696.27" r="7.8"/>
<circle cx="1749.82" cy="1717.24" r="7.8"/>
<circle cx="1708.27" cy="1707.76" r="7.8"/>
<circle cx="1659.3" cy="1689.26" r="7.8"/>
<circle cx="1717.47" cy="1651.06" r="7.8"/>
<circle cx="1691.96" cy="1706.74" r="7.8"/>
<circle cx="1729.99" cy="1652.87" r="7.8"/>
<circle cx="1686.07" cy="1698.7" r="7.8"/>
<circle cx="1751.52" cy="1765.11" r="7.8"/>
<circle cx="1731.08" cy="1546.66" r="7.8"/>
<circle cx="1703.09" cy="1645.52" r="7.8"/>
<circle cx="1711.08" cy="1689.53" r="7.8"/>
<circle cx="1755.69" cy="1754.71" r="7.8"/>
<circle cx="1726.93" cy="1746.94" r="7.8"/>
<circle cx="1708.95" cy="1612.96" r="7.8"/>
<circle cx="1754.75" cy="1677.36" r="7.8"/>
<circle cx="1742.17" cy="1619.35" r="7.8"/>
<circle cx="1710.97" cy="1678.57" r="7.8"/>
<circle cx="1727.75" cy="1634.51" r="7.8"/>
<circle cx="1690.26" cy="1706.46" r="7.8"/>
<circle cx="1690.7" cy="1567.02" r="7.8"/>
<circle cx="1696.25" cy="1752.2" r="7.8"/>
<circle cx="1731" cy="1749.21" r="7.8"/>
<circle cx="1729.3" cy="1660.03" r="7.8"/>
<circle cx="1698.64" cy="1615.26" r="7.8"/>
<circle cx="1742.32" cy="1670.22" r="7.8"/>
<circle cx="1743.7" cy="1608.46" r="7.8"/>
<circle cx="1725.68" cy="1706.66" r="7.8"/>
<circle cx="1751.17" cy="1727.02" r="7.8"/>
<circle cx="1712.12" cy="1608.58" r="7.8"/>
<circle cx="1717.26" cy="1596.11" r="7.8"/>
<circle cx="1734.52" cy="1587.44" r="7.8"/>
<circle cx="1719.59" cy="1705.31" r="7.8"/>
<circle cx="1743.97" cy="1729.8" r="7.8"/>
<circle cx="1683.69" cy="1767.74" r="7.8"/>
<circle cx="1762.58" cy="1667.04" r="7.8"/>
<circle cx="1697.58" cy="1662.61" r="7.8"/>
<circle cx="1715.74" cy="1655.46" r="7.8"/>
<circle cx="1473.26" cy="1865.45" r="7.8"/>
<circle cx="1556.33" cy="1831.76" r="7.8"/>
<circle cx="1567.66" cy="1840.95" r="7.8"/>
<circle cx="1628.08" cy="1840.95" r="7.8"/>
<circle cx="1586.54" cy="1687.83" r="7.8"/>
<circle cx="1888.62" cy="1543.89" r="7.8"/>
<circle cx="1884.84" cy="1648.01" r="7.8"/>
<circle cx="1813.1" cy="1663.33" r="7.8"/>
<circle cx="1835.76" cy="1669.45" r="7.8"/>
<circle cx="1828.2" cy="1605.14" r="7.8"/>
<circle cx="1798" cy="1602.08" r="7.8"/>
<circle cx="1805.55" cy="1602.08" r="7.8"/>
<circle cx="1760.24" cy="1494.89" r="7.8"/>
<circle cx="1794.22" cy="1507.14" r="7.8"/>
<circle cx="1779.12" cy="1522.45" r="7.8"/>
<circle cx="1741.36" cy="1510.2" r="7.8"/>
<circle cx="1733.8" cy="1522.45" r="7.8"/>
<circle cx="1730.03" cy="1537.76" r="7.8"/>
<circle cx="1767.79" cy="1546.95" r="7.8"/>
<circle cx="1711.15" cy="1837.89" r="7.8"/>
<circle cx="1730.03" cy="1859.33" r="7.8"/>
<circle cx="1620.52" cy="1742.95" r="7.8"/>
<circle cx="1805.55" cy="1706.2" r="7.8"/>
<circle cx="1786.67" cy="1718.45" r="7.8"/>
<circle cx="1662.06" cy="1605.14" r="7.8"/>
<circle cx="1673.39" cy="1605.14" r="7.8"/>
<circle cx="1654.51" cy="1660.26" r="7.8"/>
<circle cx="1648.84" cy="1681.7" r="7.8"/>
<circle cx="1646.96" cy="1703.14" r="7.8"/>
<circle cx="1696.04" cy="1804.2" r="7.8"/>
<circle cx="1669.61" cy="1804.2" r="7.8"/>
</g>
<polygon points="1472.13,1807.32 1479.19,1803.7 1486.25,1800.09 1493.3,1796.47 1500.36,1792.85 1507.42,1789.23 1514.48,1785.61 1521.54,1781.98 1528.6,1778.36 1535.66,1774.74 1542.72,1771.11 1549.78,1767.48 1556.84,1763.85 1563.9,1760.22 1570.96,1756.59 1578.02,1752.95 1585.07,1749.31 1592.13,1745.67 1599.19,1742.02 1606.25,1738.37 1613.31,1734.71 1620.37,1731.05 1627.43,1727.38 1634.49,1723.7 1641.55,1720 1648.61,1716.3 1655.67,1712.57 1662.73,1708.82 1669.78,1705.04 1676.84,1701.22 1683.9,1697.35 1690.96,1693.4 1698.02,1689.36 1705.08,1685.2 1712.14,1680.88 1719.2,1676.38 1726.26,1671.69 1733.32,1666.82 1740.38,1661.81 1747.44,1656.68 1754.5,1651.45 1761.55,1646.15 1768.61,1640.81 1775.67,1635.42 1782.73,1630.01 1789.79,1624.57 1796.85,1619.11 1803.91,1613.64 1810.97,1608.16 1818.03,1602.67 1825.09,1597.18 1832.15,1591.67 1839.21,1586.16 1846.26,1580.65 1853.32,1575.13 1860.38,1569.61 1867.44,1564.08 1874.5,1558.55 1881.56,1553.03 1888.62,1547.49 1888.62,1595.41 1881.56,1599.04 1874.5,1602.67 1867.44,1606.3 1860.38,1609.94 1853.32,1613.57 1846.26,1617.22 1839.21,1620.86 1832.15,1624.51 1825.09,1628.17 1818.03,1631.83 1810.97,1635.5 1803.91,1639.18 1796.85,1642.87 1789.79,1646.58 1782.73,1650.3 1775.67,1654.05 1768.61,1657.82 1761.55,1661.63 1754.5,1665.5 1747.44,1669.43 1740.38,1673.46 1733.32,1677.61 1726.26,1681.9 1719.2,1686.38 1712.14,1691.04 1705.08,1695.88 1698.02,1700.87 1690.96,1705.99 1683.9,1711.21 1676.84,1716.49 1669.78,1721.83 1662.73,1727.21 1655.67,1732.62 1648.61,1738.06 1641.55,1743.51 1634.49,1748.98 1627.43,1754.46 1620.37,1759.95 1613.31,1765.45 1606.25,1770.95 1599.19,1776.46 1592.13,1781.97 1585.07,1787.49 1578.02,1793.01 1570.96,1798.54 1563.9,1804.06 1556.84,1809.59 1549.78,1815.12 1542.72,1820.66 1535.66,1826.19 1528.6,1831.73 1521.54,1837.26 1514.48,1842.8 1507.42,1848.34 1500.36,1853.88 1493.3,1859.42 1486.25,1864.96 1479.19,1870.5 1472.13,1876.05" fill="#999" fill-opacity="0.4"/>
<line x1="1472.13" y1="1841.68" x2="1888.62" y2="1571.45" stroke="#000" stroke-width="5.6"/>
<path d="M1451.2 1476.4V1897.6H1909" fill="none" stroke="#000" stroke-width="3"/>
<path d="M1472.21 1470.85C1478.04 1470.97 1495.21 1471.58 1507.17 1471.58C1519.12 1471.58 1531.69 1470.97 1543.96 1470.85C1556.22 1470.72 1568.49 1470.97 1580.75 1470.85C1593.01 1470.72 1608.65 1470.42 1617.54 1470.11C1626.43 1469.8 1629.81 1469.8 1634.1 1469.01C1638.39 1468.21 1639.92 1466.86 1643.3 1465.33C1646.67 1463.79 1650.65 1461.22 1654.33 1459.81C1658.01 1458.4 1661.69 1458.7 1665.37 1456.87C1669.05 1455.03 1672.12 1452.57 1676.41 1448.77C1680.7 1444.97 1686.22 1439.27 1691.13 1434.05C1696.03 1428.84 1701.86 1422.71 1705.84 1417.5C1709.83 1412.29 1712.28 1406.46 1715.04 1402.78C1717.8 1399.1 1719.95 1396.04 1722.4 1395.42C1724.85 1394.81 1727 1396.34 1729.76 1399.1C1732.52 1401.86 1735.58 1407.38 1738.96 1411.98C1742.33 1416.58 1746.31 1421.79 1749.99 1426.7C1753.67 1431.6 1757.35 1436.51 1761.03 1441.41C1764.71 1446.32 1768.39 1452.33 1772.07 1456.13C1775.75 1459.93 1778.2 1462.08 1783.11 1464.22C1788.01 1466.37 1792.3 1467.9 1801.5 1469.01C1810.7 1470.11 1826.03 1470.54 1838.29 1470.85C1850.56 1471.15 1866.68 1470.85 1875.08 1470.85C1883.49 1470.85 1886.43 1470.85 1888.7 1470.85Z" fill="#7a97a6"/>
<path d="M1472.21 1470.85C1478.04 1470.97 1495.21 1471.58 1507.17 1471.58C1519.12 1471.58 1531.69 1470.97 1543.96 1470.85C1556.22 1470.72 1568.49 1470.97 1580.75 1470.85C1593.01 1470.72 1608.65 1470.42 1617.54 1470.11C1626.43 1469.8 1629.81 1469.8 1634.1 1469.01C1638.39 1468.21 1639.92 1466.86 1643.3 1465.33C1646.67 1463.79 1650.65 1461.22 1654.33 1459.81C1658.01 1458.4 1661.69 1458.7 1665.37 1456.87C1669.05 1455.03 1672.12 1452.57 1676.41 1448.77C1680.7 1444.97 1686.22 1439.27 1691.13 1434.05C1696.03 1428.84 1701.86 1422.71 1705.84 1417.5C1709.83 1412.29 1712.28 1406.46 1715.04 1402.78C1717.8 1399.1 1719.95 1396.04 1722.4 1395.42C1724.85 1394.81 1727 1396.34 1729.76 1399.1C1732.52 1401.86 1735.58 1407.38 1738.96 1411.98C1742.33 1416.58 1746.31 1421.79 1749.99 1426.7C1753.67 1431.6 1757.35 1436.51 1761.03 1441.41C1764.71 1446.32 1768.39 1452.33 1772.07 1456.13C1775.75 1459.93 1778.2 1462.08 1783.11 1464.22C1788.01 1466.37 1792.3 1467.9 1801.5 1469.01C1810.7 1470.11 1826.03 1470.54 1838.29 1470.85C1850.56 1471.15 1866.68 1470.85 1875.08 1470.85C1883.49 1470.85 1886.43 1470.85 1888.7 1470.85" fill="none" stroke="#000" stroke-width="2.4" stroke-linejoin="round"/>
<path d="M1915.56 1495.86C1915.86 1500.28 1916.48 1513.65 1917.4 1522.35C1918.31 1531.06 1918.93 1540.14 1921.07 1548.11C1923.22 1556.08 1926.9 1562.83 1930.27 1570.18C1933.64 1577.54 1937.02 1584.9 1941.31 1592.26C1945.6 1599.62 1951.73 1606.98 1956.03 1614.33C1960.32 1621.69 1963.38 1630.28 1967.06 1636.41C1970.74 1642.54 1973.93 1646.22 1978.1 1651.13C1982.27 1656.03 1988.89 1661.86 1992.08 1665.84C1995.27 1669.83 1997.11 1671.67 1997.23 1675.04C1997.36 1678.41 1995.39 1682.71 1992.82 1686.08C1990.24 1689.45 1986.07 1691.29 1981.78 1695.28C1977.49 1699.26 1971.97 1705.09 1967.06 1709.99C1962.16 1714.9 1956.95 1719.19 1952.35 1724.71C1947.75 1730.23 1943.15 1736.97 1939.47 1743.11C1935.79 1749.24 1933.03 1754.76 1930.27 1761.5C1927.51 1768.25 1925.06 1775.6 1922.91 1783.58C1920.77 1791.55 1918.74 1800.75 1917.4 1809.33C1916.05 1817.92 1915.43 1823.74 1914.82 1835.08C1914.21 1846.43 1913.9 1870.34 1913.72 1877.4Z" fill="#7a97a6"/>
<path d="M1915.56 1495.86C1915.86 1500.28 1916.48 1513.65 1917.4 1522.35C1918.31 1531.06 1918.93 1540.14 1921.07 1548.11C1923.22 1556.08 1926.9 1562.83 1930.27 1570.18C1933.64 1577.54 1937.02 1584.9 1941.31 1592.26C1945.6 1599.62 1951.73 1606.98 1956.03 1614.33C1960.32 1621.69 1963.38 1630.28 1967.06 1636.41C1970.74 1642.54 1973.93 1646.22 1978.1 1651.13C1982.27 1656.03 1988.89 1661.86 1992.08 1665.84C1995.27 1669.83 1997.11 1671.67 1997.23 1675.04C1997.36 1678.41 1995.39 1682.71 1992.82 1686.08C1990.24 1689.45 1986.07 1691.29 1981.78 1695.28C1977.49 1699.26 1971.97 1705.09 1967.06 1709.99C1962.16 1714.9 1956.95 1719.19 1952.35 1724.71C1947.75 1730.23 1943.15 1736.97 1939.47 1743.11C1935.79 1749.24 1933.03 1754.76 1930.27 1761.5C1927.51 1768.25 1925.06 1775.6 1922.91 1783.58C1920.77 1791.55 1918.74 1800.75 1917.4 1809.33C1916.05 1817.92 1915.43 1823.74 1914.82 1835.08C1914.21 1846.43 1913.9 1870.34 1913.72 1877.4" fill="none" stroke="#000" stroke-width="2.4" stroke-linejoin="round"/>
<text x="1440.5" y="1569.3" font-size="28.3" text-anchor="end" fill="#000">2</text>
<text x="1440.5" y="1691.8" font-size="28.3" text-anchor="end" fill="#000">0</text>
<text x="1440.5" y="1814.3" font-size="28.3" text-anchor="end" fill="#000">−2</text>
<text x="1529.9" y="1929.7" font-size="28.3" text-anchor="middle" fill="#000">−5.0</text>
<text x="1624.3" y="1929.7" font-size="28.3" text-anchor="middle" fill="#000">−2.5</text>
<text x="1718.7" y="1929.7" font-size="28.3" text-anchor="middle" fill="#000">0.0</text>
<text x="1813.1" y="1929.7" font-size="28.3" text-anchor="middle" fill="#000">2.5</text>
<text x="1907.5" y="1929.7" font-size="28.3" text-anchor="middle" fill="#000">5.0</text>
<text x="1673.5" y="1955.8" font-size="23.8" font-weight="bold" text-anchor="middle" fill="#231815">First component of DNAm change</text>
<text transform="translate(1411.5 1670.8) rotate(-90)" font-size="23.8" font-weight="bold" text-anchor="middle" fill="#231815">First component of MRI change</text>
<text x="1377.4" y="1384.7" font-size="58" font-weight="bold" fill="#231815">f</text>
<text transform="translate(1554.99 1380.54) scale(1.1489 1)" font-family="&apos;IPAGothic&apos;, &apos;DejaVu Sans&apos;, sans-serif" font-size="40.84" fill="#231815" stroke="#231815" stroke-width="1.96" stroke-linejoin="miter">&#9651;</text>
<text transform="translate(1602 1382.5) scale(1 1.070)" font-size="33.2" font-weight="bold" fill="#231815">SubCortVol</text>
<text x="1466.7" y="1505" font-size="23.5" font-weight="bold" fill="#231815"><tspan font-style="italic">r</tspan> = 0.41</text>
<text x="1466.7" y="1534.1" font-size="23.5" font-weight="bold" fill="#231815"><tspan font-style="italic">P</tspan><tspan font-style="italic" font-size="18.8" dy="2">perm</tspan><tspan dy="-2"> = 0.004</tspan></text>
<defs>
<radialGradient id="gbrain" cx="0.45" cy="0.4" r="0.65">
<stop offset="0" stop-color="#fafafa"/><stop offset="0.6" stop-color="#efefef"/><stop offset="0.9" stop-color="#d8d8d8"/><stop offset="1" stop-color="#b8b8b8"/></radialGradient>
<radialGradient id="gcc" cx="0.5" cy="0.45" r="0.6">
<stop offset="0" stop-color="#e9e9e9"/><stop offset="0.75" stop-color="#dadada"/><stop offset="1" stop-color="#b9b9b9"/></radialGradient>
<radialGradient id="gshade" cx="0.42" cy="0.3" r="0.75">
<stop offset="0" stop-color="#fff" stop-opacity="0.22"/><stop offset="0.45" stop-color="#fff" stop-opacity="0"/><stop offset="0.8" stop-color="#000" stop-opacity="0.08"/><stop offset="1" stop-color="#000" stop-opacity="0.3"/></radialGradient>
<radialGradient id="gwhite" cx="0.45" cy="0.35" r="0.7">
<stop offset="0" stop-color="#f7f7f7"/><stop offset="0.6" stop-color="#e6e6e6"/><stop offset="1" stop-color="#a9a9a9"/></radialGradient>
<radialGradient id="glblue" cx="0.45" cy="0.35" r="0.7">
<stop offset="0" stop-color="#b4dbef"/><stop offset="0.7" stop-color="#9fcbe3"/><stop offset="1" stop-color="#7fa9c0"/></radialGradient>
<radialGradient id="glblue2" cx="0.45" cy="0.35" r="0.7">
<stop offset="0" stop-color="#d6ebf5"/><stop offset="0.7" stop-color="#c3dfee"/><stop offset="1" stop-color="#97b4c4"/></radialGradient>
<filter id="blur2" x="-20%" y="-20%" width="140%" height="140%"><feGaussianBlur stdDeviation="1.6"/></filter>
<filter id="blur3" x="-20%" y="-20%" width="140%" height="140%"><feGaussianBlur stdDeviation="3"/></filter>
<linearGradient id="cbar" x1="0" y1="0" x2="0" y2="1">
<stop offset="0" stop-color="#67001f"/><stop offset="0.1" stop-color="#b1182b"/><stop offset="0.2" stop-color="#d6604d"/><stop offset="0.3" stop-color="#f3a481"/><stop offset="0.4" stop-color="#fddbc7"/><stop offset="0.5" stop-color="#f7f6f6"/><stop offset="0.6" stop-color="#d1e5f0"/><stop offset="0.7" stop-color="#90c4dd"/><stop offset="0.8" stop-color="#4393c3"/><stop offset="0.9" stop-color="#2065ab"/><stop offset="1" stop-color="#053061"/></linearGradient>
</defs>
<clipPath id="bclip1"><path d="M541.34 2158.04C541.38 2154.01 541.29 2149.2 542.15 2145.36C543.02 2141.51 544.65 2138.63 546.53 2134.98C548.42 2131.32 550.96 2126.9 553.45 2123.44C555.95 2119.98 558.45 2117.1 561.53 2114.22C564.6 2111.33 568.26 2108.64 571.91 2106.14C575.56 2103.64 579.6 2101.14 583.44 2099.22C587.29 2097.3 590.75 2095.95 594.98 2094.61C599.21 2093.26 604.2 2092.11 608.82 2091.15C613.43 2090.19 618.43 2089.61 622.66 2088.84C626.89 2088.07 630.54 2087.11 634.19 2086.53C637.85 2085.96 640.92 2085.67 644.57 2085.38C648.23 2085.09 652.26 2084.42 656.11 2084.8C659.95 2085.19 663.99 2085.86 667.64 2087.69C671.29 2089.51 674.56 2093.45 678.02 2095.76C681.48 2098.07 685.33 2099.22 688.4 2101.53C691.48 2103.84 693.98 2106.72 696.48 2109.6C698.98 2112.49 701.09 2115.95 703.4 2118.83C705.7 2121.71 708.01 2123.44 710.32 2126.9C712.62 2130.36 715.12 2135.94 717.24 2139.59C719.35 2143.24 721.27 2145.74 723 2148.82C724.73 2151.89 726.46 2154.97 727.62 2158.04C728.77 2161.12 729.73 2164.2 729.93 2167.27C730.12 2170.35 729.35 2173.62 728.77 2176.5C728.19 2179.38 728 2182.46 726.46 2184.57C724.93 2186.69 722.62 2188.23 719.54 2189.19C716.47 2190.15 711.47 2189.96 708.01 2190.34C704.55 2190.72 702.05 2191.11 698.78 2191.49C695.52 2191.88 691.67 2191.88 688.4 2192.65C685.13 2193.42 682.64 2194.95 679.18 2196.11C675.72 2197.26 671.49 2198.22 667.64 2199.57C663.8 2200.91 659.95 2202.45 656.11 2204.18C652.26 2205.91 648.42 2208.03 644.57 2209.95C640.73 2211.87 636.88 2213.99 633.04 2215.72C629.19 2217.45 625.35 2219.75 621.51 2220.33C617.66 2220.91 613.62 2220.33 609.97 2219.18C606.32 2218.02 602.47 2215.72 599.59 2213.41C596.71 2211.1 594.4 2207.35 592.67 2205.33C590.94 2203.32 592.09 2201.87 589.21 2201.3C586.33 2200.72 579.6 2202.16 575.37 2201.87C571.14 2201.59 567.49 2200.72 563.84 2199.57C560.18 2198.41 556.15 2196.88 553.45 2194.95C550.76 2193.03 549.23 2190.72 547.69 2188.03C546.15 2185.34 545.19 2181.88 544.23 2178.81C543.27 2175.73 542.4 2173.04 541.92 2169.58C541.44 2166.12 541.31 2162.08 541.34 2158.04Z"/></clipPath>
<filter id="gyri1" x="-5%" y="-5%" width="110%" height="110%" color-interpolation-filters="sRGB"><feTurbulence type="turbulence" baseFrequency="0.034 0.048" numOctaves="1" seed="3" result="t"/><feColorMatrix in="t" type="matrix" values="0 0 0 0 0  0 0 0 0 0  0 0 0 0 0  0 0 0 3 0" result="a"/><feGaussianBlur in="a" stdDeviation="1.4" result="b"/><feDiffuseLighting in="b" surfaceScale="3.3" diffuseConstant="1.2" lighting-color="#ffffff" result="l"><feDistantLight azimuth="225" elevation="55"/></feDiffuseLighting><feComposite in="l" in2="SourceGraphic" operator="in"/></filter>
<path d="M541.34 2158.04C541.38 2154.01 541.29 2149.2 542.15 2145.36C543.02 2141.51 544.65 2138.63 546.53 2134.98C548.42 2131.32 550.96 2126.9 553.45 2123.44C555.95 2119.98 558.45 2117.1 561.53 2114.22C564.6 2111.33 568.26 2108.64 571.91 2106.14C575.56 2103.64 579.6 2101.14 583.44 2099.22C587.29 2097.3 590.75 2095.95 594.98 2094.61C599.21 2093.26 604.2 2092.11 608.82 2091.15C613.43 2090.19 618.43 2089.61 622.66 2088.84C626.89 2088.07 630.54 2087.11 634.19 2086.53C637.85 2085.96 640.92 2085.67 644.57 2085.38C648.23 2085.09 652.26 2084.42 656.11 2084.8C659.95 2085.19 663.99 2085.86 667.64 2087.69C671.29 2089.51 674.56 2093.45 678.02 2095.76C681.48 2098.07 685.33 2099.22 688.4 2101.53C691.48 2103.84 693.98 2106.72 696.48 2109.6C698.98 2112.49 701.09 2115.95 703.4 2118.83C705.7 2121.71 708.01 2123.44 710.32 2126.9C712.62 2130.36 715.12 2135.94 717.24 2139.59C719.35 2143.24 721.27 2145.74 723 2148.82C724.73 2151.89 726.46 2154.97 727.62 2158.04C728.77 2161.12 729.73 2164.2 729.93 2167.27C730.12 2170.35 729.35 2173.62 728.77 2176.5C728.19 2179.38 728 2182.46 726.46 2184.57C724.93 2186.69 722.62 2188.23 719.54 2189.19C716.47 2190.15 711.47 2189.96 708.01 2190.34C704.55 2190.72 702.05 2191.11 698.78 2191.49C695.52 2191.88 691.67 2191.88 688.4 2192.65C685.13 2193.42 682.64 2194.95 679.18 2196.11C675.72 2197.26 671.49 2198.22 667.64 2199.57C663.8 2200.91 659.95 2202.45 656.11 2204.18C652.26 2205.91 648.42 2208.03 644.57 2209.95C640.73 2211.87 636.88 2213.99 633.04 2215.72C629.19 2217.45 625.35 2219.75 621.51 2220.33C617.66 2220.91 613.62 2220.33 609.97 2219.18C606.32 2218.02 602.47 2215.72 599.59 2213.41C596.71 2211.1 594.4 2207.35 592.67 2205.33C590.94 2203.32 592.09 2201.87 589.21 2201.3C586.33 2200.72 579.6 2202.16 575.37 2201.87C571.14 2201.59 567.49 2200.72 563.84 2199.57C560.18 2198.41 556.15 2196.88 553.45 2194.95C550.76 2193.03 549.23 2190.72 547.69 2188.03C546.15 2185.34 545.19 2181.88 544.23 2178.81C543.27 2175.73 542.4 2173.04 541.92 2169.58C541.44 2166.12 541.31 2162.08 541.34 2158.04Z" fill="url(#gbrain)"/>
<g clip-path="url(#bclip1)">
<path d="M545.38 2155.74C545.96 2150.16 545.96 2145.74 547.69 2141.9C549.42 2138.05 552.11 2134.4 555.76 2132.67C559.41 2130.94 566.33 2132.48 569.6 2131.52C572.87 2130.56 573.06 2128.25 575.37 2126.9C577.68 2125.56 581.14 2125.37 583.44 2123.44C585.75 2121.52 586.71 2117.87 589.21 2115.37C591.71 2112.87 595.17 2109.99 598.44 2108.45C601.71 2106.91 605.93 2105.18 608.82 2106.14C611.7 2107.1 615.35 2111.91 615.74 2114.22C616.12 2116.52 612.28 2117.87 611.12 2119.98C609.97 2122.1 609.59 2123.64 608.82 2126.9C608.05 2130.17 606.7 2134.78 606.51 2139.59C606.32 2144.4 607.28 2151.12 607.66 2155.74C608.05 2160.35 610.16 2165.73 608.82 2167.27C607.47 2168.81 602.28 2165.16 599.59 2164.97C596.9 2164.77 594.02 2164.58 592.67 2166.12C591.32 2167.66 590.94 2171.5 591.52 2174.19C592.09 2176.88 595.17 2179.77 596.13 2182.27C597.09 2184.77 597.67 2186.3 597.28 2189.19C596.9 2192.07 596.51 2197.45 593.82 2199.57C591.13 2201.68 586.13 2201.87 581.14 2201.87C576.14 2201.87 568.64 2200.91 563.84 2199.57C559.03 2198.22 555.18 2196.11 552.3 2193.8C549.42 2191.49 547.88 2188.8 546.53 2185.73C545.19 2182.65 544.42 2180.34 544.23 2175.35C544.03 2170.35 544.8 2161.31 545.38 2155.74Z" fill="#e0674f"/>
<path d="M583.44 2123.44C583.25 2120.56 586.71 2117.87 589.21 2115.37C591.71 2112.87 595.17 2109.99 598.44 2108.45C601.71 2106.91 605.93 2105.18 608.82 2106.14C611.7 2107.1 615.35 2111.91 615.74 2114.22C616.12 2116.52 612.28 2117.87 611.12 2119.98C609.97 2122.1 609.59 2123.64 608.82 2126.9C608.05 2130.17 608.05 2137.28 606.51 2139.59C604.97 2141.9 602.28 2141.9 599.59 2140.74C596.9 2139.59 593.05 2135.55 590.36 2132.67C587.67 2129.79 583.64 2126.33 583.44 2123.44Z" fill="#f4a582"/>
<path d="M573.06 2162.66C574.02 2159.78 576.33 2156.51 578.83 2155.74C581.33 2154.97 584.6 2159.2 588.06 2158.04C591.52 2156.89 596.32 2149.2 599.59 2148.82C602.86 2148.43 606.13 2152.66 607.66 2155.74C609.2 2158.81 610.16 2165.54 608.82 2167.27C607.47 2169 602.28 2166.12 599.59 2166.12C596.9 2166.12 594.02 2165.93 592.67 2167.27C591.32 2168.62 590.94 2171.69 591.52 2174.19C592.09 2176.69 595.17 2179.77 596.13 2182.27C597.09 2184.77 597.86 2187.84 597.28 2189.19C596.71 2190.53 594.98 2190.15 592.67 2190.34C590.36 2190.53 586.33 2191.69 583.44 2190.34C580.56 2188.99 577.1 2185.15 575.37 2182.27C573.64 2179.38 573.45 2176.31 573.06 2173.04C572.68 2169.77 572.1 2165.54 573.06 2162.66Z" fill="#c8393b"/>
<path d="M547.69 2188.03C549.61 2186.59 558.26 2185.73 563.84 2185.73C569.41 2185.73 575.56 2187.46 581.14 2188.03C586.71 2188.61 595.17 2187.26 597.28 2189.19C599.4 2191.11 596.51 2197.45 593.82 2199.57C591.13 2201.68 586.13 2201.78 581.14 2201.87C576.14 2201.97 568.64 2201.39 563.84 2200.14C559.03 2198.89 554.99 2196.4 552.3 2194.38C549.61 2192.36 545.77 2189.48 547.69 2188.03Z" fill="#a31c2a"/>
<path d="M563.84 2178.81C564.99 2177.27 569.79 2176.5 573.06 2176.5C576.33 2176.5 580.94 2177.27 583.44 2178.81C585.94 2180.34 588.83 2184.28 588.06 2185.73C587.29 2187.17 582.48 2187.46 578.83 2187.46C575.18 2187.46 568.64 2187.17 566.14 2185.73C563.64 2184.28 562.68 2180.34 563.84 2178.81Z" fill="#f4a582"/>
<path d="M633.04 2161.51C633.62 2160.26 635.92 2159.2 638.81 2158.04C641.69 2156.89 648.23 2154.78 650.34 2154.58C652.45 2154.39 653.03 2155.55 651.49 2156.89C649.96 2158.24 643.8 2161.22 641.11 2162.66C638.42 2164.1 636.69 2165.73 635.35 2165.54C634 2165.35 632.46 2162.75 633.04 2161.51Z" fill="#8ec3e0"/>
<path d="M653.8 2167.27C655.15 2165.35 658.8 2162.27 661.87 2160.35C664.95 2158.43 669.37 2156.51 672.25 2155.74C675.14 2154.97 678.41 2154.97 679.18 2155.74C679.94 2156.51 678.79 2158.43 676.87 2160.35C674.95 2162.27 670.91 2165.16 667.64 2167.27C664.37 2169.39 659.57 2172.27 657.26 2173.04C654.95 2173.81 654.38 2172.85 653.8 2171.89C653.22 2170.92 652.45 2169.19 653.8 2167.27Z" fill="#5a9ecb"/>
</g>
<path d="M541.34 2158.04C541.38 2154.01 541.29 2149.2 542.15 2145.36C543.02 2141.51 544.65 2138.63 546.53 2134.98C548.42 2131.32 550.96 2126.9 553.45 2123.44C555.95 2119.98 558.45 2117.1 561.53 2114.22C564.6 2111.33 568.26 2108.64 571.91 2106.14C575.56 2103.64 579.6 2101.14 583.44 2099.22C587.29 2097.3 590.75 2095.95 594.98 2094.61C599.21 2093.26 604.2 2092.11 608.82 2091.15C613.43 2090.19 618.43 2089.61 622.66 2088.84C626.89 2088.07 630.54 2087.11 634.19 2086.53C637.85 2085.96 640.92 2085.67 644.57 2085.38C648.23 2085.09 652.26 2084.42 656.11 2084.8C659.95 2085.19 663.99 2085.86 667.64 2087.69C671.29 2089.51 674.56 2093.45 678.02 2095.76C681.48 2098.07 685.33 2099.22 688.4 2101.53C691.48 2103.84 693.98 2106.72 696.48 2109.6C698.98 2112.49 701.09 2115.95 703.4 2118.83C705.7 2121.71 708.01 2123.44 710.32 2126.9C712.62 2130.36 715.12 2135.94 717.24 2139.59C719.35 2143.24 721.27 2145.74 723 2148.82C724.73 2151.89 726.46 2154.97 727.62 2158.04C728.77 2161.12 729.73 2164.2 729.93 2167.27C730.12 2170.35 729.35 2173.62 728.77 2176.5C728.19 2179.38 728 2182.46 726.46 2184.57C724.93 2186.69 722.62 2188.23 719.54 2189.19C716.47 2190.15 711.47 2189.96 708.01 2190.34C704.55 2190.72 702.05 2191.11 698.78 2191.49C695.52 2191.88 691.67 2191.88 688.4 2192.65C685.13 2193.42 682.64 2194.95 679.18 2196.11C675.72 2197.26 671.49 2198.22 667.64 2199.57C663.8 2200.91 659.95 2202.45 656.11 2204.18C652.26 2205.91 648.42 2208.03 644.57 2209.95C640.73 2211.87 636.88 2213.99 633.04 2215.72C629.19 2217.45 625.35 2219.75 621.51 2220.33C617.66 2220.91 613.62 2220.33 609.97 2219.18C606.32 2218.02 602.47 2215.72 599.59 2213.41C596.71 2211.1 594.4 2207.35 592.67 2205.33C590.94 2203.32 592.09 2201.87 589.21 2201.3C586.33 2200.72 579.6 2202.16 575.37 2201.87C571.14 2201.59 567.49 2200.72 563.84 2199.57C560.18 2198.41 556.15 2196.88 553.45 2194.95C550.76 2193.03 549.23 2190.72 547.69 2188.03C546.15 2185.34 545.19 2181.88 544.23 2178.81C543.27 2175.73 542.4 2173.04 541.92 2169.58C541.44 2166.12 541.31 2162.08 541.34 2158.04Z" fill="#fff" filter="url(#gyri1)" opacity="0.68" style="mix-blend-mode:multiply"/>
<g clip-path="url(#bclip1)">
<g filter="url(#blur2)" fill="none" stroke="#6e6e6e" stroke-opacity="0.25" stroke-width="4.5" stroke-linecap="round">
<path d="M622.66 2088.84C621.51 2092.3 617.66 2102.68 615.74 2109.6C613.82 2116.52 612.28 2122.67 611.12 2130.36C609.97 2138.05 609.2 2151.51 608.82 2155.74"/>
<path d="M648.03 2087.69C646.5 2092.3 642.27 2106.72 638.81 2115.37C635.35 2124.02 629.19 2135.55 627.27 2139.59"/>
<path d="M671.1 2098.07C669.56 2100.95 664.37 2110.37 661.87 2115.37C659.38 2120.37 657.07 2125.94 656.11 2128.06"/>
<path d="M688.4 2103.84C686.86 2106.72 681.67 2115.95 679.18 2121.14C676.68 2126.33 674.37 2132.67 673.41 2134.98"/>
<path d="M592.67 2167.27C597.48 2165.73 611.89 2161.12 621.51 2158.04C631.12 2154.97 640.73 2151.12 650.34 2148.82C659.95 2146.51 670.52 2145.74 679.18 2144.2C687.83 2142.67 698.4 2140.36 702.24 2139.59"/>
<path d="M599.59 2190.34C604.2 2188.42 617.85 2182.07 627.27 2178.81C636.69 2175.54 646.5 2173.04 656.11 2170.73C665.72 2168.43 676.29 2166.31 684.94 2164.97C693.59 2163.62 704.17 2163.04 708.01 2162.66"/>
<path d="M604.2 2207.64C609.01 2206.3 623.43 2202.45 633.04 2199.57C642.65 2196.68 652.26 2192.65 661.87 2190.34C671.49 2188.03 682.06 2187.07 690.71 2185.73C699.36 2184.38 709.93 2182.84 713.78 2182.27"/>
<path d="M696.48 2121.14C698.4 2124.98 705.13 2136.51 708.01 2144.2C710.89 2151.89 712.82 2163.43 713.78 2167.27"/>
<path d="M679.18 2149.97C681.1 2152.85 687.83 2161.51 690.71 2167.27C693.59 2173.04 695.52 2181.69 696.48 2184.57"/>
<path d="M569.6 2109.6C572.49 2112.49 583.06 2120.17 586.9 2126.9C590.75 2133.63 591.71 2146.13 592.67 2149.97"/>
<path d="M558.07 2132.67C559.99 2135.55 566.72 2143.24 569.6 2149.97C572.49 2156.7 574.41 2169.19 575.37 2173.04"/>
<path d="M604.2 2098.07C605.17 2101.91 609.01 2117.29 609.97 2121.14"/>
<path d="M636.5 2103.84C638.04 2107.68 643.42 2120.17 645.73 2126.9C648.03 2133.63 649.57 2141.32 650.34 2144.2"/>
<path d="M702.24 2155.74C705.13 2156.12 716.66 2157.66 719.54 2158.04"/>
<path d="M661.87 2134.98C662.84 2137.48 667.64 2145.55 667.64 2149.97C667.64 2154.39 662.84 2159.58 661.87 2161.51"/>
</g>
<path d="M541.34 2158.04C541.38 2154.01 541.29 2149.2 542.15 2145.36C543.02 2141.51 544.65 2138.63 546.53 2134.98C548.42 2131.32 550.96 2126.9 553.45 2123.44C555.95 2119.98 558.45 2117.1 561.53 2114.22C564.6 2111.33 568.26 2108.64 571.91 2106.14C575.56 2103.64 579.6 2101.14 583.44 2099.22C587.29 2097.3 590.75 2095.95 594.98 2094.61C599.21 2093.26 604.2 2092.11 608.82 2091.15C613.43 2090.19 618.43 2089.61 622.66 2088.84C626.89 2088.07 630.54 2087.11 634.19 2086.53C637.85 2085.96 640.92 2085.67 644.57 2085.38C648.23 2085.09 652.26 2084.42 656.11 2084.8C659.95 2085.19 663.99 2085.86 667.64 2087.69C671.29 2089.51 674.56 2093.45 678.02 2095.76C681.48 2098.07 685.33 2099.22 688.4 2101.53C691.48 2103.84 693.98 2106.72 696.48 2109.6C698.98 2112.49 701.09 2115.95 703.4 2118.83C705.7 2121.71 708.01 2123.44 710.32 2126.9C712.62 2130.36 715.12 2135.94 717.24 2139.59C719.35 2143.24 721.27 2145.74 723 2148.82C724.73 2151.89 726.46 2154.97 727.62 2158.04C728.77 2161.12 729.73 2164.2 729.93 2167.27C730.12 2170.35 729.35 2173.62 728.77 2176.5C728.19 2179.38 728 2182.46 726.46 2184.57C724.93 2186.69 722.62 2188.23 719.54 2189.19C716.47 2190.15 711.47 2189.96 708.01 2190.34C704.55 2190.72 702.05 2191.11 698.78 2191.49C695.52 2191.88 691.67 2191.88 688.4 2192.65C685.13 2193.42 682.64 2194.95 679.18 2196.11C675.72 2197.26 671.49 2198.22 667.64 2199.57C663.8 2200.91 659.95 2202.45 656.11 2204.18C652.26 2205.91 648.42 2208.03 644.57 2209.95C640.73 2211.87 636.88 2213.99 633.04 2215.72C629.19 2217.45 625.35 2219.75 621.51 2220.33C617.66 2220.91 613.62 2220.33 609.97 2219.18C606.32 2218.02 602.47 2215.72 599.59 2213.41C596.71 2211.1 594.4 2207.35 592.67 2205.33C590.94 2203.32 592.09 2201.87 589.21 2201.3C586.33 2200.72 579.6 2202.16 575.37 2201.87C571.14 2201.59 567.49 2200.72 563.84 2199.57C560.18 2198.41 556.15 2196.88 553.45 2194.95C550.76 2193.03 549.23 2190.72 547.69 2188.03C546.15 2185.34 545.19 2181.88 544.23 2178.81C543.27 2175.73 542.4 2173.04 541.92 2169.58C541.44 2166.12 541.31 2162.08 541.34 2158.04Z" fill="none" stroke="#8a8a8a" stroke-opacity="0.5" stroke-width="7" filter="url(#blur3)"/>
</g>
<path d="M541.34 2158.04C541.38 2154.01 541.29 2149.2 542.15 2145.36C543.02 2141.51 544.65 2138.63 546.53 2134.98C548.42 2131.32 550.96 2126.9 553.45 2123.44C555.95 2119.98 558.45 2117.1 561.53 2114.22C564.6 2111.33 568.26 2108.64 571.91 2106.14C575.56 2103.64 579.6 2101.14 583.44 2099.22C587.29 2097.3 590.75 2095.95 594.98 2094.61C599.21 2093.26 604.2 2092.11 608.82 2091.15C613.43 2090.19 618.43 2089.61 622.66 2088.84C626.89 2088.07 630.54 2087.11 634.19 2086.53C637.85 2085.96 640.92 2085.67 644.57 2085.38C648.23 2085.09 652.26 2084.42 656.11 2084.8C659.95 2085.19 663.99 2085.86 667.64 2087.69C671.29 2089.51 674.56 2093.45 678.02 2095.76C681.48 2098.07 685.33 2099.22 688.4 2101.53C691.48 2103.84 693.98 2106.72 696.48 2109.6C698.98 2112.49 701.09 2115.95 703.4 2118.83C705.7 2121.71 708.01 2123.44 710.32 2126.9C712.62 2130.36 715.12 2135.94 717.24 2139.59C719.35 2143.24 721.27 2145.74 723 2148.82C724.73 2151.89 726.46 2154.97 727.62 2158.04C728.77 2161.12 729.73 2164.2 729.93 2167.27C730.12 2170.35 729.35 2173.62 728.77 2176.5C728.19 2179.38 728 2182.46 726.46 2184.57C724.93 2186.69 722.62 2188.23 719.54 2189.19C716.47 2190.15 711.47 2189.96 708.01 2190.34C704.55 2190.72 702.05 2191.11 698.78 2191.49C695.52 2191.88 691.67 2191.88 688.4 2192.65C685.13 2193.42 682.64 2194.95 679.18 2196.11C675.72 2197.26 671.49 2198.22 667.64 2199.57C663.8 2200.91 659.95 2202.45 656.11 2204.18C652.26 2205.91 648.42 2208.03 644.57 2209.95C640.73 2211.87 636.88 2213.99 633.04 2215.72C629.19 2217.45 625.35 2219.75 621.51 2220.33C617.66 2220.91 613.62 2220.33 609.97 2219.18C606.32 2218.02 602.47 2215.72 599.59 2213.41C596.71 2211.1 594.4 2207.35 592.67 2205.33C590.94 2203.32 592.09 2201.87 589.21 2201.3C586.33 2200.72 579.6 2202.16 575.37 2201.87C571.14 2201.59 567.49 2200.72 563.84 2199.57C560.18 2198.41 556.15 2196.88 553.45 2194.95C550.76 2193.03 549.23 2190.72 547.69 2188.03C546.15 2185.34 545.19 2181.88 544.23 2178.81C543.27 2175.73 542.4 2173.04 541.92 2169.58C541.44 2166.12 541.31 2162.08 541.34 2158.04Z" fill="none" stroke="#9a9a9a" stroke-width="0.8"/>
<clipPath id="bclip2"><path d="M743.29 2173.62C742.92 2169.97 743.47 2165.04 744.38 2160.47C745.3 2155.9 746.76 2150.97 748.77 2146.23C750.78 2141.48 753.7 2136.18 756.44 2131.98C759.18 2127.78 761.92 2125.04 765.2 2121.02C768.49 2117 772.51 2111.53 776.16 2107.87C779.81 2104.22 783.28 2101.85 787.12 2099.11C790.95 2096.37 795.34 2093.45 799.17 2091.44C803.01 2089.43 806.29 2087.97 810.13 2087.05C813.96 2086.14 818.35 2085.96 822.18 2085.96C826.02 2085.96 829.31 2086.32 833.14 2087.05C836.98 2087.78 841.36 2089.43 845.19 2090.34C849.03 2091.25 851.77 2091.07 856.15 2092.53C860.53 2093.99 866.56 2096.73 871.49 2099.11C876.42 2101.48 881.17 2104.04 885.74 2106.78C890.3 2109.52 894.87 2112.44 898.89 2115.54C902.9 2118.65 906.56 2121.94 909.84 2125.41C913.13 2128.88 916.05 2132.35 918.61 2136.36C921.17 2140.38 923.54 2145.13 925.19 2149.51C926.83 2153.9 928.29 2158.28 928.47 2162.66C928.66 2167.04 927.19 2171.79 926.28 2175.81C925.37 2179.83 924.09 2183.85 922.99 2186.77C921.9 2189.69 921.72 2191.52 919.71 2193.34C917.7 2195.17 914.41 2196.63 910.94 2197.73C907.47 2198.82 902.72 2199.19 898.89 2199.92C895.05 2200.65 891.03 2201.93 887.93 2202.11C884.82 2202.29 881.9 2200.1 880.26 2201.01C878.61 2201.93 878.98 2205.4 878.07 2207.59C877.15 2209.78 876.79 2212.34 874.78 2214.16C872.77 2215.99 868.75 2218 866.01 2218.55C863.27 2219.09 861.08 2218.55 858.34 2217.45C855.6 2216.35 852.86 2213.8 849.58 2211.97C846.29 2210.15 842.64 2208.5 838.62 2206.49C834.6 2204.48 830.04 2201.74 825.47 2199.92C820.9 2198.09 816.34 2197 811.23 2195.53C806.11 2194.07 799.72 2192.25 794.79 2191.15C789.86 2190.06 786.2 2189.69 781.64 2188.96C777.07 2188.23 771.96 2187.32 767.39 2186.77C762.83 2186.22 757.71 2186.4 754.25 2185.67C750.78 2184.94 748.4 2184.39 746.57 2182.39C744.75 2180.38 743.65 2177.27 743.29 2173.62Z"/></clipPath>
<filter id="gyri2" x="-5%" y="-5%" width="110%" height="110%" color-interpolation-filters="sRGB"><feTurbulence type="turbulence" baseFrequency="0.034 0.048" numOctaves="1" seed="7" result="t"/><feColorMatrix in="t" type="matrix" values="0 0 0 0 0  0 0 0 0 0  0 0 0 0 0  0 0 0 3 0" result="a"/><feGaussianBlur in="a" stdDeviation="1.4" result="b"/><feDiffuseLighting in="b" surfaceScale="3.3" diffuseConstant="1.2" lighting-color="#ffffff" result="l"><feDistantLight azimuth="225" elevation="55"/></feDiffuseLighting><feComposite in="l" in2="SourceGraphic" operator="in"/></filter>
<path d="M743.29 2173.62C742.92 2169.97 743.47 2165.04 744.38 2160.47C745.3 2155.9 746.76 2150.97 748.77 2146.23C750.78 2141.48 753.7 2136.18 756.44 2131.98C759.18 2127.78 761.92 2125.04 765.2 2121.02C768.49 2117 772.51 2111.53 776.16 2107.87C779.81 2104.22 783.28 2101.85 787.12 2099.11C790.95 2096.37 795.34 2093.45 799.17 2091.44C803.01 2089.43 806.29 2087.97 810.13 2087.05C813.96 2086.14 818.35 2085.96 822.18 2085.96C826.02 2085.96 829.31 2086.32 833.14 2087.05C836.98 2087.78 841.36 2089.43 845.19 2090.34C849.03 2091.25 851.77 2091.07 856.15 2092.53C860.53 2093.99 866.56 2096.73 871.49 2099.11C876.42 2101.48 881.17 2104.04 885.74 2106.78C890.3 2109.52 894.87 2112.44 898.89 2115.54C902.9 2118.65 906.56 2121.94 909.84 2125.41C913.13 2128.88 916.05 2132.35 918.61 2136.36C921.17 2140.38 923.54 2145.13 925.19 2149.51C926.83 2153.9 928.29 2158.28 928.47 2162.66C928.66 2167.04 927.19 2171.79 926.28 2175.81C925.37 2179.83 924.09 2183.85 922.99 2186.77C921.9 2189.69 921.72 2191.52 919.71 2193.34C917.7 2195.17 914.41 2196.63 910.94 2197.73C907.47 2198.82 902.72 2199.19 898.89 2199.92C895.05 2200.65 891.03 2201.93 887.93 2202.11C884.82 2202.29 881.9 2200.1 880.26 2201.01C878.61 2201.93 878.98 2205.4 878.07 2207.59C877.15 2209.78 876.79 2212.34 874.78 2214.16C872.77 2215.99 868.75 2218 866.01 2218.55C863.27 2219.09 861.08 2218.55 858.34 2217.45C855.6 2216.35 852.86 2213.8 849.58 2211.97C846.29 2210.15 842.64 2208.5 838.62 2206.49C834.6 2204.48 830.04 2201.74 825.47 2199.92C820.9 2198.09 816.34 2197 811.23 2195.53C806.11 2194.07 799.72 2192.25 794.79 2191.15C789.86 2190.06 786.2 2189.69 781.64 2188.96C777.07 2188.23 771.96 2187.32 767.39 2186.77C762.83 2186.22 757.71 2186.4 754.25 2185.67C750.78 2184.94 748.4 2184.39 746.57 2182.39C744.75 2180.38 743.65 2177.27 743.29 2173.62Z" fill="url(#gbrain)"/>
<g clip-path="url(#bclip2)">
<path d="M814.51 2124.31C814.88 2123.03 814.88 2121.2 818.9 2121.02C822.91 2120.84 832.59 2122.48 838.62 2123.21C844.65 2123.94 851.04 2124.49 855.06 2125.41C859.07 2126.32 861.27 2127.14 862.73 2128.69C864.19 2130.25 866.01 2133.44 863.82 2134.72C861.63 2136 854.69 2136.09 849.58 2136.36C844.46 2136.64 837.89 2136.18 833.14 2136.36C828.39 2136.55 823.46 2137.82 821.09 2137.46C818.71 2137.09 819.63 2135.63 818.9 2134.17C818.16 2132.71 817.43 2130.34 816.7 2128.69C815.97 2127.05 814.15 2125.59 814.51 2124.31Z" fill="#df6b51"/>
<path d="M891.22 2151.7C891.58 2149.51 894.14 2148.42 895.6 2149.51C897.06 2150.61 898.89 2154.99 899.98 2158.28C901.08 2161.57 900.35 2167.04 902.17 2169.24C904 2171.43 907.47 2170.88 910.94 2171.43C914.41 2171.98 920.8 2171.06 922.99 2172.52C925.19 2173.98 924.45 2177.09 924.09 2180.19C923.72 2183.3 922.99 2188.23 920.8 2191.15C918.61 2194.07 915.14 2196.08 910.94 2197.73C906.74 2199.37 900.35 2200.65 895.6 2201.01C890.85 2201.38 886.1 2201.2 882.45 2199.92C878.8 2198.64 876.24 2195.17 873.68 2193.34C871.13 2191.52 867.11 2190.6 867.11 2188.96C867.11 2187.32 871.31 2185.67 873.68 2183.48C876.06 2181.29 878.43 2177.82 881.35 2175.81C884.28 2173.8 889.21 2173.62 891.22 2171.43C893.23 2169.24 893.41 2165.95 893.41 2162.66C893.41 2159.37 890.85 2153.9 891.22 2151.7Z" fill="#d7553f"/>
<path d="M891.22 2151.7C891.58 2149.15 894.14 2148.42 895.6 2149.51C897.06 2150.61 898.7 2154.81 899.98 2158.28C901.26 2161.75 904.37 2166.86 903.27 2170.33C902.17 2173.8 896.88 2176.91 893.41 2179.1C889.94 2181.29 885.19 2183.3 882.45 2183.48C879.71 2183.66 876.42 2181.84 876.97 2180.19C877.52 2178.55 883 2176.18 885.74 2173.62C888.48 2171.06 892.49 2168.51 893.41 2164.85C894.32 2161.2 890.85 2154.26 891.22 2151.7Z" fill="#e16f55"/>
<path d="M748.77 2180.19C748.77 2178.55 750.59 2175.99 753.15 2173.62C755.71 2171.25 760.27 2167.59 764.11 2165.95C767.94 2164.31 771.96 2163.94 776.16 2163.76C780.36 2163.57 785.11 2163.39 789.31 2164.85C793.51 2166.31 798.08 2170.33 801.36 2172.52C804.65 2174.72 809.03 2176.72 809.03 2178C809.03 2179.28 804.1 2179.28 801.36 2180.19C798.62 2181.11 796.43 2182.93 792.6 2183.48C788.76 2184.03 783.47 2183.48 778.35 2183.48C773.24 2183.48 766.12 2183.48 761.92 2183.48C757.71 2183.48 755.34 2184.03 753.15 2183.48C750.96 2182.93 748.77 2181.84 748.77 2180.19Z" fill="#6fb0d6"/>
<path d="M836.43 2194.44C837.52 2193.34 839.72 2194.26 841.91 2195.53C844.1 2196.81 846.47 2200.47 849.58 2202.11C852.68 2203.75 858.53 2203.57 860.53 2205.4C862.54 2207.22 861.81 2210.88 861.63 2213.07C861.45 2215.26 860.72 2217.82 859.44 2218.55C858.16 2219.28 856.33 2218.73 853.96 2217.45C851.59 2216.17 848.12 2212.34 845.19 2210.88C842.27 2209.41 838.07 2210.15 836.43 2208.68C834.78 2207.22 835.33 2204.48 835.33 2202.11C835.33 2199.74 835.33 2195.53 836.43 2194.44Z" fill="#1c64a6"/>
</g>
<path d="M743.29 2173.62C742.92 2169.97 743.47 2165.04 744.38 2160.47C745.3 2155.9 746.76 2150.97 748.77 2146.23C750.78 2141.48 753.7 2136.18 756.44 2131.98C759.18 2127.78 761.92 2125.04 765.2 2121.02C768.49 2117 772.51 2111.53 776.16 2107.87C779.81 2104.22 783.28 2101.85 787.12 2099.11C790.95 2096.37 795.34 2093.45 799.17 2091.44C803.01 2089.43 806.29 2087.97 810.13 2087.05C813.96 2086.14 818.35 2085.96 822.18 2085.96C826.02 2085.96 829.31 2086.32 833.14 2087.05C836.98 2087.78 841.36 2089.43 845.19 2090.34C849.03 2091.25 851.77 2091.07 856.15 2092.53C860.53 2093.99 866.56 2096.73 871.49 2099.11C876.42 2101.48 881.17 2104.04 885.74 2106.78C890.3 2109.52 894.87 2112.44 898.89 2115.54C902.9 2118.65 906.56 2121.94 909.84 2125.41C913.13 2128.88 916.05 2132.35 918.61 2136.36C921.17 2140.38 923.54 2145.13 925.19 2149.51C926.83 2153.9 928.29 2158.28 928.47 2162.66C928.66 2167.04 927.19 2171.79 926.28 2175.81C925.37 2179.83 924.09 2183.85 922.99 2186.77C921.9 2189.69 921.72 2191.52 919.71 2193.34C917.7 2195.17 914.41 2196.63 910.94 2197.73C907.47 2198.82 902.72 2199.19 898.89 2199.92C895.05 2200.65 891.03 2201.93 887.93 2202.11C884.82 2202.29 881.9 2200.1 880.26 2201.01C878.61 2201.93 878.98 2205.4 878.07 2207.59C877.15 2209.78 876.79 2212.34 874.78 2214.16C872.77 2215.99 868.75 2218 866.01 2218.55C863.27 2219.09 861.08 2218.55 858.34 2217.45C855.6 2216.35 852.86 2213.8 849.58 2211.97C846.29 2210.15 842.64 2208.5 838.62 2206.49C834.6 2204.48 830.04 2201.74 825.47 2199.92C820.9 2198.09 816.34 2197 811.23 2195.53C806.11 2194.07 799.72 2192.25 794.79 2191.15C789.86 2190.06 786.2 2189.69 781.64 2188.96C777.07 2188.23 771.96 2187.32 767.39 2186.77C762.83 2186.22 757.71 2186.4 754.25 2185.67C750.78 2184.94 748.4 2184.39 746.57 2182.39C744.75 2180.38 743.65 2177.27 743.29 2173.62Z" fill="#fff" filter="url(#gyri2)" opacity="0.68" style="mix-blend-mode:multiply"/>
<g clip-path="url(#bclip2)">
<g filter="url(#blur2)" fill="none" stroke="#6e6e6e" stroke-opacity="0.25" stroke-width="4.5" stroke-linecap="round">
<path d="M816.7 2121.02C820.36 2120.66 831.31 2118.83 838.62 2118.83C845.92 2118.83 853.23 2119.56 860.53 2121.02C867.84 2122.48 876.06 2124.31 882.45 2127.6C888.84 2130.88 895.23 2135.82 898.89 2140.75C902.54 2145.68 903.82 2152.07 904.37 2157.18C904.91 2162.3 902.54 2169.05 902.17 2171.43"/>
<path d="M807.94 2140.75C811.23 2140.02 820.72 2137.09 827.66 2136.36C834.6 2135.63 842.27 2135.63 849.58 2136.36C856.88 2137.09 865.1 2138.19 871.49 2140.75C877.88 2143.3 884.64 2148.05 887.93 2151.7C891.22 2155.36 890.67 2160.84 891.22 2162.66"/>
<path d="M794.79 2094.72C793.88 2098.74 789.67 2111.16 789.31 2118.83C788.94 2126.5 792.05 2137.09 792.6 2140.75"/>
<path d="M750.96 2168.14C754.61 2167.59 765.57 2164.85 772.87 2164.85C780.18 2164.85 788.4 2165.77 794.79 2168.14C801.18 2170.51 808.49 2177.27 811.23 2179.1"/>
<path d="M810.13 2087.05C809.4 2090.52 806.11 2101.66 805.75 2107.87C805.38 2114.08 807.57 2121.57 807.94 2124.31"/>
<path d="M833.14 2088.15C832.59 2091.44 830.4 2104.59 829.85 2107.87"/>
<path d="M855.06 2093.63C854.14 2096.92 850.49 2110.06 849.58 2113.35"/>
<path d="M794.79 2190.06C798.44 2190.97 809.4 2193.16 816.7 2195.53C824.01 2197.91 834.97 2202.84 838.62 2204.3"/>
<path d="M767.39 2124.31C768.31 2127.96 771.05 2140.2 772.87 2146.23C774.7 2152.25 777.44 2158.1 778.35 2160.47"/>
<path d="M876.97 2102.39C877.88 2104.22 881.54 2111.53 882.45 2113.35"/>
<path d="M909.84 2129.79C910.76 2133.44 914.41 2145.31 915.32 2151.7C916.24 2158.1 915.32 2165.4 915.32 2168.14"/>
<path d="M811.23 2162.66C813.96 2165.4 821.27 2175.45 827.66 2179.1C834.05 2182.75 842.27 2184.03 849.58 2184.58C856.88 2185.12 867.84 2182.75 871.49 2182.39"/>
</g>
<path d="M807.94 2145.13C809.58 2142.76 812.5 2141.11 816.7 2139.65C820.9 2138.19 827.66 2136.91 833.14 2136.36C838.62 2135.82 844.1 2136 849.58 2136.36C855.06 2136.73 860.53 2137.09 866.01 2138.55C871.49 2140.02 878.25 2142.57 882.45 2145.13C886.65 2147.69 889.39 2150.61 891.22 2153.9C893.04 2157.18 894.32 2161.57 893.41 2164.85C892.49 2168.14 888.48 2171.06 885.74 2173.62C883 2176.18 880.26 2178.37 876.97 2180.19C873.68 2182.02 870.58 2183.66 866.01 2184.58C861.45 2185.49 854.51 2186.04 849.58 2185.67C844.65 2185.31 839.72 2184.39 836.43 2182.39C833.14 2180.38 832.04 2176.54 829.85 2173.62C827.66 2170.7 826.2 2166.86 823.28 2164.85C820.36 2162.84 815.06 2163.39 812.32 2161.57C809.58 2159.74 807.57 2156.63 806.84 2153.9C806.11 2151.16 806.29 2147.5 807.94 2145.13Z" fill="url(#gcc)"/>
<path d="M807.94 2145.13C809.58 2142.76 812.5 2141.11 816.7 2139.65C820.9 2138.19 827.66 2136.91 833.14 2136.36C838.62 2135.82 844.1 2136 849.58 2136.36C855.06 2136.73 860.53 2137.09 866.01 2138.55C871.49 2140.02 878.25 2142.57 882.45 2145.13C886.65 2147.69 889.39 2150.61 891.22 2153.9C893.04 2157.18 894.32 2161.57 893.41 2164.85C892.49 2168.14 888.48 2171.06 885.74 2173.62C883 2176.18 880.26 2178.37 876.97 2180.19C873.68 2182.02 870.58 2183.66 866.01 2184.58C861.45 2185.49 854.51 2186.04 849.58 2185.67C844.65 2185.31 839.72 2184.39 836.43 2182.39C833.14 2180.38 832.04 2176.54 829.85 2173.62C827.66 2170.7 826.2 2166.86 823.28 2164.85C820.36 2162.84 815.06 2163.39 812.32 2161.57C809.58 2159.74 807.57 2156.63 806.84 2153.9C806.11 2151.16 806.29 2147.5 807.94 2145.13Z" fill="none" stroke="#777" stroke-opacity="0.45" stroke-width="3" filter="url(#blur2)"/>
<path d="M816.7 2169.24C817.07 2166.68 815.61 2157.37 818.9 2153.9C822.18 2150.43 829.85 2149.33 836.43 2148.42C843 2147.5 851.59 2147.32 858.34 2148.42C865.1 2149.51 872.59 2151.89 876.97 2154.99C881.35 2158.1 883.36 2165.04 884.64 2167.04" fill="none" stroke="#8a8a8a" stroke-opacity="0.6" stroke-width="3.5" stroke-linecap="round" filter="url(#blur2)"/>
<path d="M816.7 2169.24C817.07 2166.68 815.61 2157.37 818.9 2153.9C822.18 2150.43 829.85 2149.33 836.43 2148.42C843 2147.5 851.59 2147.32 858.34 2148.42C865.1 2149.51 872.59 2151.89 876.97 2154.99C881.35 2158.1 883.36 2165.04 884.64 2167.04" fill="none" stroke="#fafafa" stroke-opacity="0.8" stroke-width="3" stroke-linecap="round" filter="url(#blur2)" transform="translate(-1.5 -2)"/>
<path d="M743.29 2173.62C742.92 2169.97 743.47 2165.04 744.38 2160.47C745.3 2155.9 746.76 2150.97 748.77 2146.23C750.78 2141.48 753.7 2136.18 756.44 2131.98C759.18 2127.78 761.92 2125.04 765.2 2121.02C768.49 2117 772.51 2111.53 776.16 2107.87C779.81 2104.22 783.28 2101.85 787.12 2099.11C790.95 2096.37 795.34 2093.45 799.17 2091.44C803.01 2089.43 806.29 2087.97 810.13 2087.05C813.96 2086.14 818.35 2085.96 822.18 2085.96C826.02 2085.96 829.31 2086.32 833.14 2087.05C836.98 2087.78 841.36 2089.43 845.19 2090.34C849.03 2091.25 851.77 2091.07 856.15 2092.53C860.53 2093.99 866.56 2096.73 871.49 2099.11C876.42 2101.48 881.17 2104.04 885.74 2106.78C890.3 2109.52 894.87 2112.44 898.89 2115.54C902.9 2118.65 906.56 2121.94 909.84 2125.41C913.13 2128.88 916.05 2132.35 918.61 2136.36C921.17 2140.38 923.54 2145.13 925.19 2149.51C926.83 2153.9 928.29 2158.28 928.47 2162.66C928.66 2167.04 927.19 2171.79 926.28 2175.81C925.37 2179.83 924.09 2183.85 922.99 2186.77C921.9 2189.69 921.72 2191.52 919.71 2193.34C917.7 2195.17 914.41 2196.63 910.94 2197.73C907.47 2198.82 902.72 2199.19 898.89 2199.92C895.05 2200.65 891.03 2201.93 887.93 2202.11C884.82 2202.29 881.9 2200.1 880.26 2201.01C878.61 2201.93 878.98 2205.4 878.07 2207.59C877.15 2209.78 876.79 2212.34 874.78 2214.16C872.77 2215.99 868.75 2218 866.01 2218.55C863.27 2219.09 861.08 2218.55 858.34 2217.45C855.6 2216.35 852.86 2213.8 849.58 2211.97C846.29 2210.15 842.64 2208.5 838.62 2206.49C834.6 2204.48 830.04 2201.74 825.47 2199.92C820.9 2198.09 816.34 2197 811.23 2195.53C806.11 2194.07 799.72 2192.25 794.79 2191.15C789.86 2190.06 786.2 2189.69 781.64 2188.96C777.07 2188.23 771.96 2187.32 767.39 2186.77C762.83 2186.22 757.71 2186.4 754.25 2185.67C750.78 2184.94 748.4 2184.39 746.57 2182.39C744.75 2180.38 743.65 2177.27 743.29 2173.62Z" fill="none" stroke="#8a8a8a" stroke-opacity="0.5" stroke-width="7" filter="url(#blur3)"/>
</g>
<path d="M743.29 2173.62C742.92 2169.97 743.47 2165.04 744.38 2160.47C745.3 2155.9 746.76 2150.97 748.77 2146.23C750.78 2141.48 753.7 2136.18 756.44 2131.98C759.18 2127.78 761.92 2125.04 765.2 2121.02C768.49 2117 772.51 2111.53 776.16 2107.87C779.81 2104.22 783.28 2101.85 787.12 2099.11C790.95 2096.37 795.34 2093.45 799.17 2091.44C803.01 2089.43 806.29 2087.97 810.13 2087.05C813.96 2086.14 818.35 2085.96 822.18 2085.96C826.02 2085.96 829.31 2086.32 833.14 2087.05C836.98 2087.78 841.36 2089.43 845.19 2090.34C849.03 2091.25 851.77 2091.07 856.15 2092.53C860.53 2093.99 866.56 2096.73 871.49 2099.11C876.42 2101.48 881.17 2104.04 885.74 2106.78C890.3 2109.52 894.87 2112.44 898.89 2115.54C902.9 2118.65 906.56 2121.94 909.84 2125.41C913.13 2128.88 916.05 2132.35 918.61 2136.36C921.17 2140.38 923.54 2145.13 925.19 2149.51C926.83 2153.9 928.29 2158.28 928.47 2162.66C928.66 2167.04 927.19 2171.79 926.28 2175.81C925.37 2179.83 924.09 2183.85 922.99 2186.77C921.9 2189.69 921.72 2191.52 919.71 2193.34C917.7 2195.17 914.41 2196.63 910.94 2197.73C907.47 2198.82 902.72 2199.19 898.89 2199.92C895.05 2200.65 891.03 2201.93 887.93 2202.11C884.82 2202.29 881.9 2200.1 880.26 2201.01C878.61 2201.93 878.98 2205.4 878.07 2207.59C877.15 2209.78 876.79 2212.34 874.78 2214.16C872.77 2215.99 868.75 2218 866.01 2218.55C863.27 2219.09 861.08 2218.55 858.34 2217.45C855.6 2216.35 852.86 2213.8 849.58 2211.97C846.29 2210.15 842.64 2208.5 838.62 2206.49C834.6 2204.48 830.04 2201.74 825.47 2199.92C820.9 2198.09 816.34 2197 811.23 2195.53C806.11 2194.07 799.72 2192.25 794.79 2191.15C789.86 2190.06 786.2 2189.69 781.64 2188.96C777.07 2188.23 771.96 2187.32 767.39 2186.77C762.83 2186.22 757.71 2186.4 754.25 2185.67C750.78 2184.94 748.4 2184.39 746.57 2182.39C744.75 2180.38 743.65 2177.27 743.29 2173.62Z" fill="none" stroke="#9a9a9a" stroke-width="0.8"/>
<clipPath id="bclip3"><path d="M942.5 2173.97C942.12 2170.22 942.69 2165.34 943.62 2160.47C944.56 2155.6 946.25 2149.97 948.12 2144.73C950 2139.48 952.06 2133.67 954.87 2128.98C957.68 2124.3 961.43 2120.17 964.99 2116.61C968.55 2113.05 972.11 2110.24 976.24 2107.61C980.36 2104.99 984.86 2102.93 989.73 2100.87C994.61 2098.8 1000.23 2096.55 1005.48 2095.24C1010.72 2093.93 1016.35 2094.12 1021.22 2092.99C1026.09 2091.87 1030.59 2089.62 1034.72 2088.5C1038.84 2087.37 1041.65 2086.81 1045.96 2086.25C1050.27 2085.68 1057.02 2084.56 1060.58 2085.12C1064.14 2085.68 1064.89 2087.56 1067.33 2089.62C1069.77 2091.68 1072.58 2095.99 1075.2 2097.49C1077.83 2098.99 1080.83 2097.49 1083.07 2098.62C1085.32 2099.74 1086.26 2101.8 1088.7 2104.24C1091.13 2106.68 1094.7 2110.24 1097.69 2113.24C1100.69 2116.24 1104.07 2119.61 1106.69 2122.23C1109.32 2124.86 1111.19 2125.98 1113.44 2128.98C1115.69 2131.98 1117.94 2136.48 1120.19 2140.23C1122.44 2143.98 1125.43 2147.35 1126.93 2151.47C1128.43 2155.6 1129 2160.84 1129.18 2164.97C1129.37 2169.09 1129 2172.84 1128.06 2176.21C1127.12 2179.59 1126 2183.34 1123.56 2185.21C1121.12 2187.09 1117.19 2186.9 1113.44 2187.46C1109.69 2188.02 1105 2188.02 1101.07 2188.59C1097.13 2189.15 1094.51 2189.9 1089.82 2190.83C1085.14 2191.77 1078.39 2192.71 1072.95 2194.21C1067.52 2195.71 1061.89 2197.58 1057.21 2199.83C1052.52 2202.08 1048.77 2205.08 1044.84 2207.7C1040.9 2210.33 1037.34 2213.51 1033.59 2215.58C1029.84 2217.64 1026.09 2219.14 1022.35 2220.07C1018.6 2221.01 1014.66 2221.57 1011.1 2221.2C1007.54 2220.82 1003.79 2219.7 1000.98 2217.83C998.17 2215.95 995.54 2212.58 994.23 2209.95C992.92 2207.33 994.98 2203.21 993.11 2202.08C991.23 2200.96 986.92 2203.39 982.98 2203.21C979.05 2203.02 973.61 2202.08 969.49 2200.96C965.37 2199.83 961.43 2198.14 958.24 2196.46C955.06 2194.77 952.43 2193.08 950.37 2190.83C948.31 2188.59 947.18 2185.77 945.87 2182.96C944.56 2180.15 942.87 2177.71 942.5 2173.97Z"/></clipPath>
<filter id="gyri3" x="-5%" y="-5%" width="110%" height="110%" color-interpolation-filters="sRGB"><feTurbulence type="turbulence" baseFrequency="0.034 0.048" numOctaves="1" seed="11" result="t"/><feColorMatrix in="t" type="matrix" values="0 0 0 0 0  0 0 0 0 0  0 0 0 0 0  0 0 0 3 0" result="a"/><feGaussianBlur in="a" stdDeviation="1.4" result="b"/><feDiffuseLighting in="b" surfaceScale="3.3" diffuseConstant="1.2" lighting-color="#ffffff" result="l"><feDistantLight azimuth="225" elevation="55"/></feDiffuseLighting><feComposite in="l" in2="SourceGraphic" operator="in"/></filter>
<path d="M942.5 2173.97C942.12 2170.22 942.69 2165.34 943.62 2160.47C944.56 2155.6 946.25 2149.97 948.12 2144.73C950 2139.48 952.06 2133.67 954.87 2128.98C957.68 2124.3 961.43 2120.17 964.99 2116.61C968.55 2113.05 972.11 2110.24 976.24 2107.61C980.36 2104.99 984.86 2102.93 989.73 2100.87C994.61 2098.8 1000.23 2096.55 1005.48 2095.24C1010.72 2093.93 1016.35 2094.12 1021.22 2092.99C1026.09 2091.87 1030.59 2089.62 1034.72 2088.5C1038.84 2087.37 1041.65 2086.81 1045.96 2086.25C1050.27 2085.68 1057.02 2084.56 1060.58 2085.12C1064.14 2085.68 1064.89 2087.56 1067.33 2089.62C1069.77 2091.68 1072.58 2095.99 1075.2 2097.49C1077.83 2098.99 1080.83 2097.49 1083.07 2098.62C1085.32 2099.74 1086.26 2101.8 1088.7 2104.24C1091.13 2106.68 1094.7 2110.24 1097.69 2113.24C1100.69 2116.24 1104.07 2119.61 1106.69 2122.23C1109.32 2124.86 1111.19 2125.98 1113.44 2128.98C1115.69 2131.98 1117.94 2136.48 1120.19 2140.23C1122.44 2143.98 1125.43 2147.35 1126.93 2151.47C1128.43 2155.6 1129 2160.84 1129.18 2164.97C1129.37 2169.09 1129 2172.84 1128.06 2176.21C1127.12 2179.59 1126 2183.34 1123.56 2185.21C1121.12 2187.09 1117.19 2186.9 1113.44 2187.46C1109.69 2188.02 1105 2188.02 1101.07 2188.59C1097.13 2189.15 1094.51 2189.9 1089.82 2190.83C1085.14 2191.77 1078.39 2192.71 1072.95 2194.21C1067.52 2195.71 1061.89 2197.58 1057.21 2199.83C1052.52 2202.08 1048.77 2205.08 1044.84 2207.7C1040.9 2210.33 1037.34 2213.51 1033.59 2215.58C1029.84 2217.64 1026.09 2219.14 1022.35 2220.07C1018.6 2221.01 1014.66 2221.57 1011.1 2221.2C1007.54 2220.82 1003.79 2219.7 1000.98 2217.83C998.17 2215.95 995.54 2212.58 994.23 2209.95C992.92 2207.33 994.98 2203.21 993.11 2202.08C991.23 2200.96 986.92 2203.39 982.98 2203.21C979.05 2203.02 973.61 2202.08 969.49 2200.96C965.37 2199.83 961.43 2198.14 958.24 2196.46C955.06 2194.77 952.43 2193.08 950.37 2190.83C948.31 2188.59 947.18 2185.77 945.87 2182.96C944.56 2180.15 942.87 2177.71 942.5 2173.97Z" fill="url(#gbrain)"/>
<g clip-path="url(#bclip3)">
<path d="M947 2171.72C948.31 2169.28 951.68 2169.65 954.87 2169.47C958.06 2169.28 962.74 2169.47 966.12 2170.59C969.49 2171.72 971.93 2174.34 975.11 2176.21C978.3 2178.09 981.67 2180.71 985.23 2181.84C988.79 2182.96 992.92 2181.84 996.48 2182.96C1000.04 2184.09 1004.73 2187.09 1006.6 2188.59C1008.48 2190.08 1008.66 2190.46 1007.73 2191.96C1006.79 2193.46 1004.16 2196.27 1000.98 2197.58C997.79 2198.89 993.48 2199.27 988.61 2199.83C983.73 2200.39 976.8 2201.33 971.74 2200.96C966.68 2200.58 961.62 2198.89 958.24 2197.58C954.87 2196.27 953.37 2195.33 951.5 2193.08C949.62 2190.83 947.75 2187.65 947 2184.09C946.25 2180.53 945.68 2174.15 947 2171.72Z" fill="#d8594a"/>
<path d="M942.5 2172.84C943.15 2171.72 944.94 2170.4 947 2171.72C949.06 2173.03 953.74 2178.09 954.87 2180.71C955.99 2183.34 954.49 2185.59 953.74 2187.46C952.99 2189.33 951.68 2192.33 950.37 2191.96C949.06 2191.58 947.09 2187.46 945.87 2185.21C944.65 2182.96 943.62 2180.53 943.06 2178.46C942.5 2176.4 941.84 2173.97 942.5 2172.84Z" fill="#5aa0c8"/>
<path d="M1048.21 2133.48C1049.62 2132.64 1053.27 2131.04 1056.08 2131.23C1058.9 2131.42 1062.27 2132.73 1065.08 2134.6C1067.89 2136.48 1071.08 2139.29 1072.95 2142.48C1074.83 2145.66 1075.2 2151.1 1076.33 2153.72C1077.45 2156.35 1079.51 2156.35 1079.7 2158.22C1079.89 2160.1 1078.95 2162.72 1077.45 2164.97C1075.95 2167.22 1073.33 2170.22 1070.7 2171.72C1068.08 2173.22 1063.77 2173.97 1061.71 2173.97C1059.64 2173.97 1057.77 2172.84 1058.33 2171.72C1058.9 2170.59 1063.39 2169.09 1065.08 2167.22C1066.77 2165.34 1068.27 2162.72 1068.45 2160.47C1068.64 2158.22 1066.95 2155.97 1066.21 2153.72C1065.46 2151.47 1065.46 2149.04 1063.96 2146.97C1062.46 2144.91 1059.46 2142.66 1057.21 2141.35C1054.96 2140.04 1052.05 2139.95 1050.46 2139.1C1048.87 2138.26 1048.02 2137.23 1047.65 2136.29C1047.27 2135.35 1046.81 2134.32 1048.21 2133.48Z" fill="#6aaed3"/>
<path d="M1062.83 2178.46C1063.58 2176.59 1065.83 2173.97 1068.45 2171.72C1071.08 2169.47 1075.01 2166.84 1078.58 2164.97C1082.14 2163.09 1086.07 2160.84 1089.82 2160.47C1093.57 2160.1 1097.88 2161.59 1101.07 2162.72C1104.25 2163.84 1106.5 2165.91 1108.94 2167.22C1111.38 2168.53 1113.44 2168.34 1115.69 2170.59C1117.94 2172.84 1122.06 2178.28 1122.44 2180.71C1122.81 2183.15 1120.19 2184.27 1117.94 2185.21C1115.69 2186.15 1111.94 2186.34 1108.94 2186.34C1105.94 2186.34 1104.07 2185.96 1099.94 2185.21C1095.82 2184.46 1089.07 2182.21 1084.2 2181.84C1079.33 2181.46 1074.08 2182.77 1070.7 2182.96C1067.33 2183.15 1065.27 2183.71 1063.96 2182.96C1062.64 2182.21 1062.08 2180.34 1062.83 2178.46Z" fill="#d9765a"/>
<path d="M1093.2 2164.97C1092.63 2162.91 1098.44 2163.47 1101.07 2163.84C1103.69 2164.22 1106.5 2166.09 1108.94 2167.22C1111.38 2168.34 1113.44 2168.34 1115.69 2170.59C1117.94 2172.84 1122.06 2178.28 1122.44 2180.71C1122.81 2183.15 1120.19 2184.37 1117.94 2185.21C1115.69 2186.05 1111.19 2187.27 1108.94 2185.77C1106.69 2184.27 1107.07 2179.68 1104.44 2176.21C1101.82 2172.75 1093.76 2167.03 1093.2 2164.97Z" fill="#ed9a78"/>
<path d="M1049.34 2088.5C1049.34 2087.46 1051.96 2086.15 1053.83 2085.68C1055.71 2085.22 1059.64 2085.03 1060.58 2085.68C1061.52 2086.34 1060.58 2088.59 1059.46 2089.62C1058.33 2090.65 1055.52 2092.06 1053.83 2091.87C1052.15 2091.68 1049.34 2089.53 1049.34 2088.5Z" fill="#e08a66"/>
</g>
<path d="M942.5 2173.97C942.12 2170.22 942.69 2165.34 943.62 2160.47C944.56 2155.6 946.25 2149.97 948.12 2144.73C950 2139.48 952.06 2133.67 954.87 2128.98C957.68 2124.3 961.43 2120.17 964.99 2116.61C968.55 2113.05 972.11 2110.24 976.24 2107.61C980.36 2104.99 984.86 2102.93 989.73 2100.87C994.61 2098.8 1000.23 2096.55 1005.48 2095.24C1010.72 2093.93 1016.35 2094.12 1021.22 2092.99C1026.09 2091.87 1030.59 2089.62 1034.72 2088.5C1038.84 2087.37 1041.65 2086.81 1045.96 2086.25C1050.27 2085.68 1057.02 2084.56 1060.58 2085.12C1064.14 2085.68 1064.89 2087.56 1067.33 2089.62C1069.77 2091.68 1072.58 2095.99 1075.2 2097.49C1077.83 2098.99 1080.83 2097.49 1083.07 2098.62C1085.32 2099.74 1086.26 2101.8 1088.7 2104.24C1091.13 2106.68 1094.7 2110.24 1097.69 2113.24C1100.69 2116.24 1104.07 2119.61 1106.69 2122.23C1109.32 2124.86 1111.19 2125.98 1113.44 2128.98C1115.69 2131.98 1117.94 2136.48 1120.19 2140.23C1122.44 2143.98 1125.43 2147.35 1126.93 2151.47C1128.43 2155.6 1129 2160.84 1129.18 2164.97C1129.37 2169.09 1129 2172.84 1128.06 2176.21C1127.12 2179.59 1126 2183.34 1123.56 2185.21C1121.12 2187.09 1117.19 2186.9 1113.44 2187.46C1109.69 2188.02 1105 2188.02 1101.07 2188.59C1097.13 2189.15 1094.51 2189.9 1089.82 2190.83C1085.14 2191.77 1078.39 2192.71 1072.95 2194.21C1067.52 2195.71 1061.89 2197.58 1057.21 2199.83C1052.52 2202.08 1048.77 2205.08 1044.84 2207.7C1040.9 2210.33 1037.34 2213.51 1033.59 2215.58C1029.84 2217.64 1026.09 2219.14 1022.35 2220.07C1018.6 2221.01 1014.66 2221.57 1011.1 2221.2C1007.54 2220.82 1003.79 2219.7 1000.98 2217.83C998.17 2215.95 995.54 2212.58 994.23 2209.95C992.92 2207.33 994.98 2203.21 993.11 2202.08C991.23 2200.96 986.92 2203.39 982.98 2203.21C979.05 2203.02 973.61 2202.08 969.49 2200.96C965.37 2199.83 961.43 2198.14 958.24 2196.46C955.06 2194.77 952.43 2193.08 950.37 2190.83C948.31 2188.59 947.18 2185.77 945.87 2182.96C944.56 2180.15 942.87 2177.71 942.5 2173.97Z" fill="#fff" filter="url(#gyri3)" opacity="0.68" style="mix-blend-mode:multiply"/>
<g clip-path="url(#bclip3)">
<g filter="url(#blur2)" fill="none" stroke="#6e6e6e" stroke-opacity="0.25" stroke-width="4.5" stroke-linecap="round">
<path d="M969.49 2162.72C970.8 2159.35 973.24 2148.29 977.36 2142.48C981.48 2136.67 987.67 2131.23 994.23 2127.86C1000.79 2124.48 1009.23 2123.36 1016.72 2122.23C1024.22 2121.11 1032.65 2121.11 1039.21 2121.11C1045.77 2121.11 1051.4 2123.36 1056.08 2122.23C1060.77 2121.11 1065.46 2118.48 1067.33 2114.36C1069.2 2110.24 1067.33 2100.3 1067.33 2097.49"/>
<path d="M971.74 2176.21C973.24 2172.47 976.05 2159.72 980.74 2153.72C985.42 2147.72 992.92 2143.23 999.85 2140.23C1006.79 2137.23 1014.85 2136.1 1022.35 2135.73C1029.84 2135.35 1038.28 2136.1 1044.84 2137.98C1051.4 2139.85 1057.96 2143.41 1061.71 2146.97C1065.46 2150.54 1066.39 2157.28 1067.33 2159.35"/>
<path d="M1084.2 2103.12C1083.82 2107.8 1082.89 2121.86 1081.95 2131.23C1081.01 2140.6 1079.14 2154.66 1078.58 2159.35"/>
<path d="M1078.58 2159.35C1081.39 2158.41 1089.82 2155.03 1095.44 2153.72C1101.07 2152.41 1107.07 2151.47 1112.31 2151.47C1117.56 2151.47 1124.5 2153.35 1126.93 2153.72"/>
<path d="M1016.72 2094.12C1018.6 2097.12 1023.28 2108.55 1027.97 2112.11C1032.65 2115.67 1040.15 2116.05 1044.84 2115.49C1049.52 2114.92 1054.21 2109.86 1056.08 2108.74"/>
<path d="M1101.07 2119.98C1099.76 2123.73 1094.51 2138.73 1093.2 2142.48"/>
<path d="M1005.48 2215.58C1009.23 2213.7 1020.47 2207.52 1027.97 2204.33C1035.47 2201.14 1042.96 2198.52 1050.46 2196.46C1057.96 2194.4 1064.52 2193.27 1072.95 2191.96C1081.39 2190.65 1096.38 2189.15 1101.07 2188.59"/>
<path d="M960.49 2131.23C961.43 2134.04 965.18 2145.29 966.12 2148.1"/>
<path d="M988.61 2108.74C989.54 2110.24 993.29 2116.24 994.23 2117.74"/>
<path d="M1016.72 2170.59C1019.53 2172.47 1027.97 2179.78 1033.59 2181.84C1039.21 2183.9 1047.65 2182.77 1050.46 2182.96"/>
</g>
<path d="M971.74 2160.47C973.05 2156.35 976.99 2148.47 980.74 2144.73C984.48 2140.98 989.17 2139.85 994.23 2137.98C999.29 2136.1 1005.48 2134.42 1011.1 2133.48C1016.72 2132.54 1022.35 2132.35 1027.97 2132.35C1033.59 2132.35 1039.59 2132.54 1044.84 2133.48C1050.09 2134.42 1055.71 2135.54 1059.46 2137.98C1063.21 2140.41 1066.39 2144.35 1067.33 2148.1C1068.27 2151.85 1066.77 2156.72 1065.08 2160.47C1063.39 2164.22 1060.02 2167.41 1057.21 2170.59C1054.4 2173.78 1051.59 2176.96 1048.21 2179.59C1044.84 2182.21 1041.09 2185.02 1036.97 2186.34C1032.84 2187.65 1028.34 2187.46 1023.47 2187.46C1018.6 2187.46 1012.6 2187.09 1007.73 2186.34C1002.85 2185.59 998.73 2184.65 994.23 2182.96C989.73 2181.28 984.3 2178.46 980.74 2176.21C977.17 2173.97 974.36 2172.09 972.86 2169.47C971.36 2166.84 970.43 2164.59 971.74 2160.47Z" fill="url(#gcc)"/>
<path d="M971.74 2160.47C973.05 2156.35 976.99 2148.47 980.74 2144.73C984.48 2140.98 989.17 2139.85 994.23 2137.98C999.29 2136.1 1005.48 2134.42 1011.1 2133.48C1016.72 2132.54 1022.35 2132.35 1027.97 2132.35C1033.59 2132.35 1039.59 2132.54 1044.84 2133.48C1050.09 2134.42 1055.71 2135.54 1059.46 2137.98C1063.21 2140.41 1066.39 2144.35 1067.33 2148.1C1068.27 2151.85 1066.77 2156.72 1065.08 2160.47C1063.39 2164.22 1060.02 2167.41 1057.21 2170.59C1054.4 2173.78 1051.59 2176.96 1048.21 2179.59C1044.84 2182.21 1041.09 2185.02 1036.97 2186.34C1032.84 2187.65 1028.34 2187.46 1023.47 2187.46C1018.6 2187.46 1012.6 2187.09 1007.73 2186.34C1002.85 2185.59 998.73 2184.65 994.23 2182.96C989.73 2181.28 984.3 2178.46 980.74 2176.21C977.17 2173.97 974.36 2172.09 972.86 2169.47C971.36 2166.84 970.43 2164.59 971.74 2160.47Z" fill="none" stroke="#777" stroke-opacity="0.45" stroke-width="3" filter="url(#blur2)"/>
<path d="M985.23 2173.97C985.8 2170.97 985.23 2160.47 988.61 2155.97C991.98 2151.47 998.92 2148.85 1005.48 2146.97C1012.04 2145.1 1021.22 2144.73 1027.97 2144.73C1034.72 2144.73 1041.09 2145.48 1045.96 2146.97C1050.84 2148.47 1054.96 2151.1 1057.21 2153.72C1059.46 2156.35 1059.08 2161.22 1059.46 2162.72" fill="none" stroke="#8a8a8a" stroke-opacity="0.6" stroke-width="3.5" stroke-linecap="round" filter="url(#blur2)"/>
<path d="M985.23 2173.97C985.8 2170.97 985.23 2160.47 988.61 2155.97C991.98 2151.47 998.92 2148.85 1005.48 2146.97C1012.04 2145.1 1021.22 2144.73 1027.97 2144.73C1034.72 2144.73 1041.09 2145.48 1045.96 2146.97C1050.84 2148.47 1054.96 2151.1 1057.21 2153.72C1059.46 2156.35 1059.08 2161.22 1059.46 2162.72" fill="none" stroke="#fafafa" stroke-opacity="0.8" stroke-width="3" stroke-linecap="round" filter="url(#blur2)" transform="translate(-1.5 -2)"/>
<path d="M942.5 2173.97C942.12 2170.22 942.69 2165.34 943.62 2160.47C944.56 2155.6 946.25 2149.97 948.12 2144.73C950 2139.48 952.06 2133.67 954.87 2128.98C957.68 2124.3 961.43 2120.17 964.99 2116.61C968.55 2113.05 972.11 2110.24 976.24 2107.61C980.36 2104.99 984.86 2102.93 989.73 2100.87C994.61 2098.8 1000.23 2096.55 1005.48 2095.24C1010.72 2093.93 1016.35 2094.12 1021.22 2092.99C1026.09 2091.87 1030.59 2089.62 1034.72 2088.5C1038.84 2087.37 1041.65 2086.81 1045.96 2086.25C1050.27 2085.68 1057.02 2084.56 1060.58 2085.12C1064.14 2085.68 1064.89 2087.56 1067.33 2089.62C1069.77 2091.68 1072.58 2095.99 1075.2 2097.49C1077.83 2098.99 1080.83 2097.49 1083.07 2098.62C1085.32 2099.74 1086.26 2101.8 1088.7 2104.24C1091.13 2106.68 1094.7 2110.24 1097.69 2113.24C1100.69 2116.24 1104.07 2119.61 1106.69 2122.23C1109.32 2124.86 1111.19 2125.98 1113.44 2128.98C1115.69 2131.98 1117.94 2136.48 1120.19 2140.23C1122.44 2143.98 1125.43 2147.35 1126.93 2151.47C1128.43 2155.6 1129 2160.84 1129.18 2164.97C1129.37 2169.09 1129 2172.84 1128.06 2176.21C1127.12 2179.59 1126 2183.34 1123.56 2185.21C1121.12 2187.09 1117.19 2186.9 1113.44 2187.46C1109.69 2188.02 1105 2188.02 1101.07 2188.59C1097.13 2189.15 1094.51 2189.9 1089.82 2190.83C1085.14 2191.77 1078.39 2192.71 1072.95 2194.21C1067.52 2195.71 1061.89 2197.58 1057.21 2199.83C1052.52 2202.08 1048.77 2205.08 1044.84 2207.7C1040.9 2210.33 1037.34 2213.51 1033.59 2215.58C1029.84 2217.64 1026.09 2219.14 1022.35 2220.07C1018.6 2221.01 1014.66 2221.57 1011.1 2221.2C1007.54 2220.82 1003.79 2219.7 1000.98 2217.83C998.17 2215.95 995.54 2212.58 994.23 2209.95C992.92 2207.33 994.98 2203.21 993.11 2202.08C991.23 2200.96 986.92 2203.39 982.98 2203.21C979.05 2203.02 973.61 2202.08 969.49 2200.96C965.37 2199.83 961.43 2198.14 958.24 2196.46C955.06 2194.77 952.43 2193.08 950.37 2190.83C948.31 2188.59 947.18 2185.77 945.87 2182.96C944.56 2180.15 942.87 2177.71 942.5 2173.97Z" fill="none" stroke="#8a8a8a" stroke-opacity="0.5" stroke-width="7" filter="url(#blur3)"/>
</g>
<path d="M942.5 2173.97C942.12 2170.22 942.69 2165.34 943.62 2160.47C944.56 2155.6 946.25 2149.97 948.12 2144.73C950 2139.48 952.06 2133.67 954.87 2128.98C957.68 2124.3 961.43 2120.17 964.99 2116.61C968.55 2113.05 972.11 2110.24 976.24 2107.61C980.36 2104.99 984.86 2102.93 989.73 2100.87C994.61 2098.8 1000.23 2096.55 1005.48 2095.24C1010.72 2093.93 1016.35 2094.12 1021.22 2092.99C1026.09 2091.87 1030.59 2089.62 1034.72 2088.5C1038.84 2087.37 1041.65 2086.81 1045.96 2086.25C1050.27 2085.68 1057.02 2084.56 1060.58 2085.12C1064.14 2085.68 1064.89 2087.56 1067.33 2089.62C1069.77 2091.68 1072.58 2095.99 1075.2 2097.49C1077.83 2098.99 1080.83 2097.49 1083.07 2098.62C1085.32 2099.74 1086.26 2101.8 1088.7 2104.24C1091.13 2106.68 1094.7 2110.24 1097.69 2113.24C1100.69 2116.24 1104.07 2119.61 1106.69 2122.23C1109.32 2124.86 1111.19 2125.98 1113.44 2128.98C1115.69 2131.98 1117.94 2136.48 1120.19 2140.23C1122.44 2143.98 1125.43 2147.35 1126.93 2151.47C1128.43 2155.6 1129 2160.84 1129.18 2164.97C1129.37 2169.09 1129 2172.84 1128.06 2176.21C1127.12 2179.59 1126 2183.34 1123.56 2185.21C1121.12 2187.09 1117.19 2186.9 1113.44 2187.46C1109.69 2188.02 1105 2188.02 1101.07 2188.59C1097.13 2189.15 1094.51 2189.9 1089.82 2190.83C1085.14 2191.77 1078.39 2192.71 1072.95 2194.21C1067.52 2195.71 1061.89 2197.58 1057.21 2199.83C1052.52 2202.08 1048.77 2205.08 1044.84 2207.7C1040.9 2210.33 1037.34 2213.51 1033.59 2215.58C1029.84 2217.64 1026.09 2219.14 1022.35 2220.07C1018.6 2221.01 1014.66 2221.57 1011.1 2221.2C1007.54 2220.82 1003.79 2219.7 1000.98 2217.83C998.17 2215.95 995.54 2212.58 994.23 2209.95C992.92 2207.33 994.98 2203.21 993.11 2202.08C991.23 2200.96 986.92 2203.39 982.98 2203.21C979.05 2203.02 973.61 2202.08 969.49 2200.96C965.37 2199.83 961.43 2198.14 958.24 2196.46C955.06 2194.77 952.43 2193.08 950.37 2190.83C948.31 2188.59 947.18 2185.77 945.87 2182.96C944.56 2180.15 942.87 2177.71 942.5 2173.97Z" fill="none" stroke="#9a9a9a" stroke-width="0.8"/>
<clipPath id="bclip4"><path d="M1143.62 2187.46C1142.97 2185.02 1142.87 2178.46 1143.06 2173.97C1143.25 2169.47 1143.34 2164.78 1144.75 2160.47C1146.15 2156.16 1149.25 2151.85 1151.5 2148.1C1153.74 2144.35 1156.74 2141.73 1158.24 2137.98C1159.74 2134.23 1158.24 2128.79 1160.49 2125.61C1162.74 2122.42 1169.3 2121.48 1171.74 2118.86C1174.17 2116.24 1172.86 2113.05 1175.11 2109.86C1177.36 2106.68 1181.67 2102.18 1185.23 2099.74C1188.79 2097.3 1193.48 2096.93 1196.48 2095.24C1199.48 2093.56 1200.6 2091.21 1203.23 2089.62C1205.85 2088.03 1208.85 2086.25 1212.22 2085.68C1215.6 2085.12 1220.1 2085.78 1223.47 2086.25C1226.84 2086.71 1228.72 2087.37 1232.47 2088.5C1236.22 2089.62 1241.09 2091.87 1245.96 2092.99C1250.84 2094.12 1256.27 2093.74 1261.71 2095.24C1267.14 2096.74 1272.95 2099.37 1278.58 2101.99C1284.2 2104.61 1290.38 2107.61 1295.44 2110.99C1300.51 2114.36 1305 2118.11 1308.94 2122.23C1312.88 2126.36 1316.06 2131.23 1319.06 2135.73C1322.06 2140.23 1325.25 2144.73 1326.93 2149.22C1328.62 2153.72 1328.81 2158.22 1329.18 2162.72C1329.56 2167.22 1329.93 2172.09 1329.18 2176.21C1328.43 2180.34 1326.56 2184.46 1324.68 2187.46C1322.81 2190.46 1320.94 2192.33 1317.94 2194.21C1314.94 2196.08 1310.81 2197.39 1306.69 2198.71C1302.57 2200.02 1297.51 2201.52 1293.2 2202.08C1288.88 2202.64 1283.26 2201.14 1280.83 2202.08C1278.39 2203.02 1279.33 2205.64 1278.58 2207.7C1277.83 2209.77 1277.64 2212.39 1276.33 2214.45C1275.01 2216.51 1273.14 2218.95 1270.7 2220.07C1268.27 2221.2 1265.08 2221.39 1261.71 2221.2C1258.33 2221.01 1254.21 2220.07 1250.46 2218.95C1246.71 2217.83 1243.34 2216.51 1239.21 2214.45C1235.09 2212.39 1230.41 2209.02 1225.72 2206.58C1221.03 2204.14 1216.35 2201.89 1211.1 2199.83C1205.85 2197.77 1199.29 2195.52 1194.23 2194.21C1189.17 2192.9 1185.42 2192.52 1180.74 2191.96C1176.05 2191.4 1170.43 2191.21 1166.12 2190.83C1161.8 2190.46 1158.06 2190.08 1154.87 2189.71C1151.68 2189.33 1148.87 2188.96 1147 2188.59C1145.12 2188.21 1144.28 2189.9 1143.62 2187.46Z"/></clipPath>
<filter id="gyri4" x="-5%" y="-5%" width="110%" height="110%" color-interpolation-filters="sRGB"><feTurbulence type="turbulence" baseFrequency="0.034 0.048" numOctaves="1" seed="13" result="t"/><feColorMatrix in="t" type="matrix" values="0 0 0 0 0  0 0 0 0 0  0 0 0 0 0  0 0 0 3 0" result="a"/><feGaussianBlur in="a" stdDeviation="1.4" result="b"/><feDiffuseLighting in="b" surfaceScale="3.3" diffuseConstant="1.2" lighting-color="#ffffff" result="l"><feDistantLight azimuth="225" elevation="55"/></feDiffuseLighting><feComposite in="l" in2="SourceGraphic" operator="in"/></filter>
<path d="M1143.62 2187.46C1142.97 2185.02 1142.87 2178.46 1143.06 2173.97C1143.25 2169.47 1143.34 2164.78 1144.75 2160.47C1146.15 2156.16 1149.25 2151.85 1151.5 2148.1C1153.74 2144.35 1156.74 2141.73 1158.24 2137.98C1159.74 2134.23 1158.24 2128.79 1160.49 2125.61C1162.74 2122.42 1169.3 2121.48 1171.74 2118.86C1174.17 2116.24 1172.86 2113.05 1175.11 2109.86C1177.36 2106.68 1181.67 2102.18 1185.23 2099.74C1188.79 2097.3 1193.48 2096.93 1196.48 2095.24C1199.48 2093.56 1200.6 2091.21 1203.23 2089.62C1205.85 2088.03 1208.85 2086.25 1212.22 2085.68C1215.6 2085.12 1220.1 2085.78 1223.47 2086.25C1226.84 2086.71 1228.72 2087.37 1232.47 2088.5C1236.22 2089.62 1241.09 2091.87 1245.96 2092.99C1250.84 2094.12 1256.27 2093.74 1261.71 2095.24C1267.14 2096.74 1272.95 2099.37 1278.58 2101.99C1284.2 2104.61 1290.38 2107.61 1295.44 2110.99C1300.51 2114.36 1305 2118.11 1308.94 2122.23C1312.88 2126.36 1316.06 2131.23 1319.06 2135.73C1322.06 2140.23 1325.25 2144.73 1326.93 2149.22C1328.62 2153.72 1328.81 2158.22 1329.18 2162.72C1329.56 2167.22 1329.93 2172.09 1329.18 2176.21C1328.43 2180.34 1326.56 2184.46 1324.68 2187.46C1322.81 2190.46 1320.94 2192.33 1317.94 2194.21C1314.94 2196.08 1310.81 2197.39 1306.69 2198.71C1302.57 2200.02 1297.51 2201.52 1293.2 2202.08C1288.88 2202.64 1283.26 2201.14 1280.83 2202.08C1278.39 2203.02 1279.33 2205.64 1278.58 2207.7C1277.83 2209.77 1277.64 2212.39 1276.33 2214.45C1275.01 2216.51 1273.14 2218.95 1270.7 2220.07C1268.27 2221.2 1265.08 2221.39 1261.71 2221.2C1258.33 2221.01 1254.21 2220.07 1250.46 2218.95C1246.71 2217.83 1243.34 2216.51 1239.21 2214.45C1235.09 2212.39 1230.41 2209.02 1225.72 2206.58C1221.03 2204.14 1216.35 2201.89 1211.1 2199.83C1205.85 2197.77 1199.29 2195.52 1194.23 2194.21C1189.17 2192.9 1185.42 2192.52 1180.74 2191.96C1176.05 2191.4 1170.43 2191.21 1166.12 2190.83C1161.8 2190.46 1158.06 2190.08 1154.87 2189.71C1151.68 2189.33 1148.87 2188.96 1147 2188.59C1145.12 2188.21 1144.28 2189.9 1143.62 2187.46Z" fill="url(#gbrain)"/>
<g clip-path="url(#bclip4)">
<path d="M1162.74 2148.1C1163.49 2143.6 1165.18 2133.67 1167.24 2128.98C1169.3 2124.3 1172.49 2122.23 1175.11 2119.98C1177.74 2117.74 1179.8 2115.86 1182.98 2115.49C1186.17 2115.11 1190.86 2116.24 1194.23 2117.74C1197.6 2119.23 1201.35 2121.3 1203.23 2124.48C1205.1 2127.67 1204.91 2131.98 1205.48 2136.85C1206.04 2141.73 1206.6 2149.79 1206.6 2153.72C1206.6 2157.66 1207.54 2159.35 1205.48 2160.47C1203.41 2161.59 1197.6 2159.91 1194.23 2160.47C1190.86 2161.03 1188.23 2163.47 1185.23 2163.84C1182.23 2164.22 1178.67 2163.66 1176.24 2162.72C1173.8 2161.78 1172.86 2159.35 1170.61 2158.22C1168.36 2157.1 1164.05 2157.66 1162.74 2155.97C1161.43 2154.28 1161.99 2152.6 1162.74 2148.1Z" fill="#6ab4dc"/>
<path d="M1214.47 2085.68C1215.97 2085.68 1219.53 2085.4 1221.22 2087.37C1222.91 2089.34 1222.72 2094.68 1224.59 2097.49C1226.47 2100.3 1230.03 2101.8 1232.47 2104.24C1234.9 2106.68 1237.15 2108.93 1239.21 2112.11C1241.28 2115.3 1243.34 2119.23 1244.84 2123.36C1246.34 2127.48 1247.27 2132.17 1248.21 2136.85C1249.15 2141.54 1249.9 2147.54 1250.46 2151.47C1251.02 2155.41 1252.71 2159.35 1251.59 2160.47C1250.46 2161.59 1246.15 2159.53 1243.71 2158.22C1241.28 2156.91 1238.46 2155.22 1236.97 2152.6C1235.47 2149.97 1235.28 2146.04 1234.72 2142.48C1234.15 2138.92 1235.09 2134.6 1233.59 2131.23C1232.09 2127.86 1228.16 2125.04 1225.72 2122.23C1223.28 2119.42 1220.66 2116.99 1218.97 2114.36C1217.28 2111.74 1216.35 2109.49 1215.6 2106.49C1214.85 2103.49 1215.04 2099.55 1214.47 2096.37C1213.91 2093.18 1212.22 2089.15 1212.22 2087.37C1212.22 2085.59 1212.97 2085.68 1214.47 2085.68Z" fill="#f0a57f"/>
<path d="M1278.58 2173.97C1279.89 2171.53 1281.95 2167.97 1283.07 2168.34C1284.2 2168.72 1284.2 2173.4 1285.32 2176.21C1286.45 2179.03 1287.2 2183.34 1289.82 2185.21C1292.45 2187.09 1296.38 2186.9 1301.07 2187.46C1305.75 2188.02 1314.38 2188.02 1317.94 2188.59C1321.5 2189.15 1322.44 2189.52 1322.44 2190.83C1322.44 2192.15 1320.56 2194.96 1317.94 2196.46C1315.31 2197.96 1310.81 2198.89 1306.69 2199.83C1302.57 2200.77 1297.51 2201.71 1293.2 2202.08C1288.88 2202.46 1283.64 2203.58 1280.83 2202.08C1278.01 2200.58 1277.26 2196.27 1276.33 2193.08C1275.39 2189.9 1274.83 2186.15 1275.2 2182.96C1275.58 2179.78 1277.26 2176.4 1278.58 2173.97Z" fill="#9f2a25"/>
<path d="M1323.56 2182.96C1324.12 2180.71 1328.25 2174.15 1329.18 2173.97C1330.12 2173.78 1329.75 2179.59 1329.18 2181.84C1328.62 2184.09 1326.75 2187.27 1325.81 2187.46C1324.87 2187.65 1323 2185.21 1323.56 2182.96Z" fill="#4a90bb"/>
</g>
<path d="M1143.62 2187.46C1142.97 2185.02 1142.87 2178.46 1143.06 2173.97C1143.25 2169.47 1143.34 2164.78 1144.75 2160.47C1146.15 2156.16 1149.25 2151.85 1151.5 2148.1C1153.74 2144.35 1156.74 2141.73 1158.24 2137.98C1159.74 2134.23 1158.24 2128.79 1160.49 2125.61C1162.74 2122.42 1169.3 2121.48 1171.74 2118.86C1174.17 2116.24 1172.86 2113.05 1175.11 2109.86C1177.36 2106.68 1181.67 2102.18 1185.23 2099.74C1188.79 2097.3 1193.48 2096.93 1196.48 2095.24C1199.48 2093.56 1200.6 2091.21 1203.23 2089.62C1205.85 2088.03 1208.85 2086.25 1212.22 2085.68C1215.6 2085.12 1220.1 2085.78 1223.47 2086.25C1226.84 2086.71 1228.72 2087.37 1232.47 2088.5C1236.22 2089.62 1241.09 2091.87 1245.96 2092.99C1250.84 2094.12 1256.27 2093.74 1261.71 2095.24C1267.14 2096.74 1272.95 2099.37 1278.58 2101.99C1284.2 2104.61 1290.38 2107.61 1295.44 2110.99C1300.51 2114.36 1305 2118.11 1308.94 2122.23C1312.88 2126.36 1316.06 2131.23 1319.06 2135.73C1322.06 2140.23 1325.25 2144.73 1326.93 2149.22C1328.62 2153.72 1328.81 2158.22 1329.18 2162.72C1329.56 2167.22 1329.93 2172.09 1329.18 2176.21C1328.43 2180.34 1326.56 2184.46 1324.68 2187.46C1322.81 2190.46 1320.94 2192.33 1317.94 2194.21C1314.94 2196.08 1310.81 2197.39 1306.69 2198.71C1302.57 2200.02 1297.51 2201.52 1293.2 2202.08C1288.88 2202.64 1283.26 2201.14 1280.83 2202.08C1278.39 2203.02 1279.33 2205.64 1278.58 2207.7C1277.83 2209.77 1277.64 2212.39 1276.33 2214.45C1275.01 2216.51 1273.14 2218.95 1270.7 2220.07C1268.27 2221.2 1265.08 2221.39 1261.71 2221.2C1258.33 2221.01 1254.21 2220.07 1250.46 2218.95C1246.71 2217.83 1243.34 2216.51 1239.21 2214.45C1235.09 2212.39 1230.41 2209.02 1225.72 2206.58C1221.03 2204.14 1216.35 2201.89 1211.1 2199.83C1205.85 2197.77 1199.29 2195.52 1194.23 2194.21C1189.17 2192.9 1185.42 2192.52 1180.74 2191.96C1176.05 2191.4 1170.43 2191.21 1166.12 2190.83C1161.8 2190.46 1158.06 2190.08 1154.87 2189.71C1151.68 2189.33 1148.87 2188.96 1147 2188.59C1145.12 2188.21 1144.28 2189.9 1143.62 2187.46Z" fill="#fff" filter="url(#gyri4)" opacity="0.68" style="mix-blend-mode:multiply"/>
<g clip-path="url(#bclip4)">
<g filter="url(#blur2)" fill="none" stroke="#6e6e6e" stroke-opacity="0.25" stroke-width="4.5" stroke-linecap="round">
<path d="M1223.47 2087.37C1225.16 2090.93 1230.03 2101.43 1233.59 2108.74C1237.15 2116.05 1242.03 2123.73 1244.84 2131.23C1247.65 2138.73 1249.52 2149.97 1250.46 2153.72"/>
<path d="M1207.73 2091.87C1208.29 2094.68 1210.72 2103.12 1211.1 2108.74C1211.47 2114.36 1210.16 2122.8 1209.97 2125.61"/>
<path d="M1171.74 2170.59C1176.42 2169.65 1190.48 2166.28 1199.85 2164.97C1209.23 2163.66 1218.6 2162.16 1227.97 2162.72C1237.34 2163.28 1247.65 2167.03 1256.08 2168.34C1264.52 2169.65 1274.83 2170.22 1278.58 2170.59"/>
<path d="M1160.49 2181.84C1166.12 2181.84 1182.98 2180.9 1194.23 2181.84C1205.48 2182.77 1216.72 2184.65 1227.97 2187.46C1239.21 2190.27 1253.27 2195.9 1261.71 2198.71C1270.14 2201.52 1275.76 2203.39 1278.58 2204.33"/>
<path d="M1171.74 2190.83C1177.36 2191.77 1194.23 2193.27 1205.48 2196.46C1216.72 2199.64 1233.59 2207.7 1239.21 2209.95"/>
<path d="M1256.08 2103.12C1257.02 2106.86 1259.83 2118.11 1261.71 2125.61C1263.58 2133.1 1265.46 2141.54 1267.33 2148.1C1269.2 2154.66 1272.02 2162.16 1272.95 2164.97"/>
<path d="M1284.2 2108.74C1286.07 2112.49 1292.63 2123.73 1295.44 2131.23C1298.26 2138.73 1300.13 2149.97 1301.07 2153.72"/>
<path d="M1306.69 2125.61C1308.19 2129.36 1313.81 2140.6 1315.69 2148.1C1317.56 2155.6 1317.56 2166.84 1317.94 2170.59"/>
<path d="M1171.74 2119.98C1173.61 2121.86 1180.17 2126.54 1182.98 2131.23C1185.8 2135.92 1187.67 2145.29 1188.61 2148.1"/>
<path d="M1154.87 2153.72C1155.81 2156.53 1159.55 2167.78 1160.49 2170.59"/>
<path d="M1216.72 2142.48C1217.1 2145.29 1217.1 2155.6 1218.97 2159.35C1220.85 2163.09 1226.47 2164.03 1227.97 2164.97"/>
<path d="M1278.58 2176.21C1281.39 2177.15 1288.88 2180.71 1295.44 2181.84C1302.01 2182.96 1314.19 2182.77 1317.94 2182.96"/>
</g>
<path d="M1143.62 2187.46C1142.97 2185.02 1142.87 2178.46 1143.06 2173.97C1143.25 2169.47 1143.34 2164.78 1144.75 2160.47C1146.15 2156.16 1149.25 2151.85 1151.5 2148.1C1153.74 2144.35 1156.74 2141.73 1158.24 2137.98C1159.74 2134.23 1158.24 2128.79 1160.49 2125.61C1162.74 2122.42 1169.3 2121.48 1171.74 2118.86C1174.17 2116.24 1172.86 2113.05 1175.11 2109.86C1177.36 2106.68 1181.67 2102.18 1185.23 2099.74C1188.79 2097.3 1193.48 2096.93 1196.48 2095.24C1199.48 2093.56 1200.6 2091.21 1203.23 2089.62C1205.85 2088.03 1208.85 2086.25 1212.22 2085.68C1215.6 2085.12 1220.1 2085.78 1223.47 2086.25C1226.84 2086.71 1228.72 2087.37 1232.47 2088.5C1236.22 2089.62 1241.09 2091.87 1245.96 2092.99C1250.84 2094.12 1256.27 2093.74 1261.71 2095.24C1267.14 2096.74 1272.95 2099.37 1278.58 2101.99C1284.2 2104.61 1290.38 2107.61 1295.44 2110.99C1300.51 2114.36 1305 2118.11 1308.94 2122.23C1312.88 2126.36 1316.06 2131.23 1319.06 2135.73C1322.06 2140.23 1325.25 2144.73 1326.93 2149.22C1328.62 2153.72 1328.81 2158.22 1329.18 2162.72C1329.56 2167.22 1329.93 2172.09 1329.18 2176.21C1328.43 2180.34 1326.56 2184.46 1324.68 2187.46C1322.81 2190.46 1320.94 2192.33 1317.94 2194.21C1314.94 2196.08 1310.81 2197.39 1306.69 2198.71C1302.57 2200.02 1297.51 2201.52 1293.2 2202.08C1288.88 2202.64 1283.26 2201.14 1280.83 2202.08C1278.39 2203.02 1279.33 2205.64 1278.58 2207.7C1277.83 2209.77 1277.64 2212.39 1276.33 2214.45C1275.01 2216.51 1273.14 2218.95 1270.7 2220.07C1268.27 2221.2 1265.08 2221.39 1261.71 2221.2C1258.33 2221.01 1254.21 2220.07 1250.46 2218.95C1246.71 2217.83 1243.34 2216.51 1239.21 2214.45C1235.09 2212.39 1230.41 2209.02 1225.72 2206.58C1221.03 2204.14 1216.35 2201.89 1211.1 2199.83C1205.85 2197.77 1199.29 2195.52 1194.23 2194.21C1189.17 2192.9 1185.42 2192.52 1180.74 2191.96C1176.05 2191.4 1170.43 2191.21 1166.12 2190.83C1161.8 2190.46 1158.06 2190.08 1154.87 2189.71C1151.68 2189.33 1148.87 2188.96 1147 2188.59C1145.12 2188.21 1144.28 2189.9 1143.62 2187.46Z" fill="none" stroke="#8a8a8a" stroke-opacity="0.5" stroke-width="7" filter="url(#blur3)"/>
</g>
<path d="M1143.62 2187.46C1142.97 2185.02 1142.87 2178.46 1143.06 2173.97C1143.25 2169.47 1143.34 2164.78 1144.75 2160.47C1146.15 2156.16 1149.25 2151.85 1151.5 2148.1C1153.74 2144.35 1156.74 2141.73 1158.24 2137.98C1159.74 2134.23 1158.24 2128.79 1160.49 2125.61C1162.74 2122.42 1169.3 2121.48 1171.74 2118.86C1174.17 2116.24 1172.86 2113.05 1175.11 2109.86C1177.36 2106.68 1181.67 2102.18 1185.23 2099.74C1188.79 2097.3 1193.48 2096.93 1196.48 2095.24C1199.48 2093.56 1200.6 2091.21 1203.23 2089.62C1205.85 2088.03 1208.85 2086.25 1212.22 2085.68C1215.6 2085.12 1220.1 2085.78 1223.47 2086.25C1226.84 2086.71 1228.72 2087.37 1232.47 2088.5C1236.22 2089.62 1241.09 2091.87 1245.96 2092.99C1250.84 2094.12 1256.27 2093.74 1261.71 2095.24C1267.14 2096.74 1272.95 2099.37 1278.58 2101.99C1284.2 2104.61 1290.38 2107.61 1295.44 2110.99C1300.51 2114.36 1305 2118.11 1308.94 2122.23C1312.88 2126.36 1316.06 2131.23 1319.06 2135.73C1322.06 2140.23 1325.25 2144.73 1326.93 2149.22C1328.62 2153.72 1328.81 2158.22 1329.18 2162.72C1329.56 2167.22 1329.93 2172.09 1329.18 2176.21C1328.43 2180.34 1326.56 2184.46 1324.68 2187.46C1322.81 2190.46 1320.94 2192.33 1317.94 2194.21C1314.94 2196.08 1310.81 2197.39 1306.69 2198.71C1302.57 2200.02 1297.51 2201.52 1293.2 2202.08C1288.88 2202.64 1283.26 2201.14 1280.83 2202.08C1278.39 2203.02 1279.33 2205.64 1278.58 2207.7C1277.83 2209.77 1277.64 2212.39 1276.33 2214.45C1275.01 2216.51 1273.14 2218.95 1270.7 2220.07C1268.27 2221.2 1265.08 2221.39 1261.71 2221.2C1258.33 2221.01 1254.21 2220.07 1250.46 2218.95C1246.71 2217.83 1243.34 2216.51 1239.21 2214.45C1235.09 2212.39 1230.41 2209.02 1225.72 2206.58C1221.03 2204.14 1216.35 2201.89 1211.1 2199.83C1205.85 2197.77 1199.29 2195.52 1194.23 2194.21C1189.17 2192.9 1185.42 2192.52 1180.74 2191.96C1176.05 2191.4 1170.43 2191.21 1166.12 2190.83C1161.8 2190.46 1158.06 2190.08 1154.87 2189.71C1151.68 2189.33 1148.87 2188.96 1147 2188.59C1145.12 2188.21 1144.28 2189.9 1143.62 2187.46Z" fill="none" stroke="#9a9a9a" stroke-width="0.8"/>
<rect x="1431.9" y="2086.3" width="47.9" height="150.5" fill="url(#cbar)"/>
<rect x="1432.9" y="2087.3" width="45.9" height="148.5" fill="none" stroke="#000" stroke-width="2"/>
<line x1="1471.3" y1="2111.38" x2="1478.8" y2="2111.38" stroke="#000" stroke-width="1.3"/>
<line x1="1471.3" y1="2136.47" x2="1478.8" y2="2136.47" stroke="#000" stroke-width="1.3"/>
<line x1="1471.3" y1="2161.55" x2="1478.8" y2="2161.55" stroke="#000" stroke-width="1.3"/>
<line x1="1471.3" y1="2186.63" x2="1478.8" y2="2186.63" stroke="#000" stroke-width="1.3"/>
<line x1="1471.3" y1="2211.72" x2="1478.8" y2="2211.72" stroke="#000" stroke-width="1.3"/>
<text x="1504.6" y="2099.4" font-size="24.8" font-weight="bold" fill="#231815">0.3</text>
<text x="1506.3" y="2162.9" font-size="25.3" font-weight="bold" fill="#231815"><tspan font-style="italic">r</tspan>-value</text>
<text x="1508.9" y="2236.8" font-size="24.8" font-weight="bold" fill="#231815">-0.3</text>
<rect x="1428.1" y="2332.9" width="47.9" height="151.1" fill="url(#cbar)"/>
<line x1="1429.3" y1="2332.9" x2="1429.3" y2="2484" stroke="#000" stroke-width="2.4"/>
<line x1="1475.3" y1="2332.9" x2="1475.3" y2="2484" stroke="#000" stroke-width="1.4"/>
<text x="1501.6" y="2345" font-size="24.8" font-weight="bold" fill="#231815">0.5</text>
<text x="1502.8" y="2409" font-size="25.3" font-weight="bold" fill="#231815"><tspan font-style="italic">r</tspan>-value</text>
<text x="1505.4" y="2482.6" font-size="24.8" font-weight="bold" fill="#231815">-0.5</text>
<text x="377.7" y="2058" font-size="58" font-weight="bold" fill="#231815">g</text>
<text transform="translate(908.89 2060.33) scale(1.1115 1)" font-family="&apos;IPAGothic&apos;, &apos;DejaVu Sans&apos;, sans-serif" font-size="42.57" fill="#231815" stroke="#231815" stroke-width="1.85" stroke-linejoin="miter">&#9651;</text>
<text transform="translate(952.4 2057) scale(1 1.070)" font-size="32" font-weight="bold" fill="#231815">CT</text>
<text x="380.3" y="2329.5" font-size="58" font-weight="bold" fill="#231815">h</text>
<text transform="translate(824.65 2308.84) scale(1.1336 1)" font-family="&apos;IPAGothic&apos;, &apos;DejaVu Sans&apos;, sans-serif" font-size="40.84" fill="#231815" stroke="#231815" stroke-width="1.96" stroke-linejoin="miter">&#9651;</text>
<text transform="translate(870.4 2310.7) scale(1 1.070)" font-size="33" font-weight="bold" fill="#231815">SubCortVol</text>
<path d="M560.41 2406.23C560.04 2404.22 559.22 2399.65 559.86 2396.36C560.5 2393.08 561.87 2389.61 564.25 2386.5C566.62 2383.4 570.27 2380.66 574.11 2377.74C577.94 2374.81 582.51 2371.71 587.26 2368.97C592 2366.23 597.48 2363.58 602.6 2361.3C607.71 2359.02 612.82 2357.01 617.94 2355.27C623.05 2353.54 628.16 2351.89 633.28 2350.89C638.39 2349.88 643.32 2349.25 648.62 2349.25C653.92 2349.25 659.58 2349.7 665.06 2350.89C670.53 2352.08 676.2 2353.99 681.49 2356.37C686.79 2358.74 692.27 2361.94 696.83 2365.13C701.4 2368.33 705.23 2372.35 708.89 2375.54C712.54 2378.74 715.19 2380.93 718.75 2384.31C722.31 2387.69 729.16 2393.08 730.25 2395.82C731.35 2398.55 727.97 2399.19 725.32 2400.75C722.68 2402.3 718.02 2403.49 714.37 2405.13C710.71 2406.77 706.06 2409.42 703.41 2410.61C700.76 2411.8 699.76 2413.9 698.48 2412.25C697.2 2410.61 697.29 2404.67 695.74 2400.75C694.19 2396.82 692.08 2392.35 689.16 2388.69C686.24 2385.04 682.59 2381.48 678.21 2378.83C673.82 2376.18 668.16 2374.08 662.86 2372.8C657.57 2371.53 651.72 2371.16 646.43 2371.16C641.13 2371.16 636.2 2371.89 631.09 2372.8C625.97 2373.72 620.68 2375.09 615.75 2376.64C610.82 2378.19 606.07 2379.93 601.5 2382.12C596.94 2384.31 592.55 2387.05 588.35 2389.79C584.15 2392.53 579.95 2395.63 576.3 2398.55C572.65 2401.48 568.81 2405.68 566.44 2407.32C564.06 2408.96 563.06 2408.6 562.05 2408.42C561.05 2408.23 560.78 2408.23 560.41 2406.23Z" fill="#e2785d"/>
<path d="M560.41 2406.23C560.04 2404.22 559.22 2399.65 559.86 2396.36C560.5 2393.08 561.87 2389.61 564.25 2386.5C566.62 2383.4 570.27 2380.66 574.11 2377.74C577.94 2374.81 582.51 2371.71 587.26 2368.97C592 2366.23 597.48 2363.58 602.6 2361.3C607.71 2359.02 612.82 2357.01 617.94 2355.27C623.05 2353.54 628.16 2351.89 633.28 2350.89C638.39 2349.88 643.32 2349.25 648.62 2349.25C653.92 2349.25 659.58 2349.7 665.06 2350.89C670.53 2352.08 676.2 2353.99 681.49 2356.37C686.79 2358.74 692.27 2361.94 696.83 2365.13C701.4 2368.33 705.23 2372.35 708.89 2375.54C712.54 2378.74 715.19 2380.93 718.75 2384.31C722.31 2387.69 729.16 2393.08 730.25 2395.82C731.35 2398.55 727.97 2399.19 725.32 2400.75C722.68 2402.3 718.02 2403.49 714.37 2405.13C710.71 2406.77 706.06 2409.42 703.41 2410.61C700.76 2411.8 699.76 2413.9 698.48 2412.25C697.2 2410.61 697.29 2404.67 695.74 2400.75C694.19 2396.82 692.08 2392.35 689.16 2388.69C686.24 2385.04 682.59 2381.48 678.21 2378.83C673.82 2376.18 668.16 2374.08 662.86 2372.8C657.57 2371.53 651.72 2371.16 646.43 2371.16C641.13 2371.16 636.2 2371.89 631.09 2372.8C625.97 2373.72 620.68 2375.09 615.75 2376.64C610.82 2378.19 606.07 2379.93 601.5 2382.12C596.94 2384.31 592.55 2387.05 588.35 2389.79C584.15 2392.53 579.95 2395.63 576.3 2398.55C572.65 2401.48 568.81 2405.68 566.44 2407.32C564.06 2408.96 563.06 2408.6 562.05 2408.42C561.05 2408.23 560.78 2408.23 560.41 2406.23Z" fill="url(#gshade)"/>
<path d="M620.13 2371.16C621.96 2369.28 631.09 2366.32 637.66 2365.13C644.24 2363.95 653.19 2363.54 659.58 2364.04C665.97 2364.53 671.08 2365.99 676.01 2368.09C680.94 2370.19 685.88 2373.85 689.16 2376.64C692.45 2379.43 695.37 2383.31 695.74 2384.86C696.1 2386.41 693.73 2386.59 691.35 2385.95C688.98 2385.31 684.96 2382.48 681.49 2381.02C678.02 2379.56 675.1 2378.36 670.53 2377.19C665.97 2376.02 659.58 2374.61 654.1 2374.01C648.62 2373.41 642.23 2373.17 637.66 2373.57C633.1 2373.97 629.63 2376.82 626.7 2376.42C623.78 2376.02 618.3 2373.04 620.13 2371.16Z" fill="#9c4535"/>
<path d="M620.13 2371.16C621.96 2369.28 631.09 2366.32 637.66 2365.13C644.24 2363.95 653.19 2363.54 659.58 2364.04C665.97 2364.53 671.08 2365.99 676.01 2368.09C680.94 2370.19 685.88 2373.85 689.16 2376.64C692.45 2379.43 695.37 2383.31 695.74 2384.86C696.1 2386.41 693.73 2386.59 691.35 2385.95C688.98 2385.31 684.96 2382.48 681.49 2381.02C678.02 2379.56 675.1 2378.36 670.53 2377.19C665.97 2376.02 659.58 2374.61 654.1 2374.01C648.62 2373.41 642.23 2373.17 637.66 2373.57C633.1 2373.97 629.63 2376.82 626.7 2376.42C623.78 2376.02 618.3 2373.04 620.13 2371.16Z" fill="url(#gshade)"/>
<path d="M569.72 2418.28C568.54 2416 568.99 2410.61 570.27 2406.23C571.55 2401.84 574.02 2396.73 577.39 2391.98C580.77 2387.23 585.61 2381.75 590.54 2377.74C595.47 2373.72 601.32 2370.43 606.98 2367.87C612.64 2365.32 618.85 2363.58 624.51 2362.39C630.17 2361.21 636.02 2360.57 640.95 2360.75C645.88 2360.93 654.28 2362.3 654.1 2363.49C653.92 2364.68 644.42 2366.23 639.85 2367.87C635.29 2369.52 631.09 2370.98 626.7 2373.35C622.32 2375.73 617.94 2378.83 613.55 2382.12C609.17 2385.41 604.42 2389.24 600.41 2393.08C596.39 2396.91 592.37 2401.29 589.45 2405.13C586.53 2408.96 584.88 2413.62 582.87 2416.09C580.86 2418.55 579.59 2419.56 577.39 2419.92C575.2 2420.29 570.91 2420.56 569.72 2418.28Z" fill="#b8262e"/>
<path d="M569.72 2418.28C568.54 2416 568.99 2410.61 570.27 2406.23C571.55 2401.84 574.02 2396.73 577.39 2391.98C580.77 2387.23 585.61 2381.75 590.54 2377.74C595.47 2373.72 601.32 2370.43 606.98 2367.87C612.64 2365.32 618.85 2363.58 624.51 2362.39C630.17 2361.21 636.02 2360.57 640.95 2360.75C645.88 2360.93 654.28 2362.3 654.1 2363.49C653.92 2364.68 644.42 2366.23 639.85 2367.87C635.29 2369.52 631.09 2370.98 626.7 2373.35C622.32 2375.73 617.94 2378.83 613.55 2382.12C609.17 2385.41 604.42 2389.24 600.41 2393.08C596.39 2396.91 592.37 2401.29 589.45 2405.13C586.53 2408.96 584.88 2413.62 582.87 2416.09C580.86 2418.55 579.59 2419.56 577.39 2419.92C575.2 2420.29 570.91 2420.56 569.72 2418.28Z" fill="url(#gshade)"/>
<path d="M628.9 2378.83C629.81 2377.19 638.03 2374.45 643.14 2373.35C648.25 2372.26 654.46 2371.71 659.58 2372.26C664.69 2372.8 669.8 2374.45 673.82 2376.64C677.84 2378.83 681.68 2382.12 683.68 2385.41C685.69 2388.69 686.24 2392.71 685.88 2396.36C685.51 2400.02 682.77 2404.58 681.49 2407.32C680.21 2410.06 679.67 2412.25 678.21 2412.8C676.74 2413.35 675.83 2411.16 672.73 2410.61C669.62 2410.06 662.68 2410.79 659.58 2409.51C656.47 2408.23 655.92 2406.23 654.1 2402.94C652.27 2399.65 651.36 2393.08 648.62 2389.79C645.88 2386.5 640.95 2385.04 637.66 2383.21C634.37 2381.39 627.98 2380.47 628.9 2378.83Z" fill="url(#gwhite)"/>
<path d="M582.87 2411.7C582.87 2407.32 583.97 2402.21 586.16 2398.55C588.35 2394.9 591.82 2392.16 596.02 2389.79C600.22 2387.41 606.25 2385.59 611.36 2384.31C616.48 2383.03 621.59 2381.94 626.7 2382.12C631.82 2382.3 637.66 2383.4 642.04 2385.41C646.43 2387.41 650.81 2390.88 653 2394.17C655.19 2397.46 655.56 2401.48 655.19 2405.13C654.83 2408.78 653 2412.98 650.81 2416.09C648.62 2419.19 646.06 2422.66 642.04 2423.76C638.03 2424.85 631.45 2422.3 626.7 2422.66C621.96 2423.03 616.84 2424.49 613.55 2425.95C610.27 2427.41 609.9 2430.51 606.98 2431.43C604.06 2432.34 599.49 2432.52 596.02 2431.43C592.55 2430.33 588.35 2428.14 586.16 2424.85C583.97 2421.57 582.87 2416.09 582.87 2411.7Z" fill="url(#gwhite)"/>
<path d="M633.28 2462.11C632 2459.55 631.45 2450.97 632.18 2446.77C632.91 2442.57 634.92 2439.46 637.66 2436.91C640.4 2434.35 644.05 2433.25 648.62 2431.43C653.19 2429.6 659.94 2428.14 665.06 2425.95C670.17 2423.76 675.47 2421.38 679.3 2418.28C683.14 2415.17 686.06 2410.43 688.07 2407.32C690.08 2404.22 690.08 2400.93 691.35 2399.65C692.63 2398.37 694.64 2398.55 695.74 2399.65C696.83 2400.75 698.11 2403.3 697.93 2406.23C697.75 2409.15 696.47 2413.71 694.64 2417.18C692.82 2420.65 690.08 2423.94 686.97 2427.04C683.87 2430.15 680.58 2432.52 676.01 2435.81C671.45 2439.1 664.14 2443.48 659.58 2446.77C655.01 2450.06 651.91 2452.98 648.62 2455.53C645.33 2458.09 642.41 2461.01 639.85 2462.11C637.3 2463.21 634.56 2464.67 633.28 2462.11Z" fill="url(#gwhite)"/>
<path d="M621.23 2435.81C622.78 2433.62 625.79 2430.33 628.9 2429.24C632 2428.14 638.39 2427.59 639.85 2429.24C641.31 2430.88 638.76 2435.45 637.66 2439.1C636.57 2442.75 634.74 2447.5 633.28 2451.15C631.82 2454.8 630.72 2459.19 628.9 2461.01C627.07 2462.84 623.96 2463.39 622.32 2462.11C620.68 2460.83 619.49 2456.63 619.03 2453.34C618.58 2450.06 619.22 2445.31 619.58 2442.39C619.95 2439.46 619.67 2438 621.23 2435.81Z" fill="#3a8cc4"/>
<path d="M621.23 2435.81C622.78 2433.62 625.79 2430.33 628.9 2429.24C632 2428.14 638.39 2427.59 639.85 2429.24C641.31 2430.88 638.76 2435.45 637.66 2439.1C636.57 2442.75 634.74 2447.5 633.28 2451.15C631.82 2454.8 630.72 2459.19 628.9 2461.01C627.07 2462.84 623.96 2463.39 622.32 2462.11C620.68 2460.83 619.49 2456.63 619.03 2453.34C618.58 2450.06 619.22 2445.31 619.58 2442.39C619.95 2439.46 619.67 2438 621.23 2435.81Z" fill="url(#gshade)"/>
<path d="M743 2395.74C744.92 2392.48 752.61 2385.94 759.15 2380.75C765.68 2375.56 774.53 2368.83 782.21 2364.6C789.9 2360.37 797.59 2357.68 805.28 2355.37C812.97 2353.07 820.66 2351.15 828.35 2350.76C836.04 2350.38 843.73 2351.53 851.42 2353.07C859.11 2354.61 867.57 2356.91 874.49 2359.99C881.41 2363.06 887.56 2367.29 892.94 2371.52C898.32 2375.75 903.13 2380.75 906.78 2385.36C910.43 2389.98 913.89 2395.55 914.86 2399.2C915.82 2402.86 914.66 2405.74 912.55 2407.28C910.43 2408.82 905.82 2410.16 902.17 2408.43C898.52 2406.7 895.25 2401.13 890.63 2396.9C886.02 2392.67 881.02 2386.9 874.49 2383.06C867.95 2379.21 859.11 2375.75 851.42 2373.83C843.73 2371.91 836.04 2371.33 828.35 2371.52C820.66 2371.71 811.82 2373.44 805.28 2374.98C798.75 2376.52 793.75 2377.87 789.13 2380.75C784.52 2383.63 780.29 2387.67 777.6 2392.28C774.91 2396.9 775.68 2405.93 772.99 2408.43C770.3 2410.93 765.68 2408.62 761.45 2407.28C757.22 2405.93 750.69 2402.28 747.61 2400.36C744.54 2398.44 741.08 2399.01 743 2395.74Z" fill="#d46850"/>
<path d="M743 2395.74C744.92 2392.48 752.61 2385.94 759.15 2380.75C765.68 2375.56 774.53 2368.83 782.21 2364.6C789.9 2360.37 797.59 2357.68 805.28 2355.37C812.97 2353.07 820.66 2351.15 828.35 2350.76C836.04 2350.38 843.73 2351.53 851.42 2353.07C859.11 2354.61 867.57 2356.91 874.49 2359.99C881.41 2363.06 887.56 2367.29 892.94 2371.52C898.32 2375.75 903.13 2380.75 906.78 2385.36C910.43 2389.98 913.89 2395.55 914.86 2399.2C915.82 2402.86 914.66 2405.74 912.55 2407.28C910.43 2408.82 905.82 2410.16 902.17 2408.43C898.52 2406.7 895.25 2401.13 890.63 2396.9C886.02 2392.67 881.02 2386.9 874.49 2383.06C867.95 2379.21 859.11 2375.75 851.42 2373.83C843.73 2371.91 836.04 2371.33 828.35 2371.52C820.66 2371.71 811.82 2373.44 805.28 2374.98C798.75 2376.52 793.75 2377.87 789.13 2380.75C784.52 2383.63 780.29 2387.67 777.6 2392.28C774.91 2396.9 775.68 2405.93 772.99 2408.43C770.3 2410.93 765.68 2408.62 761.45 2407.28C757.22 2405.93 750.69 2402.28 747.61 2400.36C744.54 2398.44 741.08 2399.01 743 2395.74Z" fill="url(#gshade)"/>
<path d="M867.57 2403.82C870.64 2401.9 880.64 2402.28 886.02 2401.51C891.4 2400.74 896.79 2398.05 899.86 2399.2C902.94 2400.36 904.09 2405.16 904.48 2408.43C904.86 2411.7 903.71 2416.89 902.17 2418.81C900.63 2420.73 899.09 2420.54 895.25 2419.97C891.4 2419.39 883.71 2416.51 879.1 2415.35C874.49 2414.2 869.49 2414.97 867.57 2413.04C865.64 2411.12 864.49 2405.74 867.57 2403.82Z" fill="#c0272d"/>
<path d="M867.57 2403.82C870.64 2401.9 880.64 2402.28 886.02 2401.51C891.4 2400.74 896.79 2398.05 899.86 2399.2C902.94 2400.36 904.09 2405.16 904.48 2408.43C904.86 2411.7 903.71 2416.89 902.17 2418.81C900.63 2420.73 899.09 2420.54 895.25 2419.97C891.4 2419.39 883.71 2416.51 879.1 2415.35C874.49 2414.2 869.49 2414.97 867.57 2413.04C865.64 2411.12 864.49 2405.74 867.57 2403.82Z" fill="url(#gshade)"/>
<path d="M789.13 2399.2C791.83 2394.59 798.75 2384.79 805.28 2380.75C811.82 2376.71 821.43 2374.98 828.35 2374.98C835.27 2374.98 842.19 2377.48 846.81 2380.75C851.42 2384.02 854.11 2389.98 856.03 2394.59C857.95 2399.2 859.11 2404.2 858.34 2408.43C857.57 2412.66 855.65 2417.27 851.42 2419.97C847.19 2422.66 838.73 2424.19 832.96 2424.58C827.2 2424.96 822.2 2423.43 816.82 2422.27C811.43 2421.12 805.28 2419.97 800.67 2417.66C796.06 2415.35 791.06 2411.51 789.13 2408.43C787.21 2405.36 786.44 2403.82 789.13 2399.2Z" fill="url(#gwhite)"/>
<path d="M821.43 2413.04C823.35 2410.35 832.96 2407.66 839.88 2406.12C846.81 2404.59 857.95 2402.28 862.95 2403.82C867.95 2405.36 869.87 2412.28 869.87 2415.35C869.87 2418.43 867.18 2420.73 862.95 2422.27C858.72 2423.81 850.27 2424.58 844.5 2424.58C838.73 2424.58 832.2 2424.19 828.35 2422.27C824.51 2420.35 819.51 2415.74 821.43 2413.04Z" fill="url(#gwhite)"/>
<path d="M867.57 2416.51C870.07 2414.39 877.56 2414.39 881.41 2414.2C885.25 2414.01 888.9 2414.01 890.63 2415.35C892.36 2416.7 892.94 2419.97 891.79 2422.27C890.63 2424.58 886.98 2427.65 883.71 2429.19C880.45 2430.73 875.06 2431.88 872.18 2431.5C869.3 2431.11 867.18 2429.38 866.41 2426.89C865.64 2424.39 865.07 2418.62 867.57 2416.51Z" fill="#4a93c6"/>
<path d="M867.57 2416.51C870.07 2414.39 877.56 2414.39 881.41 2414.2C885.25 2414.01 888.9 2414.01 890.63 2415.35C892.36 2416.7 892.94 2419.97 891.79 2422.27C890.63 2424.58 886.98 2427.65 883.71 2429.19C880.45 2430.73 875.06 2431.88 872.18 2431.5C869.3 2431.11 867.18 2429.38 866.41 2426.89C865.64 2424.39 865.07 2418.62 867.57 2416.51Z" fill="url(#gshade)"/>
<path d="M775.29 2401.51C776.26 2399.59 779.14 2396.51 782.21 2399.2C785.29 2401.9 788.75 2411.89 793.75 2417.66C798.75 2423.43 806.05 2429.19 812.2 2433.81C818.35 2438.42 826.04 2441.88 830.66 2445.34C835.27 2448.8 837.96 2451.49 839.88 2454.57C841.81 2457.64 842.96 2462.64 842.19 2463.79C841.42 2464.95 839.5 2463.79 835.27 2461.49C831.04 2459.18 822.97 2454.18 816.82 2449.95C810.67 2445.72 804.13 2440.73 798.36 2436.11C792.6 2431.5 785.87 2426.5 782.21 2422.27C778.56 2418.04 777.6 2414.2 776.45 2410.74C775.29 2407.28 774.33 2403.43 775.29 2401.51Z" fill="url(#gwhite)"/>
<path d="M832.96 2429.19C833.73 2426.69 839.12 2426.89 842.19 2428.04C845.27 2429.19 849.11 2432.46 851.42 2436.11C853.73 2439.77 855.65 2445.72 856.03 2449.95C856.42 2454.18 855.26 2459.18 853.73 2461.49C852.19 2463.79 848.73 2464.95 846.81 2463.79C844.88 2462.64 843.73 2458.03 842.19 2454.57C840.65 2451.11 839.12 2447.26 837.58 2443.03C836.04 2438.8 832.2 2431.69 832.96 2429.19Z" fill="#3a8cc4"/>
<path d="M832.96 2429.19C833.73 2426.69 839.12 2426.89 842.19 2428.04C845.27 2429.19 849.11 2432.46 851.42 2436.11C853.73 2439.77 855.65 2445.72 856.03 2449.95C856.42 2454.18 855.26 2459.18 853.73 2461.49C852.19 2463.79 848.73 2464.95 846.81 2463.79C844.88 2462.64 843.73 2458.03 842.19 2454.57C840.65 2451.11 839.12 2447.26 837.58 2443.03C836.04 2438.8 832.2 2431.69 832.96 2429.19Z" fill="url(#gshade)"/>
<path d="M928.07 2403.82C926.92 2400.36 927.11 2390.75 929.23 2385.36C931.34 2379.98 935.76 2376.14 940.76 2371.52C945.76 2366.91 951.91 2361.53 959.22 2357.68C966.52 2353.84 975.75 2350.57 984.59 2348.45C993.43 2346.34 1003.04 2345.19 1012.27 2344.99C1021.5 2344.8 1031.5 2345.57 1039.95 2347.3C1048.41 2349.03 1056.1 2351.72 1063.02 2355.37C1069.94 2359.03 1076.48 2364.6 1081.48 2369.22C1086.47 2373.83 1090.13 2378.64 1093.01 2383.06C1095.89 2387.48 1099.16 2392.48 1098.78 2395.74C1098.39 2399.01 1094.36 2400.36 1090.7 2402.66C1087.05 2404.97 1080.32 2409.01 1076.86 2409.58C1073.4 2410.16 1072.63 2409.78 1069.94 2406.12C1067.25 2402.47 1064.94 2392.86 1060.72 2387.67C1056.49 2382.48 1050.72 2377.98 1044.57 2374.98C1038.42 2371.98 1031.11 2370.33 1023.81 2369.68C1016.5 2369.02 1007.27 2369.79 1000.74 2371.06C994.2 2372.33 989.01 2374.14 984.59 2377.29C980.17 2380.44 977.29 2386.13 974.21 2389.98C971.13 2393.82 969.4 2398.24 966.14 2400.36C962.87 2402.47 959.6 2401.7 954.6 2402.66C949.6 2403.63 940.57 2405.93 936.15 2406.12C931.73 2406.32 929.23 2407.28 928.07 2403.82Z" fill="#720a25"/>
<path d="M928.07 2403.82C926.92 2400.36 927.11 2390.75 929.23 2385.36C931.34 2379.98 935.76 2376.14 940.76 2371.52C945.76 2366.91 951.91 2361.53 959.22 2357.68C966.52 2353.84 975.75 2350.57 984.59 2348.45C993.43 2346.34 1003.04 2345.19 1012.27 2344.99C1021.5 2344.8 1031.5 2345.57 1039.95 2347.3C1048.41 2349.03 1056.1 2351.72 1063.02 2355.37C1069.94 2359.03 1076.48 2364.6 1081.48 2369.22C1086.47 2373.83 1090.13 2378.64 1093.01 2383.06C1095.89 2387.48 1099.16 2392.48 1098.78 2395.74C1098.39 2399.01 1094.36 2400.36 1090.7 2402.66C1087.05 2404.97 1080.32 2409.01 1076.86 2409.58C1073.4 2410.16 1072.63 2409.78 1069.94 2406.12C1067.25 2402.47 1064.94 2392.86 1060.72 2387.67C1056.49 2382.48 1050.72 2377.98 1044.57 2374.98C1038.42 2371.98 1031.11 2370.33 1023.81 2369.68C1016.5 2369.02 1007.27 2369.79 1000.74 2371.06C994.2 2372.33 989.01 2374.14 984.59 2377.29C980.17 2380.44 977.29 2386.13 974.21 2389.98C971.13 2393.82 969.4 2398.24 966.14 2400.36C962.87 2402.47 959.6 2401.7 954.6 2402.66C949.6 2403.63 940.57 2405.93 936.15 2406.12C931.73 2406.32 929.23 2407.28 928.07 2403.82Z" fill="url(#gshade)"/>
<path d="M938.45 2403.36C942.88 2401.43 960.56 2402.13 966.14 2403.36C971.71 2404.59 971.9 2408.66 971.9 2410.74C971.9 2412.81 969.79 2414.66 966.14 2415.81C962.48 2416.97 954.41 2417.81 949.99 2417.66C945.57 2417.5 941.53 2417.27 939.61 2414.89C937.69 2412.51 934.03 2405.28 938.45 2403.36Z" fill="#d65e47"/>
<path d="M938.45 2403.36C942.88 2401.43 960.56 2402.13 966.14 2403.36C971.71 2404.59 971.9 2408.66 971.9 2410.74C971.9 2412.81 969.79 2414.66 966.14 2415.81C962.48 2416.97 954.41 2417.81 949.99 2417.66C945.57 2417.5 941.53 2417.27 939.61 2414.89C937.69 2412.51 934.03 2405.28 938.45 2403.36Z" fill="url(#gshade)"/>
<path d="M947.68 2417.66C949.99 2416.12 961.14 2415.04 966.14 2415.81C971.13 2416.58 975.67 2419.66 977.67 2422.27C979.67 2424.89 980.05 2429.77 978.13 2431.5C976.21 2433.23 970.44 2433.73 966.14 2432.65C961.83 2431.58 955.37 2427.54 952.3 2425.04C949.22 2422.54 945.37 2419.2 947.68 2417.66Z" fill="#e89274"/>
<path d="M947.68 2417.66C949.99 2416.12 961.14 2415.04 966.14 2415.81C971.13 2416.58 975.67 2419.66 977.67 2422.27C979.67 2424.89 980.05 2429.77 978.13 2431.5C976.21 2433.23 970.44 2433.73 966.14 2432.65C961.83 2431.58 955.37 2427.54 952.3 2425.04C949.22 2422.54 945.37 2419.2 947.68 2417.66Z" fill="url(#gshade)"/>
<path d="M966.14 2422.27C966.52 2419.2 969.21 2412.28 973.06 2410.74C976.9 2409.2 981.9 2411.89 989.2 2413.04C996.51 2414.2 1011.5 2416.12 1016.89 2417.66C1022.27 2419.2 1022.27 2420.73 1021.5 2422.27C1020.73 2423.81 1017.65 2425.73 1012.27 2426.89C1006.89 2428.04 996.12 2428.81 989.2 2429.19C982.28 2429.58 974.59 2430.35 970.75 2429.19C966.91 2428.04 965.75 2425.35 966.14 2422.27Z" fill="url(#glblue2)"/>
<path d="M989.2 2396.9C989.59 2392.28 991.51 2384.98 996.12 2380.75C1000.74 2376.52 1009.58 2372.87 1016.89 2371.52C1024.19 2370.18 1033.42 2370.75 1039.95 2372.68C1046.49 2374.6 1052.64 2378.64 1056.1 2383.06C1059.56 2387.48 1061.1 2394.59 1060.72 2399.2C1060.33 2403.82 1058.79 2408.43 1053.79 2410.74C1048.8 2413.04 1038.42 2412.47 1030.73 2413.04C1023.04 2413.62 1013.81 2414.97 1007.66 2414.2C1001.51 2413.43 996.89 2411.31 993.82 2408.43C990.74 2405.55 988.82 2401.51 989.2 2396.9Z" fill="url(#glblue)"/>
<path d="M975.36 2410.74C976.52 2407.82 980.36 2401.13 984.59 2399.2C988.82 2397.28 995.36 2397.67 1000.74 2399.2C1006.12 2400.74 1014.96 2405.74 1016.89 2408.43C1018.81 2411.12 1016.12 2413.89 1012.27 2415.35C1008.43 2416.81 999.58 2416.97 993.82 2417.2C988.05 2417.43 980.75 2417.81 977.67 2416.74C974.59 2415.66 974.21 2413.66 975.36 2410.74Z" fill="url(#gwhite)"/>
<path d="M1003.04 2461.49C1002.28 2457.84 1002.66 2445.72 1005.35 2440.73C1008.04 2435.73 1012.66 2434.96 1019.19 2431.5C1025.73 2428.04 1037.65 2424.19 1044.57 2419.97C1051.49 2415.74 1056.87 2409.97 1060.72 2406.12C1064.56 2402.28 1065.71 2398.05 1067.64 2396.9C1069.56 2395.74 1071.86 2396.51 1072.25 2399.2C1072.63 2401.9 1072.25 2408.82 1069.94 2413.04C1067.64 2417.27 1063.41 2420.73 1058.41 2424.58C1053.41 2428.42 1046.49 2431.88 1039.95 2436.11C1033.42 2440.34 1024.19 2445.53 1019.19 2449.95C1014.19 2454.38 1012.66 2460.72 1009.97 2462.64C1007.27 2464.56 1003.81 2465.14 1003.04 2461.49Z" fill="url(#glblue2)"/>
<path d="M989.2 2438.42C991.13 2434.96 994.78 2432.85 998.43 2431.5C1002.08 2430.15 1009.2 2428.04 1011.12 2430.35C1013.04 2432.65 1011.31 2440.53 1009.97 2445.34C1008.62 2450.15 1004.97 2455.53 1003.04 2459.18C1001.12 2462.83 1000.55 2466.1 998.43 2467.25C996.32 2468.41 992.28 2468.6 990.36 2466.1C988.44 2463.6 987.09 2456.87 986.9 2452.26C986.71 2447.65 987.28 2441.88 989.2 2438.42Z" fill="#2166ac"/>
<path d="M989.2 2438.42C991.13 2434.96 994.78 2432.85 998.43 2431.5C1002.08 2430.15 1009.2 2428.04 1011.12 2430.35C1013.04 2432.65 1011.31 2440.53 1009.97 2445.34C1008.62 2450.15 1004.97 2455.53 1003.04 2459.18C1001.12 2462.83 1000.55 2466.1 998.43 2467.25C996.32 2468.41 992.28 2468.6 990.36 2466.1C988.44 2463.6 987.09 2456.87 986.9 2452.26C986.71 2447.65 987.28 2441.88 989.2 2438.42Z" fill="url(#gshade)"/>
<path d="M1111.46 2394.59C1112.62 2390.75 1118.39 2383.44 1123 2378.44C1127.61 2373.44 1133 2368.83 1139.15 2364.6C1145.3 2360.37 1152.22 2356.14 1159.91 2353.07C1167.6 2349.99 1177.21 2347.49 1185.28 2346.15C1193.36 2344.8 1200.66 2344.61 1208.35 2344.99C1216.04 2345.38 1223.73 2346.34 1231.42 2348.45C1239.11 2350.57 1247.57 2353.84 1254.49 2357.68C1261.41 2361.53 1268.33 2366.52 1272.94 2371.52C1277.55 2376.52 1280.63 2382.48 1282.17 2387.67C1283.71 2392.86 1283.32 2399.59 1282.17 2402.66C1281.01 2405.74 1277.94 2407.85 1275.25 2406.12C1272.56 2404.39 1270.25 2397.28 1266.02 2392.28C1261.79 2387.29 1256.41 2379.98 1249.87 2376.14C1243.34 2372.29 1234.88 2370.37 1226.81 2369.22C1218.73 2368.06 1209.5 2368.64 1201.43 2369.22C1193.36 2369.79 1185.28 2371.06 1178.36 2372.68C1171.44 2374.29 1165.1 2375.94 1159.91 2378.9C1154.72 2381.86 1150.68 2385.71 1147.22 2390.44C1143.76 2395.17 1142.41 2404.59 1139.15 2407.28C1135.88 2409.97 1131.46 2407.55 1127.61 2406.59C1123.77 2405.62 1118.77 2403.51 1116.08 2401.51C1113.39 2399.51 1110.31 2398.44 1111.46 2394.59Z" fill="#720a25"/>
<path d="M1111.46 2394.59C1112.62 2390.75 1118.39 2383.44 1123 2378.44C1127.61 2373.44 1133 2368.83 1139.15 2364.6C1145.3 2360.37 1152.22 2356.14 1159.91 2353.07C1167.6 2349.99 1177.21 2347.49 1185.28 2346.15C1193.36 2344.8 1200.66 2344.61 1208.35 2344.99C1216.04 2345.38 1223.73 2346.34 1231.42 2348.45C1239.11 2350.57 1247.57 2353.84 1254.49 2357.68C1261.41 2361.53 1268.33 2366.52 1272.94 2371.52C1277.55 2376.52 1280.63 2382.48 1282.17 2387.67C1283.71 2392.86 1283.32 2399.59 1282.17 2402.66C1281.01 2405.74 1277.94 2407.85 1275.25 2406.12C1272.56 2404.39 1270.25 2397.28 1266.02 2392.28C1261.79 2387.29 1256.41 2379.98 1249.87 2376.14C1243.34 2372.29 1234.88 2370.37 1226.81 2369.22C1218.73 2368.06 1209.5 2368.64 1201.43 2369.22C1193.36 2369.79 1185.28 2371.06 1178.36 2372.68C1171.44 2374.29 1165.1 2375.94 1159.91 2378.9C1154.72 2381.86 1150.68 2385.71 1147.22 2390.44C1143.76 2395.17 1142.41 2404.59 1139.15 2407.28C1135.88 2409.97 1131.46 2407.55 1127.61 2406.59C1123.77 2405.62 1118.77 2403.51 1116.08 2401.51C1113.39 2399.51 1110.31 2398.44 1111.46 2394.59Z" fill="url(#gshade)"/>
<path d="M1178.36 2361.14C1182.21 2358.84 1199.12 2353.45 1208.35 2353.07C1217.58 2352.68 1225.65 2355.37 1233.73 2358.84C1241.8 2362.3 1250.45 2368.25 1256.79 2373.83C1263.14 2379.4 1268.33 2386.52 1271.79 2392.28C1275.25 2398.05 1276.98 2404.01 1277.55 2408.43C1278.13 2412.85 1277.55 2417.08 1275.25 2418.81C1272.94 2420.54 1266.6 2421.89 1263.71 2418.81C1260.83 2415.74 1261.21 2406.12 1257.95 2400.36C1254.68 2394.59 1249.68 2388.82 1244.11 2384.21C1238.53 2379.6 1231.23 2375.37 1224.5 2372.68C1217.77 2369.98 1210.27 2369.02 1203.74 2368.06C1197.2 2367.1 1189.51 2368.06 1185.28 2366.91C1181.05 2365.76 1174.52 2363.45 1178.36 2361.14Z" fill="#d5604a"/>
<path d="M1178.36 2361.14C1182.21 2358.84 1199.12 2353.45 1208.35 2353.07C1217.58 2352.68 1225.65 2355.37 1233.73 2358.84C1241.8 2362.3 1250.45 2368.25 1256.79 2373.83C1263.14 2379.4 1268.33 2386.52 1271.79 2392.28C1275.25 2398.05 1276.98 2404.01 1277.55 2408.43C1278.13 2412.85 1277.55 2417.08 1275.25 2418.81C1272.94 2420.54 1266.6 2421.89 1263.71 2418.81C1260.83 2415.74 1261.21 2406.12 1257.95 2400.36C1254.68 2394.59 1249.68 2388.82 1244.11 2384.21C1238.53 2379.6 1231.23 2375.37 1224.5 2372.68C1217.77 2369.98 1210.27 2369.02 1203.74 2368.06C1197.2 2367.1 1189.51 2368.06 1185.28 2366.91C1181.05 2365.76 1174.52 2363.45 1178.36 2361.14Z" fill="url(#gshade)"/>
<path d="M1150.68 2399.2C1150.68 2394.78 1151.45 2387.48 1155.29 2383.06C1159.14 2378.64 1166.83 2374.6 1173.75 2372.68C1180.67 2370.75 1190.28 2370.56 1196.82 2371.52C1203.35 2372.48 1209.5 2375.37 1212.96 2378.44C1216.42 2381.52 1218.73 2386.52 1217.58 2389.98C1216.42 2393.44 1211.43 2396.51 1206.04 2399.2C1200.66 2401.9 1191.43 2404.2 1185.28 2406.12C1179.13 2408.05 1174.13 2410.16 1169.13 2410.74C1164.14 2411.31 1158.37 2411.51 1155.29 2409.58C1152.22 2407.66 1150.68 2403.63 1150.68 2399.2Z" fill="url(#glblue)"/>
<path d="M1185.28 2396.9C1187.2 2392.67 1191.05 2388.05 1196.82 2385.36C1202.58 2382.67 1212.2 2380.75 1219.88 2380.75C1227.57 2380.75 1236.8 2382.67 1242.95 2385.36C1249.1 2388.05 1254.1 2392.28 1256.79 2396.9C1259.48 2401.51 1260.64 2408.05 1259.1 2413.04C1257.56 2418.04 1251.8 2423.81 1247.57 2426.89C1243.34 2429.96 1237.19 2432.27 1233.73 2431.5C1230.27 2430.73 1231.03 2424.19 1226.81 2422.27C1222.58 2420.35 1214.12 2419.97 1208.35 2419.97C1202.58 2419.97 1196.05 2423.81 1192.2 2422.27C1188.36 2420.73 1186.44 2414.97 1185.28 2410.74C1184.13 2406.51 1183.36 2401.13 1185.28 2396.9Z" fill="url(#glblue2)"/>
<path d="M1136.84 2401.51C1137.22 2398.44 1141.45 2396.13 1143.76 2396.9C1146.07 2397.67 1146.45 2401.9 1150.68 2406.12C1154.91 2410.35 1162.98 2417.66 1169.13 2422.27C1175.29 2426.89 1182.21 2430.73 1187.59 2433.81C1192.97 2436.88 1197.97 2437.27 1201.43 2440.73C1204.89 2444.19 1207.97 2450.72 1208.35 2454.57C1208.74 2458.41 1205.66 2462.64 1203.74 2463.79C1201.81 2464.95 1201.05 2464.18 1196.82 2461.49C1192.59 2458.8 1184.9 2452.65 1178.36 2447.65C1171.83 2442.65 1163.75 2436.88 1157.6 2431.5C1151.45 2426.12 1144.91 2420.35 1141.45 2415.35C1137.99 2410.35 1136.46 2404.59 1136.84 2401.51Z" fill="url(#glblue2)"/>
<path d="M1199.12 2431.5C1200.28 2429.19 1205.27 2428.04 1208.35 2429.19C1211.43 2430.35 1215.27 2434.58 1217.58 2438.42C1219.88 2442.26 1221.81 2448.03 1222.19 2452.26C1222.58 2456.49 1221.42 2461.3 1219.88 2463.79C1218.35 2466.29 1214.89 2468.02 1212.96 2467.25C1211.04 2466.49 1210.27 2463.22 1208.35 2459.18C1206.43 2455.14 1202.97 2447.65 1201.43 2443.03C1199.89 2438.42 1197.97 2433.81 1199.12 2431.5Z" fill="#2166ac"/>
<path d="M1199.12 2431.5C1200.28 2429.19 1205.27 2428.04 1208.35 2429.19C1211.43 2430.35 1215.27 2434.58 1217.58 2438.42C1219.88 2442.26 1221.81 2448.03 1222.19 2452.26C1222.58 2456.49 1221.42 2461.3 1219.88 2463.79C1218.35 2466.29 1214.89 2468.02 1212.96 2467.25C1211.04 2466.49 1210.27 2463.22 1208.35 2459.18C1206.43 2455.14 1202.97 2447.65 1201.43 2443.03C1199.89 2438.42 1197.97 2433.81 1199.12 2431.5Z" fill="url(#gshade)"/>
</svg>
</body></html>
